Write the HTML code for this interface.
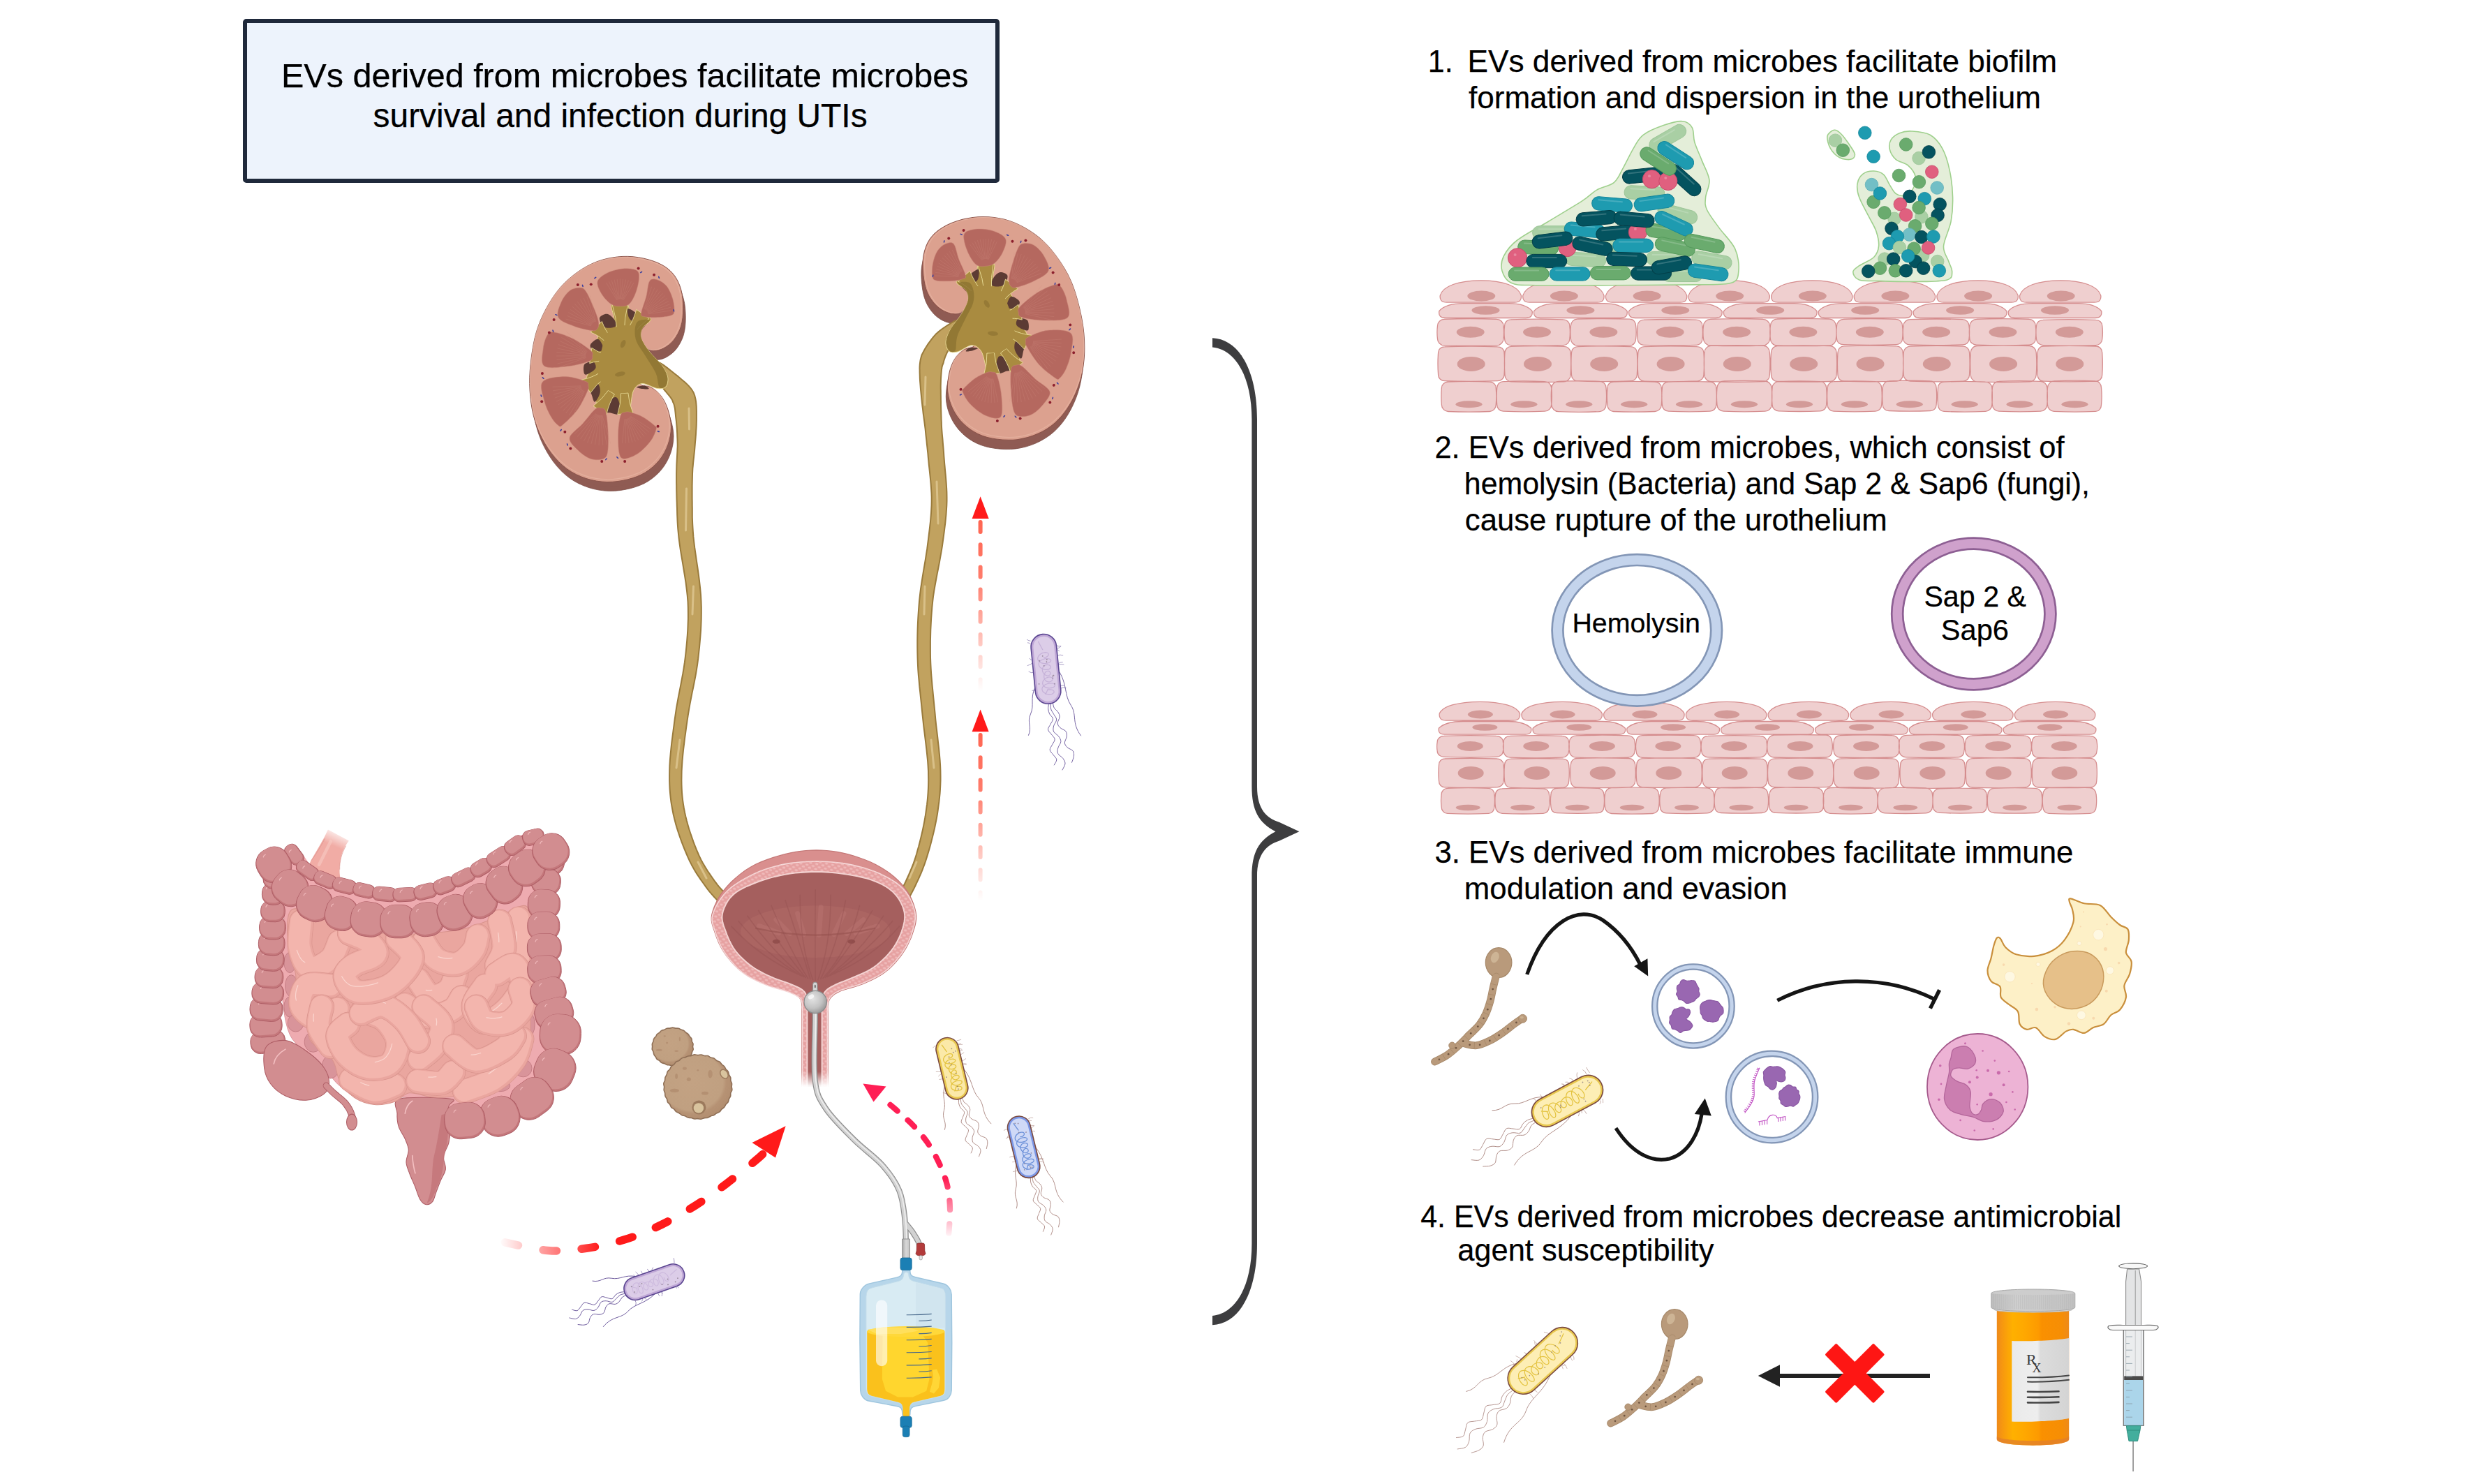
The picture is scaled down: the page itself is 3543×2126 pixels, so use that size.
<!DOCTYPE html>
<html lang="en"><head><meta charset="utf-8"><title>EVs derived from microbes in UTIs</title>
<style>html,body{margin:0;padding:0;background:#fff}body{width:3543px;height:2126px;overflow:hidden}svg{display:block}</style></head>
<body><svg width="3543" height="2126" viewBox="0 0 3543 2126">
<rect width="3543" height="2126" fill="#fff"/>
<rect x="351" y="30" width="1078" height="229" rx="2" fill="#edf3fc" stroke="#1f293b" stroke-width="6"/>
<defs><linearGradient id="gef" gradientUnits="userSpaceOnUse" x1="690" y1="80" x2="640" y2="190"><stop offset="0" stop-color="#f1aca5" stop-opacity="0"/><stop offset="1" stop-color="#f1aca5" stop-opacity="1"/></linearGradient></defs><g transform="translate(340,1170) scale(0.20894)"><path d="M622,88 C590,160 545,230 505,300 C490,330 480,380 490,420 L720,470 C690,400 700,300 722,240 C735,210 750,185 765,165 Z" fill="url(#gef)" stroke="none"/><path d="M600,150 C575,200 545,250 508,300 M745,200 C715,250 700,310 702,362" fill="none" stroke="#d9918b" stroke-width="4" opacity=".8"/><path d="M640,170 C610,230 585,280 560,330" fill="none" stroke="#f8cdc7" stroke-width="22" stroke-linecap="round" opacity=".55"/><path d="M300,420C330,403.3 383.3,543.3 500,600C616.7,656.7 833.3,743.3 1000,760C1166.7,776.7 1333.3,756.7 1500,700C1666.7,643.3 1896.7,420 2000,420C2103.3,420 2101.7,586.7 2120,700C2138.3,813.3 2103.3,975.9 2110,1100C2116.7,1224.1 2161.7,1327 2160,1444.4C2158.3,1561.8 2160,1714.4 2100,1804.4C2040,1894.4 1908.3,1951.1 1800,1984.4C1691.7,2017.7 1558.3,2014.4 1450,2004.4C1341.7,1994.4 1241.7,1931.1 1150,1924.4C1058.3,1917.7 975,1977.7 900,1964.4C825,1951.1 756.7,1892.7 700,1844.4C643.3,1796.1 616.7,1732.7 560,1674.4C503.3,1616.1 403.3,1590.1 360,1494.4C316.7,1398.7 306.7,1232.4 300,1100C293.3,967.6 320,813.3 320,700C320,586.7 270,436.7 300,420Z" fill="#eeabb0" stroke="#d58e95" stroke-width="4"/><ellipse cx="360" cy="1000" rx="40" ry="70" fill="#d9949a" stroke="#c07880" stroke-width="4"/><ellipse cx="370" cy="1160" rx="42" ry="75" fill="#d9949a" stroke="#c07880" stroke-width="4"/><ellipse cx="360" cy="1304.4" rx="40" ry="70" fill="#d9949a" stroke="#c07880" stroke-width="4"/><ellipse cx="400" cy="1414.4" rx="55" ry="60" fill="#d9949a" stroke="#c07880" stroke-width="4"/><ellipse cx="520" cy="1544.4" rx="60" ry="70" fill="#d9949a" stroke="#c07880" stroke-width="4"/><ellipse cx="640" cy="1714.4" rx="60" ry="80" fill="#d9949a" stroke="#c07880" stroke-width="4"/><ellipse cx="1990" cy="1424.4" rx="50" ry="90" fill="#d9949a" stroke="#c07880" stroke-width="4"/><ellipse cx="1960" cy="1724.4" rx="60" ry="60" fill="#d9949a" stroke="#c07880" stroke-width="4"/><ellipse cx="1800" cy="1844.4" rx="70" ry="40" fill="#d9949a" stroke="#c07880" stroke-width="4"/><ellipse cx="2040" cy="700" rx="40" ry="80" fill="#d9949a" stroke="#c07880" stroke-width="4"/><ellipse cx="2030" cy="900" rx="40" ry="90" fill="#d9949a" stroke="#c07880" stroke-width="4"/><path d="M1115,1934.4C1054,1951.1 1097.5,2002.7 1096,2034.4C1094.5,2066.1 1097,2095.2 1106,2124.4C1115,2153.6 1138.7,2182.7 1150,2209.4C1161.3,2236.1 1172.7,2257.7 1174,2284.4C1175.3,2311.1 1156.7,2341.9 1158,2369.4C1159.3,2396.9 1172,2421.9 1182,2449.4C1192,2476.9 1206.3,2505.6 1218,2534.4C1229.7,2563.2 1239.7,2601.7 1252,2622.4C1264.3,2643.1 1277.7,2655.4 1292,2658.4C1306.3,2661.4 1326,2654.7 1338,2640.4C1350,2626.1 1354.7,2596.7 1364,2572.4C1373.3,2548.1 1383.3,2520.4 1394,2494.4C1404.7,2468.4 1424.7,2443.9 1428,2416.4C1431.3,2388.9 1410.3,2359.7 1414,2329.4C1417.7,2299.1 1442.7,2265.2 1450,2234.4C1457.3,2203.6 1460.3,2176.1 1458,2144.4C1455.7,2112.7 1437,2071.9 1436,2044.4C1435,2016.9 1447.7,1997.7 1452,1979.4C1456.3,1961.1 1518.2,1941.9 1462,1934.4C1405.8,1926.9 1176,1917.7 1115,1934.4Z" fill="#d28d90" stroke="#ad5c64" stroke-width="5"/><path d="M1440,2034.4 C1452,2124.4 1445,2234.4 1420,2324.4 C1410,2424.4 1400,2484.4 1365,2544.4 C1350,2594.4 1330,2639.4 1300,2649.4 C1345,2544.4 1330,2444.4 1345,2344.4 C1370,2244.4 1385,2144.4 1400,2044.4 Z" fill="#c4777b" opacity=".9"/><path d="M1150,2034.4 Q1160,1974.4 1200,1949.4 M1200,2324.4 Q1205,2394.4 1220,2444.4" fill="none" stroke="#f3bec0" stroke-width="8" stroke-linecap="round"/><path d="M370,640C411.7,606.7 495,673.3 600,700C705,726.7 850,786.7 1000,800C1150,813.3 1366.7,800 1500,780C1633.3,760 1718.3,706.7 1800,680C1881.7,653.3 1955,583.3 1990,620C2025,656.7 2010,811.7 2010,900C2010,988.3 1990,1072.6 1990,1150C1990,1227.4 2008.3,1295.3 2010,1364.4C2011.7,1433.5 2011.7,1506.1 2000,1564.4C1988.3,1622.7 1976.7,1671.1 1940,1714.4C1903.3,1757.7 1843.3,1792.7 1780,1824.4C1716.7,1856.1 1631.7,1887.7 1560,1904.4C1488.3,1921.1 1413.3,1926.1 1350,1924.4C1286.7,1922.7 1225,1889.4 1180,1894.4C1135,1899.4 1120,1941.1 1080,1954.4C1040,1967.7 986.7,1979.4 940,1974.4C893.3,1969.4 840,1952.7 800,1924.4C760,1896.1 725,1847.7 700,1804.4C675,1761.1 683.3,1709.4 650,1664.4C616.7,1619.4 528.3,1581.1 500,1534.4C471.7,1487.7 496.7,1436.8 480,1384.4C463.3,1332 413.3,1270.7 400,1220C386.7,1169.3 408.3,1133.3 400,1080C391.7,1026.7 355,973.3 350,900C345,826.7 328.3,673.3 370,640Z" fill="#eaa69f" stroke="#d9948d" stroke-width="5"/><path d="M1240,1120C1255,1138.3 1295,1218.3 1330,1230C1365,1241.7 1421.7,1215 1450,1190C1478.3,1165 1491.7,1098.3 1500,1080" fill="none" stroke="#d9948d" stroke-width="172" stroke-linecap="round" stroke-linejoin="round"/><path d="M1240,1120C1255,1138.3 1295,1218.3 1330,1230C1365,1241.7 1421.7,1215 1450,1190C1478.3,1165 1491.7,1098.3 1500,1080" fill="none" stroke="#eaa69f" stroke-width="165" stroke-linecap="round" stroke-linejoin="round"/><path d="M1240,1120C1255,1138.3 1295,1218.3 1330,1230C1365,1241.7 1421.7,1215 1450,1190C1478.3,1165 1491.7,1098.3 1500,1080" fill="none" stroke="#f3b5ad" stroke-width="143" stroke-linecap="round" stroke-linejoin="round" transform="translate(-4,-5)"/><path d="M1330,1230C1333.2,1230.5 1342.3,1232.8 1349.1,1232.8C1355.8,1232.9 1366.8,1230.8 1370.4,1230.4" fill="none" stroke="#fcdad5" stroke-width="6" stroke-linecap="round" opacity=".85" transform="translate(-36.3,-41.2)"/><path d="M1150,1290C1175,1303.3 1246.7,1363.3 1300,1370C1353.3,1376.7 1430,1351.7 1470,1330C1510,1308.3 1528.3,1255 1540,1240" fill="none" stroke="#d9948d" stroke-width="172" stroke-linecap="round" stroke-linejoin="round"/><path d="M1150,1290C1175,1303.3 1246.7,1363.3 1300,1370C1353.3,1376.7 1430,1351.7 1470,1330C1510,1308.3 1528.3,1255 1540,1240" fill="none" stroke="#eaa69f" stroke-width="165" stroke-linecap="round" stroke-linejoin="round"/><path d="M1150,1290C1175,1303.3 1246.7,1363.3 1300,1370C1353.3,1376.7 1430,1351.7 1470,1330C1510,1308.3 1528.3,1255 1540,1240" fill="none" stroke="#f3b5ad" stroke-width="143" stroke-linecap="round" stroke-linejoin="round" transform="translate(-4,-5)"/><path d="M1300,1370C1304.7,1370.1 1318.5,1371.3 1328.3,1370.9C1338.1,1370.4 1353.8,1368 1358.9,1367.4" fill="none" stroke="#fcdad5" stroke-width="6" stroke-linecap="round" opacity=".85" transform="translate(-36.3,-41.2)"/><path d="M1930,700C1933.3,733.3 1955,840 1950,900C1945,960 1908.3,1033.3 1900,1060" fill="none" stroke="#d9948d" stroke-width="172" stroke-linecap="round" stroke-linejoin="round"/><path d="M1930,700C1933.3,733.3 1955,840 1950,900C1945,960 1908.3,1033.3 1900,1060" fill="none" stroke="#eaa69f" stroke-width="165" stroke-linecap="round" stroke-linejoin="round"/><path d="M1930,700C1933.3,733.3 1955,840 1950,900C1945,960 1908.3,1033.3 1900,1060" fill="none" stroke="#f3b5ad" stroke-width="143" stroke-linecap="round" stroke-linejoin="round" transform="translate(-4,-5)"/><path d="M1947.8,828.9C1948.2,835.2 1950.1,854.8 1950.5,866.7C1950.9,878.5 1950.1,894.4 1950,900" fill="none" stroke="#fcdad5" stroke-width="6" stroke-linecap="round" opacity=".85" transform="translate(-36.3,-41.2)"/><path d="M1800,720C1805,750 1833.3,850 1830,900C1826.7,950 1788.3,1000 1780,1020" fill="none" stroke="#d9948d" stroke-width="172" stroke-linecap="round" stroke-linejoin="round"/><path d="M1800,720C1805,750 1833.3,850 1830,900C1826.7,950 1788.3,1000 1780,1020" fill="none" stroke="#eaa69f" stroke-width="165" stroke-linecap="round" stroke-linejoin="round"/><path d="M1800,720C1805,750 1833.3,850 1830,900C1826.7,950 1788.3,1000 1780,1020" fill="none" stroke="#f3b5ad" stroke-width="143" stroke-linecap="round" stroke-linejoin="round" transform="translate(-4,-5)"/><path d="M1824.8,837.8C1825.6,843.4 1828.4,861 1829.3,871.4C1830.1,881.8 1829.9,895.2 1830,900" fill="none" stroke="#fcdad5" stroke-width="6" stroke-linecap="round" opacity=".85" transform="translate(-36.3,-41.2)"/><path d="M440,720C438.3,750 420,846.7 430,900C440,953.3 465,1026.7 500,1040C535,1053.3 606.7,1010 640,980C673.3,950 690,880 700,860" fill="none" stroke="#d9948d" stroke-width="172" stroke-linecap="round" stroke-linejoin="round"/><path d="M440,720C438.3,750 420,846.7 430,900C440,953.3 465,1026.7 500,1040C535,1053.3 606.7,1010 640,980C673.3,950 690,880 700,860" fill="none" stroke="#eaa69f" stroke-width="165" stroke-linecap="round" stroke-linejoin="round"/><path d="M440,720C438.3,750 420,846.7 430,900C440,953.3 465,1026.7 500,1040C535,1053.3 606.7,1010 640,980C673.3,950 690,880 700,860" fill="none" stroke="#f3b5ad" stroke-width="143" stroke-linecap="round" stroke-linejoin="round" transform="translate(-4,-5)"/><path d="M444.8,957C446.6,961.7 451.7,976.2 455.6,985C459.6,993.8 463.9,1002.3 468.5,1009.6C473.1,1016.9 478.1,1023.6 483.4,1028.7C488.6,1033.8 497.2,1038.1 500,1040" fill="none" stroke="#fcdad5" stroke-width="6" stroke-linecap="round" opacity=".85" transform="translate(-36.3,-41.2)"/><path d="M1280,860C1295,880 1331.7,955 1370,980C1408.3,1005 1468.3,1020 1510,1010C1551.7,1000 1596.7,951.7 1620,920C1643.3,888.3 1645,836.7 1650,820" fill="none" stroke="#d9948d" stroke-width="172" stroke-linecap="round" stroke-linejoin="round"/><path d="M1280,860C1295,880 1331.7,955 1370,980C1408.3,1005 1468.3,1020 1510,1010C1551.7,1000 1596.7,951.7 1620,920C1643.3,888.3 1645,836.7 1650,820" fill="none" stroke="#eaa69f" stroke-width="165" stroke-linecap="round" stroke-linejoin="round"/><path d="M1280,860C1295,880 1331.7,955 1370,980C1408.3,1005 1468.3,1020 1510,1010C1551.7,1000 1596.7,951.7 1620,920C1643.3,888.3 1645,836.7 1650,820" fill="none" stroke="#f3b5ad" stroke-width="143" stroke-linecap="round" stroke-linejoin="round" transform="translate(-4,-5)"/><path d="M1414.1,1001.1C1418.2,1002.3 1430.5,1006.3 1438.8,1008.1C1447,1010 1455.5,1011.4 1463.7,1012.2C1471.9,1013 1480.1,1013.4 1487.8,1013C1495.5,1012.6 1506.3,1010.5 1510,1010" fill="none" stroke="#fcdad5" stroke-width="6" stroke-linecap="round" opacity=".85" transform="translate(-36.3,-41.2)"/><path d="M640,1160C613.3,1160 513.3,1136.7 480,1160C446.7,1183.3 426.7,1261.7 440,1300C453.3,1338.3 518.3,1386.7 560,1390C601.7,1393.3 668.3,1331.7 690,1320" fill="none" stroke="#d9948d" stroke-width="172" stroke-linecap="round" stroke-linejoin="round"/><path d="M640,1160C613.3,1160 513.3,1136.7 480,1160C446.7,1183.3 426.7,1261.7 440,1300C453.3,1338.3 518.3,1386.7 560,1390C601.7,1393.3 668.3,1331.7 690,1320" fill="none" stroke="#eaa69f" stroke-width="165" stroke-linecap="round" stroke-linejoin="round"/><path d="M640,1160C613.3,1160 513.3,1136.7 480,1160C446.7,1183.3 426.7,1261.7 440,1300C453.3,1338.3 518.3,1386.7 560,1390C601.7,1393.3 668.3,1331.7 690,1320" fill="none" stroke="#f3b5ad" stroke-width="143" stroke-linecap="round" stroke-linejoin="round" transform="translate(-4,-5)"/><path d="M451.9,1198.1C450.3,1202.5 445,1215.4 442.5,1224.4C440,1233.3 438.1,1242.9 437,1251.9C436,1260.8 435.5,1269.9 436,1277.9C436.5,1286 439.3,1296.3 440,1300" fill="none" stroke="#fcdad5" stroke-width="6" stroke-linecap="round" opacity=".85" transform="translate(-36.3,-41.2)"/><path d="M580,1304.4C576.7,1327.7 550,1399.4 560,1444.4C570,1489.4 626.7,1552.7 640,1574.4" fill="none" stroke="#d9948d" stroke-width="172" stroke-linecap="round" stroke-linejoin="round"/><path d="M580,1304.4C576.7,1327.7 550,1399.4 560,1444.4C570,1489.4 626.7,1552.7 640,1574.4" fill="none" stroke="#eaa69f" stroke-width="165" stroke-linecap="round" stroke-linejoin="round"/><path d="M580,1304.4C576.7,1327.7 550,1399.4 560,1444.4C570,1489.4 626.7,1552.7 640,1574.4" fill="none" stroke="#f3b5ad" stroke-width="143" stroke-linecap="round" stroke-linejoin="round" transform="translate(-4,-5)"/><path d="M560,1393.3C559.6,1397.7 557.8,1411.5 557.8,1420C557.8,1428.5 559.6,1440.3 560,1444.4" fill="none" stroke="#fcdad5" stroke-width="6" stroke-linecap="round" opacity=".85" transform="translate(-36.3,-41.2)"/><path d="M1280,1304.4C1300,1324.4 1386.7,1381.1 1400,1424.4C1413.3,1467.7 1385,1524.4 1360,1564.4C1335,1604.4 1268.3,1647.7 1250,1664.4" fill="none" stroke="#d9948d" stroke-width="172" stroke-linecap="round" stroke-linejoin="round"/><path d="M1280,1304.4C1300,1324.4 1386.7,1381.1 1400,1424.4C1413.3,1467.7 1385,1524.4 1360,1564.4C1335,1604.4 1268.3,1647.7 1250,1664.4" fill="none" stroke="#eaa69f" stroke-width="165" stroke-linecap="round" stroke-linejoin="round"/><path d="M1280,1304.4C1300,1324.4 1386.7,1381.1 1400,1424.4C1413.3,1467.7 1385,1524.4 1360,1564.4C1335,1604.4 1268.3,1647.7 1250,1664.4" fill="none" stroke="#f3b5ad" stroke-width="143" stroke-linecap="round" stroke-linejoin="round" transform="translate(-4,-5)"/><path d="M1400,1424.4C1400.6,1428.2 1403.2,1439.3 1403.4,1447C1403.6,1454.8 1401.5,1467.1 1401.1,1471.1" fill="none" stroke="#fcdad5" stroke-width="6" stroke-linecap="round" opacity=".85" transform="translate(-36.3,-41.2)"/><path d="M1560,1884.4C1593.3,1871.1 1703.3,1841.1 1760,1804.4C1816.7,1767.7 1868.3,1711.1 1900,1664.4C1931.7,1617.7 1941.7,1547.7 1950,1524.4" fill="none" stroke="#d9948d" stroke-width="172" stroke-linecap="round" stroke-linejoin="round"/><path d="M1560,1884.4C1593.3,1871.1 1703.3,1841.1 1760,1804.4C1816.7,1767.7 1868.3,1711.1 1900,1664.4C1931.7,1617.7 1941.7,1547.7 1950,1524.4" fill="none" stroke="#eaa69f" stroke-width="165" stroke-linecap="round" stroke-linejoin="round"/><path d="M1560,1884.4C1593.3,1871.1 1703.3,1841.1 1760,1804.4C1816.7,1767.7 1868.3,1711.1 1900,1664.4C1931.7,1617.7 1941.7,1547.7 1950,1524.4" fill="none" stroke="#f3b5ad" stroke-width="143" stroke-linecap="round" stroke-linejoin="round" transform="translate(-4,-5)"/><path d="M1760,1804.4C1764.6,1801.1 1778.8,1791.6 1787.8,1784.5C1796.9,1777.5 1810,1765.9 1814.4,1762.2" fill="none" stroke="#fcdad5" stroke-width="6" stroke-linecap="round" opacity=".85" transform="translate(-36.3,-41.2)"/><path d="M780,1804.4C806.7,1817.7 890,1877.7 940,1884.4C990,1891.1 1056.7,1851.1 1080,1844.4" fill="none" stroke="#d9948d" stroke-width="172" stroke-linecap="round" stroke-linejoin="round"/><path d="M780,1804.4C806.7,1817.7 890,1877.7 940,1884.4C990,1891.1 1056.7,1851.1 1080,1844.4" fill="none" stroke="#eaa69f" stroke-width="165" stroke-linecap="round" stroke-linejoin="round"/><path d="M780,1804.4C806.7,1817.7 890,1877.7 940,1884.4C990,1891.1 1056.7,1851.1 1080,1844.4" fill="none" stroke="#f3b5ad" stroke-width="143" stroke-linecap="round" stroke-linejoin="round" transform="translate(-4,-5)"/><path d="M882.2,1863.7C887.3,1865.9 903,1873.6 912.6,1877.1C922.3,1880.5 935.4,1883.2 940,1884.4" fill="none" stroke="#fcdad5" stroke-width="6" stroke-linecap="round" opacity=".85" transform="translate(-36.3,-41.2)"/><path d="M1240,1814.4C1266.7,1816.1 1360,1834.4 1400,1824.4C1440,1814.4 1466.7,1766.1 1480,1754.4" fill="none" stroke="#d9948d" stroke-width="172" stroke-linecap="round" stroke-linejoin="round"/><path d="M1240,1814.4C1266.7,1816.1 1360,1834.4 1400,1824.4C1440,1814.4 1466.7,1766.1 1480,1754.4" fill="none" stroke="#eaa69f" stroke-width="165" stroke-linecap="round" stroke-linejoin="round"/><path d="M1240,1814.4C1266.7,1816.1 1360,1834.4 1400,1824.4C1440,1814.4 1466.7,1766.1 1480,1754.4" fill="none" stroke="#f3b5ad" stroke-width="143" stroke-linecap="round" stroke-linejoin="round" transform="translate(-4,-5)"/><path d="M1346.7,1826.6C1351.6,1826.7 1367.2,1827.6 1376.1,1827.2C1385,1826.9 1396,1824.9 1400,1824.4" fill="none" stroke="#fcdad5" stroke-width="6" stroke-linecap="round" opacity=".85" transform="translate(-36.3,-41.2)"/><path d="M1490,1574.4C1515,1591.1 1583.3,1671.1 1640,1674.4C1696.7,1677.7 1786.7,1622.7 1830,1594.4C1873.3,1566.1 1888.3,1519.4 1900,1504.4" fill="none" stroke="#d9948d" stroke-width="172" stroke-linecap="round" stroke-linejoin="round"/><path d="M1490,1574.4C1515,1591.1 1583.3,1671.1 1640,1674.4C1696.7,1677.7 1786.7,1622.7 1830,1594.4C1873.3,1566.1 1888.3,1519.4 1900,1504.4" fill="none" stroke="#eaa69f" stroke-width="165" stroke-linecap="round" stroke-linejoin="round"/><path d="M1490,1574.4C1515,1591.1 1583.3,1671.1 1640,1674.4C1696.7,1677.7 1786.7,1622.7 1830,1594.4C1873.3,1566.1 1888.3,1519.4 1900,1504.4" fill="none" stroke="#f3b5ad" stroke-width="143" stroke-linecap="round" stroke-linejoin="round" transform="translate(-4,-5)"/><path d="M1640,1674.4C1645.1,1673.9 1659.9,1673.8 1670.7,1671.6C1681.5,1669.4 1699.1,1663.1 1704.8,1661.4" fill="none" stroke="#fcdad5" stroke-width="6" stroke-linecap="round" opacity=".85" transform="translate(-36.3,-41.2)"/><path d="M1700,1160C1686.7,1183.3 1620,1258.3 1620,1300C1620,1341.7 1661.7,1406.7 1700,1410C1738.3,1413.3 1808.3,1361.7 1850,1320C1891.7,1278.3 1941.7,1210 1950,1160C1958.3,1110 1928.3,1033.3 1900,1020C1871.7,1006.7 1800,1070 1780,1080" fill="none" stroke="#d9948d" stroke-width="172" stroke-linecap="round" stroke-linejoin="round"/><path d="M1700,1160C1686.7,1183.3 1620,1258.3 1620,1300C1620,1341.7 1661.7,1406.7 1700,1410C1738.3,1413.3 1808.3,1361.7 1850,1320C1891.7,1278.3 1941.7,1210 1950,1160C1958.3,1110 1928.3,1033.3 1900,1020C1871.7,1006.7 1800,1070 1780,1080" fill="none" stroke="#eaa69f" stroke-width="165" stroke-linecap="round" stroke-linejoin="round"/><path d="M1700,1160C1686.7,1183.3 1620,1258.3 1620,1300C1620,1341.7 1661.7,1406.7 1700,1410C1738.3,1413.3 1808.3,1361.7 1850,1320C1891.7,1278.3 1941.7,1210 1950,1160C1958.3,1110 1928.3,1033.3 1900,1020C1871.7,1006.7 1800,1070 1780,1080" fill="none" stroke="#f3b5ad" stroke-width="143" stroke-linecap="round" stroke-linejoin="round" transform="translate(-4,-5)"/><path d="M1700,1410C1703.6,1409.6 1713.8,1409.5 1721.5,1407.4C1729.3,1405.3 1738,1401.7 1746.7,1397.4C1755.4,1393.2 1764.7,1387.7 1773.8,1381.9C1782.8,1376.1 1792.2,1369.3 1801.1,1362.6C1810,1355.8 1818.9,1348.5 1827.1,1341.4C1835.2,1334.3 1846.2,1323.6 1850,1320" fill="none" stroke="#fcdad5" stroke-width="6" stroke-linecap="round" opacity=".85" transform="translate(-36.3,-41.2)"/><path d="M1640,1304.4C1650,1321.1 1665,1386.1 1700,1404.4C1735,1422.7 1806.7,1431.1 1850,1414.4C1893.3,1397.7 1945,1342.7 1960,1304.4C1975,1266.1 1943.3,1204.4 1940,1184.4" fill="none" stroke="#d9948d" stroke-width="172" stroke-linecap="round" stroke-linejoin="round"/><path d="M1640,1304.4C1650,1321.1 1665,1386.1 1700,1404.4C1735,1422.7 1806.7,1431.1 1850,1414.4C1893.3,1397.7 1945,1342.7 1960,1304.4C1975,1266.1 1943.3,1204.4 1940,1184.4" fill="none" stroke="#eaa69f" stroke-width="165" stroke-linecap="round" stroke-linejoin="round"/><path d="M1640,1304.4C1650,1321.1 1665,1386.1 1700,1404.4C1735,1422.7 1806.7,1431.1 1850,1414.4C1893.3,1397.7 1945,1342.7 1960,1304.4C1975,1266.1 1943.3,1204.4 1940,1184.4" fill="none" stroke="#f3b5ad" stroke-width="143" stroke-linecap="round" stroke-linejoin="round" transform="translate(-4,-5)"/><path d="M1744.8,1418.8C1749.3,1419.5 1762.7,1421.8 1771.9,1422.5C1781,1423.3 1790.6,1423.6 1799.6,1423.3C1808.7,1423 1817.9,1422.2 1826.3,1420.7C1834.7,1419.2 1846,1415.5 1850,1414.4" fill="none" stroke="#fcdad5" stroke-width="6" stroke-linecap="round" opacity=".85" transform="translate(-36.3,-41.2)"/><path d="M860,1334.4C885,1344.4 970,1359.4 1010,1394.4C1050,1429.4 1093.3,1494.4 1100,1544.4C1106.7,1594.4 1083.3,1664.4 1050,1694.4C1016.7,1724.4 948.3,1732.7 900,1724.4C851.7,1716.1 795,1681.1 760,1644.4C725,1607.7 690,1541.1 690,1504.4C690,1467.7 748.3,1437.7 760,1424.4" fill="none" stroke="#d9948d" stroke-width="172" stroke-linecap="round" stroke-linejoin="round"/><path d="M860,1334.4C885,1344.4 970,1359.4 1010,1394.4C1050,1429.4 1093.3,1494.4 1100,1544.4C1106.7,1594.4 1083.3,1664.4 1050,1694.4C1016.7,1724.4 948.3,1732.7 900,1724.4C851.7,1716.1 795,1681.1 760,1644.4C725,1607.7 690,1541.1 690,1504.4C690,1467.7 748.3,1437.7 760,1424.4" fill="none" stroke="#eaa69f" stroke-width="165" stroke-linecap="round" stroke-linejoin="round"/><path d="M860,1334.4C885,1344.4 970,1359.4 1010,1394.4C1050,1429.4 1093.3,1494.4 1100,1544.4C1106.7,1594.4 1083.3,1664.4 1050,1694.4C1016.7,1724.4 948.3,1732.7 900,1724.4C851.7,1716.1 795,1681.1 760,1644.4C725,1607.7 690,1541.1 690,1504.4C690,1467.7 748.3,1437.7 760,1424.4" fill="none" stroke="#f3b5ad" stroke-width="143" stroke-linecap="round" stroke-linejoin="round" transform="translate(-4,-5)"/><path d="M1097.4,1598.8C1096.2,1603.5 1093,1617.8 1090,1626.9C1087,1636 1083.3,1645 1079.3,1653.3C1075.2,1661.5 1070.6,1669.5 1065.7,1676.3C1060.9,1683.2 1055.8,1689.2 1050,1694.4C1044.2,1699.6 1037.8,1703.8 1030.7,1707.6C1023.5,1711.4 1015.4,1714.7 1007,1717.4C998.7,1720.1 985,1722.7 980.6,1723.8" fill="none" stroke="#fcdad5" stroke-width="6" stroke-linecap="round" opacity=".85" transform="translate(-36.3,-41.2)"/><path d="M850,1350C875,1341.7 950,1291.7 1000,1300C1050,1308.3 1110,1360 1150,1400C1190,1440 1225,1516.7 1240,1540" fill="none" stroke="#d9948d" stroke-width="172" stroke-linecap="round" stroke-linejoin="round"/><path d="M850,1350C875,1341.7 950,1291.7 1000,1300C1050,1308.3 1110,1360 1150,1400C1190,1440 1225,1516.7 1240,1540" fill="none" stroke="#eaa69f" stroke-width="165" stroke-linecap="round" stroke-linejoin="round"/><path d="M850,1350C875,1341.7 950,1291.7 1000,1300C1050,1308.3 1110,1360 1150,1400C1190,1440 1225,1516.7 1240,1540" fill="none" stroke="#f3b5ad" stroke-width="143" stroke-linecap="round" stroke-linejoin="round" transform="translate(-4,-5)"/><path d="M1000,1300C1004.3,1301.3 1017,1304.1 1025.7,1307.5C1034.4,1311 1047.8,1318.5 1052.2,1320.7" fill="none" stroke="#fcdad5" stroke-width="6" stroke-linecap="round" opacity=".85" transform="translate(-36.3,-41.2)"/><path d="M1100,840C1116.7,860 1195,918.3 1200,960C1205,1001.7 1163.3,1053.3 1130,1090C1096.7,1126.7 1051.7,1161.7 1000,1180C948.3,1198.3 863.3,1213.3 820,1200C776.7,1186.7 743.3,1130 740,1100C736.7,1070 765,1045 800,1020C835,995 933.3,976.7 950,950C966.7,923.3 930,885 900,860C870,835 791.7,810 770,800" fill="none" stroke="#d9948d" stroke-width="172" stroke-linecap="round" stroke-linejoin="round"/><path d="M1100,840C1116.7,860 1195,918.3 1200,960C1205,1001.7 1163.3,1053.3 1130,1090C1096.7,1126.7 1051.7,1161.7 1000,1180C948.3,1198.3 863.3,1213.3 820,1200C776.7,1186.7 743.3,1130 740,1100C736.7,1070 765,1045 800,1020C835,995 933.3,976.7 950,950C966.7,923.3 930,885 900,860C870,835 791.7,810 770,800" fill="none" stroke="#eaa69f" stroke-width="165" stroke-linecap="round" stroke-linejoin="round"/><path d="M1100,840C1116.7,860 1195,918.3 1200,960C1205,1001.7 1163.3,1053.3 1130,1090C1096.7,1126.7 1051.7,1161.7 1000,1180C948.3,1198.3 863.3,1213.3 820,1200C776.7,1186.7 743.3,1130 740,1100C736.7,1070 765,1045 800,1020C835,995 933.3,976.7 950,950C966.7,923.3 930,885 900,860C870,835 791.7,810 770,800" fill="none" stroke="#f3b5ad" stroke-width="143" stroke-linecap="round" stroke-linejoin="round" transform="translate(-4,-5)"/><path d="M1000,1180C995.3,1181.5 981.7,1186.1 971.7,1188.8C961.7,1191.5 950.8,1194.1 940,1196.3C929.2,1198.5 917.8,1200.5 906.9,1201.9C895.9,1203.3 884.8,1204.4 874.4,1204.8C864.1,1205.2 853.9,1205.2 844.8,1204.4C835.7,1203.6 827.6,1202.4 820,1200C812.4,1197.6 805.8,1194.2 799.3,1190C792.7,1185.8 786.5,1180.4 780.7,1174.8C775,1169.2 769.7,1162.7 765,1156.2C760.3,1149.8 754.7,1139.6 752.6,1136.3" fill="none" stroke="#fcdad5" stroke-width="6" stroke-linecap="round" opacity=".85" transform="translate(-36.3,-41.2)"/><path d="M390,260C403.3,276.7 431.7,330 470,360C508.3,390 565,418.3 620,440C675,461.7 736.7,475 800,490C863.3,505 933.3,523.3 1000,530C1066.7,536.7 1133.3,538.3 1200,530C1266.7,521.7 1333.3,503.3 1400,480C1466.7,456.7 1533.3,425 1600,390C1666.7,355 1740,308.3 1800,270C1860,231.7 1921.7,181.7 1960,160C1998.3,138.3 2018.3,143.3 2030,140" fill="none" stroke="#eeabb0" stroke-width="150" stroke-linecap="round" transform="translate(0,45)"/><g transform="translate(390,260) rotate(52.7)"><rect x="-76" y="-47.7" width="151.9" height="95.3" rx="41.9" fill="#c4777b" stroke="#ad5c64" stroke-width="4.5"/><rect x="-76.3" y="-42.5" width="137.9" height="81.3" rx="34.9" fill="#d28d90"/><path d="M-44.7,14.9 q2,-12 14,-16" fill="none" stroke="#f3bec0" stroke-width="6" stroke-linecap="round" opacity=".9" transform="rotate(-52.7 -36.7 4.9)"/></g><g transform="translate(482,368.9) rotate(35.3)"><rect x="-83.4" y="-45.7" width="166.7" height="91.4" rx="40.2" fill="#c4777b" stroke="#ad5c64" stroke-width="4.5"/><rect x="-82.9" y="-42.7" width="152.7" height="77.4" rx="33.2" fill="#d28d90"/><path d="M-43,4 q2,-12 14,-16" fill="none" stroke="#f3bec0" stroke-width="6" stroke-linecap="round" opacity=".9" transform="rotate(-35.3 -35 -6)"/></g><g transform="translate(603.5,433.3) rotate(22.6)"><rect x="-80.2" y="-47" width="160.4" height="94" rx="41.4" fill="#c4777b" stroke="#ad5c64" stroke-width="4.5"/><rect x="-78.7" y="-45.3" width="146.4" height="80" rx="34.4" fill="#d28d90"/><path d="M-41.8,-3.9 q2,-12 14,-16" fill="none" stroke="#f3bec0" stroke-width="6" stroke-linecap="round" opacity=".9" transform="rotate(-22.6 -33.8 -13.9)"/></g><g transform="translate(734.3,474.4) rotate(13.8)"><rect x="-82" y="-49" width="164.1" height="97.9" rx="43.1" fill="#c4777b" stroke="#ad5c64" stroke-width="4.5"/><rect x="-79.6" y="-48.1" width="150.1" height="83.9" rx="36.1" fill="#d28d90"/><path d="M-40.6,-9.8 q2,-12 14,-16" fill="none" stroke="#f3bec0" stroke-width="6" stroke-linecap="round" opacity=".9" transform="rotate(-13.8 -32.6 -19.8)"/></g><g transform="translate(868.5,506.3) rotate(13.1)"><rect x="-75.5" y="-46.2" width="151" height="92.4" rx="40.7" fill="#c4777b" stroke="#ad5c64" stroke-width="4.5"/><rect x="-73" y="-45.3" width="137" height="78.4" rx="33.7" fill="#d28d90"/><path d="M-38.5,-9 q2,-12 14,-16" fill="none" stroke="#f3bec0" stroke-width="6" stroke-linecap="round" opacity=".9" transform="rotate(-13.1 -30.5 -19)"/></g><g transform="translate(1010,531) rotate(5.3)"><rect x="-84.2" y="-48.4" width="168.4" height="96.9" rx="42.6" fill="#c4777b" stroke="#ad5c64" stroke-width="4.5"/><rect x="-80.8" y="-48.1" width="154.4" height="82.9" rx="35.6" fill="#d28d90"/><path d="M-37,-14.1 q2,-12 14,-16" fill="none" stroke="#f3bec0" stroke-width="6" stroke-linecap="round" opacity=".9" transform="rotate(-5.3 -29 -24.1)"/></g><g transform="translate(1150,534.5) rotate(-3.1)"><rect x="-83.3" y="-47" width="166.7" height="94.1" rx="41.4" fill="#c4777b" stroke="#ad5c64" stroke-width="4.5"/><rect x="-79" y="-47.2" width="152.7" height="80.1" rx="34.4" fill="#d28d90"/><path d="M-32.4,-17.3 q2,-12 14,-16" fill="none" stroke="#f3bec0" stroke-width="6" stroke-linecap="round" opacity=".9" transform="rotate(3.1 -24.4 -27.3)"/></g><g transform="translate(1290,513.1) rotate(-13.8)"><rect x="-79.6" y="-50.7" width="159.2" height="101.5" rx="44.6" fill="#c4777b" stroke="#ad5c64" stroke-width="4.5"/><rect x="-73.9" y="-51.2" width="145.2" height="87.5" rx="37.6" fill="#d28d90"/><path d="M-28.5,-23.7 q2,-12 14,-16" fill="none" stroke="#f3bec0" stroke-width="6" stroke-linecap="round" opacity=".9" transform="rotate(13.8 -20.5 -33.7)"/></g><g transform="translate(1420,472.8) rotate(-20.5)"><rect x="-77.1" y="-52.3" width="154.1" height="104.5" rx="46" fill="#c4777b" stroke="#ad5c64" stroke-width="4.5"/><rect x="-70.4" y="-52.9" width="140.1" height="90.5" rx="39" fill="#d28d90"/><path d="M-24.8,-27 q2,-12 14,-16" fill="none" stroke="#f3bec0" stroke-width="6" stroke-linecap="round" opacity=".9" transform="rotate(20.5 -16.8 -37)"/></g><g transform="translate(1550,415.5) rotate(-26.3)"><rect x="-85" y="-48.6" width="169.9" height="97.2" rx="42.8" fill="#c4777b" stroke="#ad5c64" stroke-width="4.5"/><rect x="-77.6" y="-49.2" width="155.9" height="83.2" rx="35.8" fill="#d28d90"/><path d="M-20.1,-25.8 q2,-12 14,-16" fill="none" stroke="#f3bec0" stroke-width="6" stroke-linecap="round" opacity=".9" transform="rotate(26.3 -12.1 -35.8)"/></g><g transform="translate(1671.6,349.8) rotate(-30.6)"><rect x="-74.7" y="-51.4" width="149.4" height="102.9" rx="45.3" fill="#c4777b" stroke="#ad5c64" stroke-width="4.5"/><rect x="-66.7" y="-52" width="135.4" height="88.9" rx="38.3" fill="#d28d90"/><path d="M-18,-28.8 q2,-12 14,-16" fill="none" stroke="#f3bec0" stroke-width="6" stroke-linecap="round" opacity=".9" transform="rotate(30.6 -10 -38.8)"/></g><g transform="translate(1790.9,275.8) rotate(-32.5)"><rect x="-85.4" y="-51.2" width="170.8" height="102.4" rx="45.1" fill="#c4777b" stroke="#ad5c64" stroke-width="4.5"/><rect x="-77.2" y="-51.7" width="156.8" height="88.4" rx="38.1" fill="#d28d90"/><path d="M-16.6,-28.9 q2,-12 14,-16" fill="none" stroke="#f3bec0" stroke-width="6" stroke-linecap="round" opacity=".9" transform="rotate(32.5 -8.6 -38.9)"/></g><g transform="translate(1904.4,197) rotate(-35.6)"><rect x="-76.9" y="-51.9" width="153.9" height="103.8" rx="45.7" fill="#c4777b" stroke="#ad5c64" stroke-width="4.5"/><rect x="-68.3" y="-52.3" width="139.9" height="89.8" rx="38.7" fill="#d28d90"/><path d="M-14.6,-29.8 q2,-12 14,-16" fill="none" stroke="#f3bec0" stroke-width="6" stroke-linecap="round" opacity=".9" transform="rotate(35.6 -6.6 -39.8)"/></g><g transform="translate(2030,140) rotate(-13.7)"><rect x="-74.7" y="-51.4" width="149.5" height="102.9" rx="45.3" fill="#c4777b" stroke="#ad5c64" stroke-width="4.5"/><rect x="-69" y="-52" width="135.5" height="88.9" rx="38.3" fill="#d28d90"/><path d="M-28.8,-24.2 q2,-12 14,-16" fill="none" stroke="#f3bec0" stroke-width="6" stroke-linecap="round" opacity=".9" transform="rotate(13.7 -20.8 -34.2)"/></g><g transform="translate(2140,300) rotate(98.8)"><rect x="-101.7" y="-104.5" width="203.4" height="209.1" rx="89.5" fill="#c4777b" stroke="#ad5c64" stroke-width="4.5"/><rect x="-101.1" y="-93.5" width="189.4" height="195.1" rx="82.5" fill="#d28d90"/><path d="M-54.7,73.8 q2,-12 14,-16" fill="none" stroke="#f3bec0" stroke-width="6" stroke-linecap="round" opacity=".9" transform="rotate(-98.8 -46.7 63.8)"/></g><g transform="translate(2116.8,445.3) rotate(98.1)"><rect x="-89.1" y="-100.4" width="178.3" height="200.8" rx="78.4" fill="#c4777b" stroke="#ad5c64" stroke-width="4.5"/><rect x="-88.6" y="-89.4" width="164.3" height="186.8" rx="71.4" fill="#d28d90"/><path d="M-49.7,65.4 q2,-12 14,-16" fill="none" stroke="#f3bec0" stroke-width="6" stroke-linecap="round" opacity=".9" transform="rotate(-98.1 -41.7 55.4)"/></g><g transform="translate(2102.8,600) rotate(92.7)"><rect x="-100" y="-110.3" width="200" height="220.6" rx="88" fill="#c4777b" stroke="#ad5c64" stroke-width="4.5"/><rect x="-99.9" y="-100" width="186" height="206.6" rx="81" fill="#d28d90"/><path d="M-60.4,67.5 q2,-12 14,-16" fill="none" stroke="#f3bec0" stroke-width="6" stroke-linecap="round" opacity=".9" transform="rotate(-92.7 -52.4 57.5)"/></g><g transform="translate(2100.2,750) rotate(89)"><rect x="-97.7" y="-109.9" width="195.4" height="219.8" rx="86" fill="#c4777b" stroke="#ad5c64" stroke-width="4.5"/><rect x="-97.7" y="-100" width="181.4" height="205.8" rx="79" fill="#d28d90"/><path d="M-62.7,62.8 q2,-12 14,-16" fill="none" stroke="#f3bec0" stroke-width="6" stroke-linecap="round" opacity=".9" transform="rotate(-89 -54.7 52.8)"/></g><g transform="translate(2105,900) rotate(88.7)"><rect x="-96.8" y="-116.7" width="193.6" height="233.4" rx="85.2" fill="#c4777b" stroke="#ad5c64" stroke-width="4.5"/><rect x="-96.9" y="-106.8" width="179.6" height="219.4" rx="78.2" fill="#d28d90"/><path d="M-62.5,62 q2,-12 14,-16" fill="none" stroke="#f3bec0" stroke-width="6" stroke-linecap="round" opacity=".9" transform="rotate(-88.7 -54.5 52)"/></g><g transform="translate(2105.6,1049.7) rotate(87.4)"><rect x="-96.5" y="-115.7" width="192.9" height="231.4" rx="84.9" fill="#c4777b" stroke="#ad5c64" stroke-width="4.5"/><rect x="-96.6" y="-106" width="178.9" height="217.4" rx="77.9" fill="#d28d90"/><path d="M-63.4,60.5 q2,-12 14,-16" fill="none" stroke="#f3bec0" stroke-width="6" stroke-linecap="round" opacity=".9" transform="rotate(-87.4 -55.4 50.5)"/></g><g transform="translate(2131.9,1202.8) rotate(75.1)"><rect x="-94.4" y="-121.9" width="188.7" height="243.9" rx="83" fill="#c4777b" stroke="#ad5c64" stroke-width="4.5"/><rect x="-94.9" y="-113.8" width="174.7" height="229.9" rx="76" fill="#d28d90"/><path d="M-71.5,46.8 q2,-12 14,-16" fill="none" stroke="#f3bec0" stroke-width="6" stroke-linecap="round" opacity=".9" transform="rotate(-75.1 -63.5 36.8)"/></g><g transform="translate(2171.6,1346.4) rotate(74.2)"><rect x="-98.4" y="-132.5" width="196.9" height="265" rx="86.6" fill="#c4777b" stroke="#ad5c64" stroke-width="4.5"/><rect x="-99" y="-124.5" width="182.9" height="251" rx="79.6" fill="#d28d90"/><path d="M-74.8,47.4 q2,-12 14,-16" fill="none" stroke="#f3bec0" stroke-width="6" stroke-linecap="round" opacity=".9" transform="rotate(-74.2 -66.8 37.4)"/></g><g transform="translate(2215,1494.4) rotate(73.7)"><rect x="-101.6" y="-131.2" width="203.2" height="262.3" rx="89.4" fill="#c4777b" stroke="#ad5c64" stroke-width="4.5"/><rect x="-102.2" y="-123.2" width="189.2" height="248.3" rx="82.4" fill="#d28d90"/><path d="M-77.3,48 q2,-12 14,-16" fill="none" stroke="#f3bec0" stroke-width="6" stroke-linecap="round" opacity=".9" transform="rotate(-73.7 -69.3 38)"/></g><g transform="translate(2215,1494.4) rotate(93.3)"><rect x="-139" y="-141.3" width="278" height="282.5" rx="122.3" fill="#c4777b" stroke="#ad5c64" stroke-width="4.5"/><rect x="-138.8" y="-130.9" width="264" height="268.5" rx="115.3" fill="#d28d90"/><path d="M-79.8,90.8 q2,-12 14,-16" fill="none" stroke="#f3bec0" stroke-width="6" stroke-linecap="round" opacity=".9" transform="rotate(-93.3 -71.8 80.8)"/></g><g transform="translate(2176.8,1736.5) rotate(112.7)"><rect x="-141.8" y="-138.2" width="283.5" height="276.4" rx="121.6" fill="#c4777b" stroke="#ad5c64" stroke-width="4.5"/><rect x="-140.1" y="-125.7" width="269.5" height="262.4" rx="114.6" fill="#d28d90"/><path d="M-48.8,109.4 q2,-12 14,-16" fill="none" stroke="#f3bec0" stroke-width="6" stroke-linecap="round" opacity=".9" transform="rotate(-112.7 -40.8 99.4)"/></g><g transform="translate(2020.3,1933) rotate(144.2)"><rect x="-147.2" y="-128" width="294.4" height="256" rx="112.6" fill="#c4777b" stroke="#ad5c64" stroke-width="4.5"/><rect x="-141.8" y="-113.5" width="280.4" height="242" rx="105.6" fill="#d28d90"/><path d="M7.9,108.3 q2,-12 14,-16" fill="none" stroke="#f3bec0" stroke-width="6" stroke-linecap="round" opacity=".9" transform="rotate(-144.2 15.9 98.3)"/></g><g transform="translate(1800,2054.4) rotate(159.3)"><rect x="-134.2" y="-133.3" width="268.5" height="266.6" rx="117.3" fill="#c4777b" stroke="#ad5c64" stroke-width="4.5"/><rect x="-126.9" y="-118.7" width="254.5" height="252.6" rx="110.3" fill="#d28d90"/><path d="M34.7,104.5 q2,-12 14,-16" fill="none" stroke="#f3bec0" stroke-width="6" stroke-linecap="round" opacity=".9" transform="rotate(-159.3 42.7 94.5)"/></g><g transform="translate(1560,2084.4) rotate(174.3)"><rect x="-139.4" y="-122.6" width="278.9" height="245.3" rx="107.9" fill="#c4777b" stroke="#ad5c64" stroke-width="4.5"/><rect x="-130.2" y="-108.4" width="264.9" height="231.3" rx="100.9" fill="#d28d90"/><path d="M52.4,83.9 q2,-12 14,-16" fill="none" stroke="#f3bec0" stroke-width="6" stroke-linecap="round" opacity=".9" transform="rotate(-174.3 60.4 73.9)"/></g><g transform="translate(210,1544.4) rotate(83.7)"><rect x="-75.3" y="-119.4" width="150.5" height="238.9" rx="66.2" fill="#c4777b" stroke="#ad5c64" stroke-width="4.5"/><rect x="-75.5" y="-110.2" width="136.5" height="224.9" rx="59.2" fill="#d28d90"/><path d="M-53.7,46.6 q2,-12 14,-16" fill="none" stroke="#f3bec0" stroke-width="6" stroke-linecap="round" opacity=".9" transform="rotate(-83.7 -45.7 36.6)"/></g><g transform="translate(196.3,1429.6) rotate(86.1)"><rect x="-80.8" y="-110.7" width="161.6" height="221.4" rx="71.1" fill="#c4777b" stroke="#ad5c64" stroke-width="4.5"/><rect x="-81" y="-101.2" width="147.6" height="207.4" rx="64.1" fill="#d28d90"/><path d="M-55.4,51.3 q2,-12 14,-16" fill="none" stroke="#f3bec0" stroke-width="6" stroke-linecap="round" opacity=".9" transform="rotate(-86.1 -47.4 41.3)"/></g><g transform="translate(198.8,1320.1) rotate(94.9)"><rect x="-81.1" y="-112.6" width="162.3" height="225.1" rx="71.4" fill="#c4777b" stroke="#ad5c64" stroke-width="4.5"/><rect x="-80.9" y="-102" width="148.3" height="211.1" rx="64.4" fill="#d28d90"/><path d="M-48.7,58.3 q2,-12 14,-16" fill="none" stroke="#f3bec0" stroke-width="6" stroke-linecap="round" opacity=".9" transform="rotate(-94.9 -40.7 48.3)"/></g><g transform="translate(209.2,1209.9) rotate(94.7)"><rect x="-74.2" y="-109.3" width="148.3" height="218.6" rx="65.3" fill="#c4777b" stroke="#ad5c64" stroke-width="4.5"/><rect x="-73.9" y="-98.7" width="134.3" height="204.6" rx="58.3" fill="#d28d90"/><path d="M-45.3,54 q2,-12 14,-16" fill="none" stroke="#f3bec0" stroke-width="6" stroke-linecap="round" opacity=".9" transform="rotate(-94.7 -37.3 44)"/></g><g transform="translate(217.5,1100.3) rotate(94.3)"><rect x="-73.7" y="-97.4" width="147.4" height="194.9" rx="64.9" fill="#c4777b" stroke="#ad5c64" stroke-width="4.5"/><rect x="-73.5" y="-86.9" width="133.4" height="180.9" rx="57.9" fill="#d28d90"/><path d="M-45.4,53.4 q2,-12 14,-16" fill="none" stroke="#f3bec0" stroke-width="6" stroke-linecap="round" opacity=".9" transform="rotate(-94.3 -37.4 43.4)"/></g><g transform="translate(226.5,980) rotate(94.5)"><rect x="-77.8" y="-94.8" width="155.6" height="189.6" rx="68.5" fill="#c4777b" stroke="#ad5c64" stroke-width="4.5"/><rect x="-77.6" y="-84.3" width="141.6" height="175.6" rx="61.5" fill="#d28d90"/><path d="M-47.3,56 q2,-12 14,-16" fill="none" stroke="#f3bec0" stroke-width="6" stroke-linecap="round" opacity=".9" transform="rotate(-94.5 -39.3 46)"/></g><g transform="translate(235.5,870) rotate(94.3)"><rect x="-80.4" y="-90.2" width="160.8" height="180.3" rx="70.8" fill="#c4777b" stroke="#ad5c64" stroke-width="4.5"/><rect x="-80.2" y="-79.6" width="146.8" height="166.3" rx="63.8" fill="#d28d90"/><path d="M-48.8,57.4 q2,-12 14,-16" fill="none" stroke="#f3bec0" stroke-width="6" stroke-linecap="round" opacity=".9" transform="rotate(-94.3 -40.8 47.4)"/></g><g transform="translate(241.6,759.7) rotate(91.9)"><rect x="-82.1" y="-90.6" width="164.3" height="181.1" rx="72.3" fill="#c4777b" stroke="#ad5c64" stroke-width="4.5"/><rect x="-82" y="-80.3" width="150.3" height="167.1" rx="65.3" fill="#d28d90"/><path d="M-51.7,56.6 q2,-12 14,-16" fill="none" stroke="#f3bec0" stroke-width="6" stroke-linecap="round" opacity=".9" transform="rotate(-91.9 -43.7 46.6)"/></g><g transform="translate(244,648.6) rotate(91)"><rect x="-72.5" y="-83.2" width="145" height="166.4" rx="63.8" fill="#c4777b" stroke="#ad5c64" stroke-width="4.5"/><rect x="-72.4" y="-73.1" width="131" height="152.4" rx="56.8" fill="#d28d90"/><path d="M-47.2,50.6 q2,-12 14,-16" fill="none" stroke="#f3bec0" stroke-width="6" stroke-linecap="round" opacity=".9" transform="rotate(-91 -39.2 40.6)"/></g><g transform="translate(246.9,528.4) rotate(91.6)"><rect x="-76.2" y="-77.2" width="152.5" height="154.4" rx="67.1" fill="#c4777b" stroke="#ad5c64" stroke-width="4.5"/><rect x="-76.1" y="-67" width="138.5" height="140.4" rx="60.1" fill="#d28d90"/><path d="M-48.7,53.1 q2,-12 14,-16" fill="none" stroke="#f3bec0" stroke-width="6" stroke-linecap="round" opacity=".9" transform="rotate(-91.6 -40.7 43.1)"/></g><g transform="translate(250,420) rotate(91.6)"><rect x="-74.4" y="-72.7" width="148.8" height="145.4" rx="64" fill="#c4777b" stroke="#ad5c64" stroke-width="4.5"/><rect x="-74.3" y="-62.5" width="134.8" height="131.4" rx="57" fill="#d28d90"/><path d="M-46.9,51.1 q2,-12 14,-16" fill="none" stroke="#f3bec0" stroke-width="6" stroke-linecap="round" opacity=".9" transform="rotate(-91.6 -38.9 41.1)"/></g><path d="M200,1574.4C224.2,1542.7 285,1529.4 330,1534.4C375,1539.4 426.7,1574.4 470,1604.4C513.3,1634.4 563.3,1677.7 590,1714.4C616.7,1751.1 630,1792.7 630,1824.4C630,1856.1 616.7,1884.4 590,1904.4C563.3,1924.4 513.3,1942.7 470,1944.4C426.7,1946.1 370,1932.7 330,1914.4C290,1896.1 254.2,1866.1 230,1834.4C205.8,1802.7 190,1767.7 185,1724.4C180,1681.1 175.8,1606.1 200,1574.4Z" fill="#d28d90" stroke="#ad5c64" stroke-width="5"/><path d="M250,1694.4 Q260,1634.4 330,1594.4" fill="none" stroke="#f3bec0" stroke-width="8" stroke-linecap="round"/><path d="M610,1844.4C618.3,1852.7 638.3,1874.4 660,1894.4C681.7,1914.4 719.2,1939.4 740,1964.4C760.8,1989.4 776.7,2019.4 785,2044.4C793.3,2069.4 789.2,2102.7 790,2114.4" fill="none" stroke="#ad5c64" stroke-width="46" stroke-linecap="round"/><path d="M610,1844.4C618.3,1852.7 638.3,1874.4 660,1894.4C681.7,1914.4 719.2,1939.4 740,1964.4C760.8,1989.4 776.7,2019.4 785,2044.4C793.3,2069.4 789.2,2102.7 790,2114.4" fill="none" stroke="#d28d90" stroke-width="37" stroke-linecap="round"/><ellipse cx="785" cy="2094.4" rx="36" ry="55" fill="#d28d90" stroke="#ad5c64" stroke-width="5"/><g transform="translate(250,330) rotate(59.5)"><rect x="-119" y="-115.5" width="237.9" height="231" rx="101.6" fill="#c4777b" stroke="#ad5c64" stroke-width="4.5"/><rect x="-119.5" y="-109.5" width="223.9" height="217" rx="94.6" fill="#d28d90"/><path d="M-95,32.6 q2,-12 14,-16" fill="none" stroke="#f3bec0" stroke-width="6" stroke-linecap="round" opacity=".9" transform="rotate(-59.5 -87 22.6)"/></g><g transform="translate(362.1,489.7) rotate(39.9)"><rect x="-121.9" y="-118.5" width="243.8" height="237" rx="104.3" fill="#c4777b" stroke="#ad5c64" stroke-width="4.5"/><rect x="-121.7" y="-114.9" width="229.8" height="223" rx="97.3" fill="#d28d90"/><path d="M-99.8,1.8 q2,-12 14,-16" fill="none" stroke="#f3bec0" stroke-width="6" stroke-linecap="round" opacity=".9" transform="rotate(-39.9 -91.8 -8.2)"/></g><g transform="translate(529.2,596) rotate(25.7)"><rect x="-121" y="-119.2" width="241.9" height="238.5" rx="104.9" fill="#c4777b" stroke="#ad5c64" stroke-width="4.5"/><rect x="-119.7" y="-117.2" width="227.9" height="224.5" rx="97.9" fill="#d28d90"/><path d="M-95.6,-20.6 q2,-12 14,-16" fill="none" stroke="#f3bec0" stroke-width="6" stroke-linecap="round" opacity=".9" transform="rotate(-25.7 -87.6 -30.6)"/></g><g transform="translate(712.3,664.5) rotate(15.7)"><rect x="-108.8" y="-115.4" width="217.6" height="230.9" rx="95.7" fill="#c4777b" stroke="#ad5c64" stroke-width="4.5"/><rect x="-106.6" y="-114.4" width="203.6" height="216.9" rx="88.7" fill="#d28d90"/><path d="M-81.8,-31.5 q2,-12 14,-16" fill="none" stroke="#f3bec0" stroke-width="6" stroke-linecap="round" opacity=".9" transform="rotate(-15.7 -73.8 -41.5)"/></g><g transform="translate(901.5,704) rotate(8.1)"><rect x="-124.4" y="-118.3" width="248.9" height="236.5" rx="104.1" fill="#c4777b" stroke="#ad5c64" stroke-width="4.5"/><rect x="-121.4" y="-117.8" width="234.9" height="222.5" rx="97.1" fill="#d28d90"/><path d="M-81.5,-45.3 q2,-12 14,-16" fill="none" stroke="#f3bec0" stroke-width="6" stroke-linecap="round" opacity=".9" transform="rotate(-8.1 -73.5 -55.3)"/></g><g transform="translate(1103.8,718.3) rotate(0.3)"><rect x="-123.7" y="-113.6" width="247.4" height="227.1" rx="99.9" fill="#c4777b" stroke="#ad5c64" stroke-width="4.5"/><rect x="-119.7" y="-113.5" width="233.4" height="213.1" rx="92.9" fill="#d28d90"/><path d="M-70.7,-52.2 q2,-12 14,-16" fill="none" stroke="#f3bec0" stroke-width="6" stroke-linecap="round" opacity=".9" transform="rotate(-0.3 -62.7 -62.2)"/></g><g transform="translate(1299.4,704.6) rotate(-8)"><rect x="-116.3" y="-115.9" width="232.6" height="231.7" rx="102" fill="#c4777b" stroke="#ad5c64" stroke-width="4.5"/><rect x="-111.3" y="-116.2" width="218.6" height="217.7" rx="95" fill="#d28d90"/><path d="M-62.2,-62 q2,-12 14,-16" fill="none" stroke="#f3bec0" stroke-width="6" stroke-linecap="round" opacity=".9" transform="rotate(8 -54.2 -72)"/></g><g transform="translate(1491.1,657) rotate(-19.6)"><rect x="-117.6" y="-120.2" width="235.2" height="240.5" rx="103.5" fill="#c4777b" stroke="#ad5c64" stroke-width="4.5"/><rect x="-111.1" y="-120.8" width="221.2" height="226.5" rx="96.5" fill="#d28d90"/><path d="M-47.3,-72.6 q2,-12 14,-16" fill="none" stroke="#f3bec0" stroke-width="6" stroke-linecap="round" opacity=".9" transform="rotate(19.6 -39.3 -82.6)"/></g><g transform="translate(1665.3,577.6) rotate(-29.9)"><rect x="-108.5" y="-117.3" width="217" height="234.6" rx="95.5" fill="#c4777b" stroke="#ad5c64" stroke-width="4.5"/><rect x="-100.6" y="-117.9" width="203" height="220.6" rx="88.5" fill="#d28d90"/><path d="M-29.9,-71.5 q2,-12 14,-16" fill="none" stroke="#f3bec0" stroke-width="6" stroke-linecap="round" opacity=".9" transform="rotate(29.9 -21.9 -81.5)"/></g><g transform="translate(1830.1,469.3) rotate(-36.8)"><rect x="-113.1" y="-125.8" width="226.2" height="251.6" rx="99.5" fill="#c4777b" stroke="#ad5c64" stroke-width="4.5"/><rect x="-104.3" y="-126.2" width="212.2" height="237.6" rx="92.5" fill="#d28d90"/><path d="M-20.5,-77.1 q2,-12 14,-16" fill="none" stroke="#f3bec0" stroke-width="6" stroke-linecap="round" opacity=".9" transform="rotate(36.8 -12.5 -87.1)"/></g><g transform="translate(1985.7,351.8) rotate(-35.8)"><rect x="-121.4" y="-118.5" width="242.8" height="236.9" rx="104.3" fill="#c4777b" stroke="#ad5c64" stroke-width="4.5"/><rect x="-112.7" y="-118.9" width="228.8" height="222.9" rx="97.3" fill="#d28d90"/><path d="M-22.7,-81 q2,-12 14,-16" fill="none" stroke="#f3bec0" stroke-width="6" stroke-linecap="round" opacity=".9" transform="rotate(35.8 -14.7 -91)"/></g><g transform="translate(2150,240) rotate(-32.5)"><rect x="-121.9" y="-119.1" width="243.9" height="238.3" rx="104.8" fill="#c4777b" stroke="#ad5c64" stroke-width="4.5"/><rect x="-113.7" y="-119.6" width="229.9" height="224.3" rx="97.8" fill="#d28d90"/><path d="M-28.1,-80.5 q2,-12 14,-16" fill="none" stroke="#f3bec0" stroke-width="6" stroke-linecap="round" opacity=".9" transform="rotate(32.5 -20.1 -90.5)"/></g></g>
<g transform="translate(740,350) scale(0.24944)"><path d="M594,124C634,119.8 674,120.7 714,127C754,133.3 800.7,146.2 834,162C867.3,177.8 893.2,197 914,222C934.8,247 949.5,278.7 959,312C968.5,345.3 971,387 971,422C971,457 968,492 959,522C950,552 933.7,580.8 917,602C900.3,623.2 878.2,638.8 859,649C839.8,659.2 819.2,663.8 802,663C784.8,662.2 768.2,655 756,644C743.8,633 734.2,612.3 729,597C723.8,581.7 722,567 725,552C728,537 737.2,518.7 747,507C756.8,495.3 789.5,471.2 784,482C778.5,492.8 729,537 714,572C699,607 695.7,652 694,692C692.3,732 698.2,784 704,812C709.8,840 715.7,850 729,860C742.3,870 764.8,861.7 784,872C803.2,882.3 827.3,900.3 844,922C860.7,943.7 874.3,972 884,1002C893.7,1032 902,1068.7 902,1102C902,1135.3 895.3,1170.3 884,1202C872.7,1233.7 855.7,1265.3 834,1292C812.3,1318.7 784,1343.7 754,1362C724,1380.3 690.7,1392.8 654,1402C617.3,1411.2 574,1417.8 534,1417C494,1416.2 452.3,1409.5 414,1397C375.7,1384.5 337.3,1366.2 304,1342C270.7,1317.8 240.7,1287 214,1252C187.3,1217 162.3,1173.7 144,1132C125.7,1090.3 113.2,1048.7 104,1002C94.8,955.3 89.8,902 89,852C88.2,802 92.3,752 99,702C105.7,652 114.8,598.7 129,552C143.2,505.3 161.5,463.7 184,422C206.5,380.3 234,337 264,302C294,267 329,237 364,212C399,187 435.7,166.7 474,152C512.3,137.3 554,128.2 594,124Z" fill="#8f5b53" stroke="#7a4a43" stroke-width="3"/><path d="M587,98C627,93.8 667,94.7 707,101C747,107.3 793.7,120.2 827,136C860.3,151.8 886.2,171 907,196C927.8,221 942.5,252.7 952,286C961.5,319.3 964,361 964,396C964,431 961,466 952,496C943,526 926.7,554.8 910,576C893.3,597.2 871.2,612.8 852,623C832.8,633.2 812.2,637.8 795,637C777.8,636.2 761.2,629 749,618C736.8,607 727.2,586.3 722,571C716.8,555.7 715,541 718,526C721,511 730.2,492.7 740,481C749.8,469.3 782.5,445.2 777,456C771.5,466.8 722,511 707,546C692,581 688.7,626 687,666C685.3,706 691.2,758 697,786C702.8,814 708.7,824 722,834C735.3,844 757.8,835.7 777,846C796.2,856.3 820.3,874.3 837,896C853.7,917.7 867.3,946 877,976C886.7,1006 895,1042.7 895,1076C895,1109.3 888.3,1144.3 877,1176C865.7,1207.7 848.7,1239.3 827,1266C805.3,1292.7 777,1317.7 747,1336C717,1354.3 683.7,1366.8 647,1376C610.3,1385.2 567,1391.8 527,1391C487,1390.2 445.3,1383.5 407,1371C368.7,1358.5 330.3,1340.2 297,1316C263.7,1291.8 233.7,1261 207,1226C180.3,1191 155.3,1147.7 137,1106C118.7,1064.3 106.2,1022.7 97,976C87.8,929.3 82.8,876 82,826C81.2,776 85.3,726 92,676C98.7,626 107.8,572.7 122,526C136.2,479.3 154.5,437.7 177,396C199.5,354.3 227,311 257,276C287,241 322,211 357,186C392,161 428.7,140.7 467,126C505.3,111.3 547,102.2 587,98Z" fill="#8f5b53"/><path d="M580,72C620,67.8 660,68.7 700,75C740,81.3 786.7,94.2 820,110C853.3,125.8 879.2,145 900,170C920.8,195 935.5,226.7 945,260C954.5,293.3 957,335 957,370C957,405 954,440 945,470C936,500 919.7,528.8 903,550C886.3,571.2 864.2,586.8 845,597C825.8,607.2 805.2,611.8 788,611C770.8,610.2 754.2,603 742,592C729.8,581 720.2,560.3 715,545C709.8,529.7 708,515 711,500C714,485 723.2,466.7 733,455C742.8,443.3 775.5,419.2 770,430C764.5,440.8 715,485 700,520C685,555 681.7,600 680,640C678.3,680 684.2,732 690,760C695.8,788 701.7,798 715,808C728.3,818 750.8,809.7 770,820C789.2,830.3 813.3,848.3 830,870C846.7,891.7 860.3,920 870,950C879.7,980 888,1016.7 888,1050C888,1083.3 881.3,1118.3 870,1150C858.7,1181.7 841.7,1213.3 820,1240C798.3,1266.7 770,1291.7 740,1310C710,1328.3 676.7,1340.8 640,1350C603.3,1359.2 560,1365.8 520,1365C480,1364.2 438.3,1357.5 400,1345C361.7,1332.5 323.3,1314.2 290,1290C256.7,1265.8 226.7,1235 200,1200C173.3,1165 148.3,1121.7 130,1080C111.7,1038.3 99.2,996.7 90,950C80.8,903.3 75.8,850 75,800C74.2,750 78.3,700 85,650C91.7,600 100.8,546.7 115,500C129.2,453.3 147.5,411.7 170,370C192.5,328.3 220,285 250,250C280,215 315,185 350,160C385,135 421.7,114.7 460,100C498.3,85.3 540,76.2 580,72Z" fill="#dca18f" stroke="#8a5249" stroke-width="4" stroke-linejoin="round"/><path d="M580,72C620,67.8 660,68.7 700,75C740,81.3 786.7,94.2 820,110C853.3,125.8 879.2,145 900,170C920.8,195 935.5,226.7 945,260C954.5,293.3 957,335 957,370C957,405 954,440 945,470C936,500 919.7,528.8 903,550C886.3,571.2 864.2,586.8 845,597C825.8,607.2 805.2,611.8 788,611C770.8,610.2 754.2,603 742,592C729.8,581 720.2,560.3 715,545C709.8,529.7 708,515 711,500C714,485 723.2,466.7 733,455C742.8,443.3 775.5,419.2 770,430C764.5,440.8 715,485 700,520C685,555 681.7,600 680,640C678.3,680 684.2,732 690,760C695.8,788 701.7,798 715,808C728.3,818 750.8,809.7 770,820C789.2,830.3 813.3,848.3 830,870C846.7,891.7 860.3,920 870,950C879.7,980 888,1016.7 888,1050C888,1083.3 881.3,1118.3 870,1150C858.7,1181.7 841.7,1213.3 820,1240C798.3,1266.7 770,1291.7 740,1310C710,1328.3 676.7,1340.8 640,1350C603.3,1359.2 560,1365.8 520,1365C480,1364.2 438.3,1357.5 400,1345C361.7,1332.5 323.3,1314.2 290,1290C256.7,1265.8 226.7,1235 200,1200C173.3,1165 148.3,1121.7 130,1080C111.7,1038.3 99.2,996.7 90,950C80.8,903.3 75.8,850 75,800C74.2,750 78.3,700 85,650C91.7,600 100.8,546.7 115,500C129.2,453.3 147.5,411.7 170,370C192.5,328.3 220,285 250,250C280,215 315,185 350,160C385,135 421.7,114.7 460,100C498.3,85.3 540,76.2 580,72Z" fill="none" stroke="#e9b9a6" stroke-width="5" opacity=".6" transform="translate(290,360) scale(.985) translate(-290,-360)"/></g><g transform="translate(1300,290) scale(0.24944) translate(1085,0) scale(-1,1) rotate(6 520 740)"><path d="M594,124C634,119.8 674,120.7 714,127C754,133.3 800.7,146.2 834,162C867.3,177.8 893.2,197 914,222C934.8,247 949.5,278.7 959,312C968.5,345.3 971,387 971,422C971,457 968,492 959,522C950,552 933.7,580.8 917,602C900.3,623.2 878.2,638.8 859,649C839.8,659.2 819.2,663.8 802,663C784.8,662.2 768.2,655 756,644C743.8,633 734.2,612.3 729,597C723.8,581.7 722,567 725,552C728,537 737.2,518.7 747,507C756.8,495.3 789.5,471.2 784,482C778.5,492.8 729,537 714,572C699,607 695.7,652 694,692C692.3,732 698.2,784 704,812C709.8,840 715.7,850 729,860C742.3,870 764.8,861.7 784,872C803.2,882.3 827.3,900.3 844,922C860.7,943.7 874.3,972 884,1002C893.7,1032 902,1068.7 902,1102C902,1135.3 895.3,1170.3 884,1202C872.7,1233.7 855.7,1265.3 834,1292C812.3,1318.7 784,1343.7 754,1362C724,1380.3 690.7,1392.8 654,1402C617.3,1411.2 574,1417.8 534,1417C494,1416.2 452.3,1409.5 414,1397C375.7,1384.5 337.3,1366.2 304,1342C270.7,1317.8 240.7,1287 214,1252C187.3,1217 162.3,1173.7 144,1132C125.7,1090.3 113.2,1048.7 104,1002C94.8,955.3 89.8,902 89,852C88.2,802 92.3,752 99,702C105.7,652 114.8,598.7 129,552C143.2,505.3 161.5,463.7 184,422C206.5,380.3 234,337 264,302C294,267 329,237 364,212C399,187 435.7,166.7 474,152C512.3,137.3 554,128.2 594,124Z" fill="#8f5b53" stroke="#7a4a43" stroke-width="3"/><path d="M587,98C627,93.8 667,94.7 707,101C747,107.3 793.7,120.2 827,136C860.3,151.8 886.2,171 907,196C927.8,221 942.5,252.7 952,286C961.5,319.3 964,361 964,396C964,431 961,466 952,496C943,526 926.7,554.8 910,576C893.3,597.2 871.2,612.8 852,623C832.8,633.2 812.2,637.8 795,637C777.8,636.2 761.2,629 749,618C736.8,607 727.2,586.3 722,571C716.8,555.7 715,541 718,526C721,511 730.2,492.7 740,481C749.8,469.3 782.5,445.2 777,456C771.5,466.8 722,511 707,546C692,581 688.7,626 687,666C685.3,706 691.2,758 697,786C702.8,814 708.7,824 722,834C735.3,844 757.8,835.7 777,846C796.2,856.3 820.3,874.3 837,896C853.7,917.7 867.3,946 877,976C886.7,1006 895,1042.7 895,1076C895,1109.3 888.3,1144.3 877,1176C865.7,1207.7 848.7,1239.3 827,1266C805.3,1292.7 777,1317.7 747,1336C717,1354.3 683.7,1366.8 647,1376C610.3,1385.2 567,1391.8 527,1391C487,1390.2 445.3,1383.5 407,1371C368.7,1358.5 330.3,1340.2 297,1316C263.7,1291.8 233.7,1261 207,1226C180.3,1191 155.3,1147.7 137,1106C118.7,1064.3 106.2,1022.7 97,976C87.8,929.3 82.8,876 82,826C81.2,776 85.3,726 92,676C98.7,626 107.8,572.7 122,526C136.2,479.3 154.5,437.7 177,396C199.5,354.3 227,311 257,276C287,241 322,211 357,186C392,161 428.7,140.7 467,126C505.3,111.3 547,102.2 587,98Z" fill="#8f5b53"/><path d="M580,72C620,67.8 660,68.7 700,75C740,81.3 786.7,94.2 820,110C853.3,125.8 879.2,145 900,170C920.8,195 935.5,226.7 945,260C954.5,293.3 957,335 957,370C957,405 954,440 945,470C936,500 919.7,528.8 903,550C886.3,571.2 864.2,586.8 845,597C825.8,607.2 805.2,611.8 788,611C770.8,610.2 754.2,603 742,592C729.8,581 720.2,560.3 715,545C709.8,529.7 708,515 711,500C714,485 723.2,466.7 733,455C742.8,443.3 775.5,419.2 770,430C764.5,440.8 715,485 700,520C685,555 681.7,600 680,640C678.3,680 684.2,732 690,760C695.8,788 701.7,798 715,808C728.3,818 750.8,809.7 770,820C789.2,830.3 813.3,848.3 830,870C846.7,891.7 860.3,920 870,950C879.7,980 888,1016.7 888,1050C888,1083.3 881.3,1118.3 870,1150C858.7,1181.7 841.7,1213.3 820,1240C798.3,1266.7 770,1291.7 740,1310C710,1328.3 676.7,1340.8 640,1350C603.3,1359.2 560,1365.8 520,1365C480,1364.2 438.3,1357.5 400,1345C361.7,1332.5 323.3,1314.2 290,1290C256.7,1265.8 226.7,1235 200,1200C173.3,1165 148.3,1121.7 130,1080C111.7,1038.3 99.2,996.7 90,950C80.8,903.3 75.8,850 75,800C74.2,750 78.3,700 85,650C91.7,600 100.8,546.7 115,500C129.2,453.3 147.5,411.7 170,370C192.5,328.3 220,285 250,250C280,215 315,185 350,160C385,135 421.7,114.7 460,100C498.3,85.3 540,76.2 580,72Z" fill="#dca18f" stroke="#8a5249" stroke-width="4" stroke-linejoin="round"/><path d="M580,72C620,67.8 660,68.7 700,75C740,81.3 786.7,94.2 820,110C853.3,125.8 879.2,145 900,170C920.8,195 935.5,226.7 945,260C954.5,293.3 957,335 957,370C957,405 954,440 945,470C936,500 919.7,528.8 903,550C886.3,571.2 864.2,586.8 845,597C825.8,607.2 805.2,611.8 788,611C770.8,610.2 754.2,603 742,592C729.8,581 720.2,560.3 715,545C709.8,529.7 708,515 711,500C714,485 723.2,466.7 733,455C742.8,443.3 775.5,419.2 770,430C764.5,440.8 715,485 700,520C685,555 681.7,600 680,640C678.3,680 684.2,732 690,760C695.8,788 701.7,798 715,808C728.3,818 750.8,809.7 770,820C789.2,830.3 813.3,848.3 830,870C846.7,891.7 860.3,920 870,950C879.7,980 888,1016.7 888,1050C888,1083.3 881.3,1118.3 870,1150C858.7,1181.7 841.7,1213.3 820,1240C798.3,1266.7 770,1291.7 740,1310C710,1328.3 676.7,1340.8 640,1350C603.3,1359.2 560,1365.8 520,1365C480,1364.2 438.3,1357.5 400,1345C361.7,1332.5 323.3,1314.2 290,1290C256.7,1265.8 226.7,1235 200,1200C173.3,1165 148.3,1121.7 130,1080C111.7,1038.3 99.2,996.7 90,950C80.8,903.3 75.8,850 75,800C74.2,750 78.3,700 85,650C91.7,600 100.8,546.7 115,500C129.2,453.3 147.5,411.7 170,370C192.5,328.3 220,285 250,250C280,215 315,185 350,160C385,135 421.7,114.7 460,100C498.3,85.3 540,76.2 580,72Z" fill="none" stroke="#e9b9a6" stroke-width="5" opacity=".6" transform="translate(290,360) scale(.985) translate(-290,-360)"/></g><path d="M934.1,529.7L934.8,531.4L936,533.5L937.4,536L939.1,538.7L940.9,541.5L942.7,544.5L944.7,547.5L946.5,550.5L948.3,553.3L950,556.1L952,558.8L954.2,561.4L956.2,563.8L958.1,566L959.8,568.1L961.2,570.1L962.4,571.9L963.3,573.5L963.8,574.9L964.2,576.2L964.8,577.4L965.4,578.9L966,580.7L966.4,582.7L966.9,585L967.2,587.6L967.5,590.4L967.8,593.5L968.1,596.8L968.5,600.2L968.9,603.5L969.2,606.8L969.5,610.3L969.8,613.9L970,617.6L970.2,621.3L970.3,625.1L970.5,628.9L970.6,632.6L970.7,636.3L970.7,639.9L970.5,643.4L970.4,646.9L970.2,650.4L970,654.1L969.8,657.8L969.6,661.6L969.4,665.6L969.3,669.7L969.2,673.9L969.1,678.2L969.1,682.5L969.1,686.9L969.1,691.4L969.2,695.9L969.2,700.5L969.3,705.2L969.4,709.9L969.5,714.7L969.7,719.4L969.8,724L970,728.5L970.1,732.9L970.2,737.4L970.4,742L970.6,746.9L970.9,752.2L971.3,757.9L971.9,764.1L972.6,771.1L973.6,778.9L974.8,787.4L976.3,796.4L977.9,805.8L979.5,815.5L981.1,825.3L982.6,835L983.8,844.5L984.8,853.6L985.5,862.2L985.8,870.4L985.9,878.6L985.9,886.6L985.6,894.5L985.3,902.3L984.8,910.1L984.2,917.9L983.5,925.7L982.7,933.6L981.8,941.5L980.8,949.4L979.6,957.3L978.3,965.2L976.8,973.2L975.3,981.3L973.7,989.4L972.1,997.5L970.6,1005.7L969.1,1013.9L967.9,1022.2L966.7,1030.4L965.6,1038.8L964.5,1047.2L963.4,1055.7L962.3,1064.2L961.4,1072.6L960.6,1080.8L959.9,1088.9L959.4,1096.7L959.2,1104.1L959.1,1111.2L959.1,1117.9L959.3,1124.3L959.6,1130.6L960.1,1136.7L960.7,1142.6L961.4,1148.6L962.4,1154.5L963.5,1160.5L964.7,1166.7L966.2,1173.1L967.9,1179.6L969.8,1186.1L971.9,1192.7L974.1,1199.2L976.4,1205.6L978.8,1211.8L981.2,1217.8L983.6,1223.5L985.9,1228.9L988.3,1234L990.8,1238.9L993.3,1243.5L995.9,1247.9L998.5,1252.1L1001.2,1256.1L1003.7,1259.9L1006.3,1263.5L1008.8,1267L1011.2,1270.4L1013.8,1273.9L1016.5,1277.3L1019.3,1280.6L1022,1283.7L1024.7,1286.6L1027.2,1289.3L1029.5,1291.7L1031.5,1293.9L1033.2,1295.6L1034.4,1297L1045.6,1287L1044.2,1285.4L1042.4,1283.5L1040.3,1281.4L1038.1,1279L1035.7,1276.4L1033.2,1273.7L1030.6,1270.8L1028.1,1267.8L1025.7,1264.7L1023.4,1261.6L1021.1,1258.3L1018.7,1254.9L1016.3,1251.3L1013.8,1247.7L1011.4,1243.9L1009.1,1240L1006.7,1236L1004.4,1231.7L1002.2,1227.3L1000.1,1222.5L997.9,1217.4L995.7,1211.9L993.5,1206.2L991.4,1200.2L989.3,1194L987.2,1187.8L985.4,1181.5L983.7,1175.3L982.2,1169.2L980.9,1163.3L979.8,1157.5L978.9,1151.9L978.1,1146.3L977.5,1140.8L977,1135.3L976.7,1129.6L976.5,1123.8L976.4,1117.7L976.5,1111.4L976.6,1104.7L977,1097.6L977.5,1090.2L978.2,1082.4L979,1074.4L980,1066.3L981,1058L982.2,1049.6L983.3,1041.2L984.5,1032.9L985.7,1024.8L987,1016.9L988.4,1008.9L989.9,1001L991.5,992.9L993.2,984.8L994.8,976.7L996.4,968.5L997.8,960.3L999.1,952L1000.2,943.7L1001.1,935.5L1002,927.5L1002.7,919.5L1003.4,911.5L1004,903.4L1004.4,895.2L1004.7,887L1004.8,878.6L1004.8,870L1004.5,861.2L1004,852L1003.1,842.3L1002,832.4L1000.7,822.4L999.3,812.4L997.8,802.7L996.5,793.3L995.2,784.4L994.2,776.2L993.4,768.9L992.9,762.3L992.5,756.4L992.2,751L992,746L991.8,741.3L991.8,736.9L991.8,732.6L991.8,728.2L991.7,723.7L991.7,719L991.6,714.2L991.6,709.6L991.6,704.9L991.6,700.4L991.6,695.9L991.7,691.5L991.8,687.2L991.9,682.9L992,678.7L992.2,674.7L992.4,670.8L992.8,667.1L993.1,663.4L993.5,659.7L993.9,656.1L994.3,652.4L994.7,648.7L995.1,645L995.4,641.2L995.7,637.3L996,633.4L996.4,629.5L996.7,625.6L997,621.7L997.2,617.7L997.5,613.8L997.7,609.9L997.8,606L997.9,602.2L997.9,598.6L997.9,595.3L997.9,592.1L997.9,588.8L997.8,585.5L997.7,582L997.4,578.4L997,574.7L996.3,570.9L995.3,566.9L993.8,562.8L991.6,559L989.1,555.6L986.5,552.6L983.8,549.9L981.2,547.5L978.7,545.4L976.3,543.4L974.1,541.6L972,539.8L970,538.1L967.6,536.2L964.8,534L962,531.8L959.2,529.6L956.4,527.4L953.7,525.3L951.1,523.4L948.8,521.8L946.8,520.5L945.1,519.5Z" fill="#c1a25f" stroke="#9a7b3c" stroke-width="2" stroke-linejoin="round"/><path d="M1369.7,459L1367.9,459.8L1365.7,461L1363.1,462.5L1360.2,464.3L1357,466.3L1353.8,468.5L1350.4,470.8L1347.1,473.3L1343.9,475.9L1340.9,478.6L1338.4,481.4L1336.1,484.2L1333.8,487.1L1331.6,490.1L1329.4,493.1L1327.4,496.2L1325.5,499.3L1323.7,502.5L1322,505.7L1320.4,508.9L1319.5,512.3L1318.7,515.5L1318.2,518.7L1317.8,521.8L1317.6,524.8L1317.5,527.7L1317.6,530.5L1317.6,533.2L1317.7,536L1317.8,539.1L1317.9,542.5L1318.1,546.2L1318.4,550L1318.7,553.9L1319,557.9L1319.4,561.9L1319.8,565.9L1320.2,569.8L1320.6,573.7L1321,577.5L1321.4,581.3L1321.9,585L1322.3,588.6L1322.7,592.3L1323.2,595.9L1323.7,599.6L1324.2,603.4L1324.7,607.2L1325.2,611.1L1325.7,615.1L1326.1,619.3L1326.5,623.5L1327,627.7L1327.5,632L1327.9,636.3L1328.4,640.7L1328.9,645.3L1329.4,650L1329.8,654.8L1330.3,659.9L1330.8,665.3L1331.4,670.9L1332,676.6L1332.6,682.5L1333.2,688.4L1333.7,694.3L1334.1,700.2L1334.5,706.2L1334.7,712L1334.7,717.8L1334.6,723.6L1334.3,729.4L1334,735.2L1333.5,741L1333,747L1332.3,753L1331.6,759.3L1330.8,765.8L1330,772.5L1329.1,779.5L1328.2,786.7L1327,794.2L1325.8,802L1324.4,810.1L1323,818.4L1321.6,826.8L1320.3,835.3L1319,843.8L1318,852.4L1317.1,860.7L1316.4,869L1315.8,877.2L1315.3,885.4L1314.9,893.6L1314.6,901.8L1314.4,910L1314.3,918.2L1314.3,926.4L1314.4,934.6L1314.6,942.9L1314.9,951.1L1315.3,959.4L1315.9,967.6L1316.7,975.8L1317.4,983.9L1318.3,992.1L1319.1,1000.2L1320,1008.2L1320.8,1016.3L1321.6,1024.4L1322.5,1032.6L1323.4,1041L1324.5,1049.5L1325.5,1057.9L1326.5,1066.2L1327.5,1074.5L1328.3,1082.5L1329.1,1090.2L1329.6,1097.6L1330,1104.7L1330.1,1111.4L1330.2,1117.7L1330.1,1123.8L1329.9,1129.7L1329.6,1135.3L1329.2,1140.9L1328.7,1146.5L1328.1,1152.2L1327.3,1157.9L1326.5,1163.7L1325.6,1169.8L1324.5,1175.9L1323.3,1182.2L1322,1188.5L1320.6,1194.7L1319.1,1200.9L1317.6,1207L1316.1,1212.8L1314.5,1218.3L1313.1,1223.5L1311.6,1228.2L1310.1,1232.7L1308.6,1237L1307,1241.1L1305.4,1245.1L1303.8,1248.9L1302.3,1252.5L1300.7,1256L1299.1,1259.5L1297.6,1262.8L1296.1,1266L1294.5,1269.1L1292.9,1272.1L1291.3,1275L1289.7,1277.8L1288.2,1280.3L1286.8,1282.7L1285.5,1284.9L1284.4,1286.7L1283.5,1288.3L1296.5,1295.7L1297.3,1294.3L1298.4,1292.5L1299.6,1290.4L1301.1,1288L1302.7,1285.3L1304.4,1282.4L1306.1,1279.3L1307.8,1276L1309.6,1272.6L1311.2,1269.2L1312.8,1265.8L1314.4,1262.3L1316.1,1258.7L1317.8,1254.9L1319.5,1251L1321.2,1246.8L1322.9,1242.4L1324.6,1237.8L1326.3,1233L1327.9,1227.9L1329.5,1222.6L1331.2,1217L1332.9,1211L1334.5,1204.8L1336.1,1198.5L1337.7,1192L1339.2,1185.5L1340.5,1179L1341.8,1172.6L1342.9,1166.3L1343.8,1160.2L1344.6,1154.2L1345.4,1148.4L1346,1142.5L1346.6,1136.6L1347,1130.5L1347.3,1124.3L1347.5,1117.9L1347.5,1111.2L1347.4,1104.1L1347.1,1096.6L1346.6,1088.8L1345.9,1080.8L1345.1,1072.5L1344.1,1064.2L1343.2,1055.8L1342.2,1047.4L1341.2,1039L1340.3,1030.7L1339.6,1022.6L1338.8,1014.5L1338,1006.4L1337.2,998.3L1336.4,990.2L1335.6,982.2L1334.9,974.2L1334.2,966.2L1333.7,958.2L1333.3,950.3L1333,942.3L1332.9,934.4L1332.9,926.4L1332.9,918.4L1333.1,910.4L1333.3,902.5L1333.7,894.5L1334.1,886.5L1334.7,878.5L1335.3,870.6L1336.1,862.7L1337,854.7L1338.2,846.6L1339.6,838.5L1341.1,830.2L1342.7,821.9L1344.3,813.7L1345.9,805.6L1347.3,797.6L1348.7,789.8L1349.9,782.3L1350.9,775.2L1351.8,768.5L1352.7,761.9L1353.5,755.5L1354.3,749.2L1354.9,743L1355.5,736.8L1355.9,730.7L1356.3,724.5L1356.5,718.2L1356.5,711.7L1356.4,705.3L1356.1,698.9L1355.7,692.6L1355.2,686.4L1354.7,680.3L1354.1,674.4L1353.6,668.7L1353.1,663.3L1352.7,658.1L1352.3,653L1352,648L1351.6,643.2L1351.2,638.6L1350.8,634.1L1350.5,629.7L1350.1,625.5L1349.7,621.3L1349.4,617.2L1349.1,613.1L1348.9,609L1348.8,605.1L1348.6,601.3L1348.5,597.6L1348.4,593.9L1348.3,590.3L1348.2,586.7L1348.1,583.2L1348,579.6L1348,575.9L1347.9,572.1L1347.9,568.2L1347.8,564.3L1347.8,560.4L1347.7,556.5L1347.7,552.8L1347.8,549.2L1347.9,545.7L1348,542.6L1348.2,539.5L1348.4,536.6L1348.6,533.9L1348.8,531.5L1349,529.4L1349.3,527.6L1349.5,526L1349.9,524.6L1350.3,523.1L1350.9,521.6L1351.6,519.9L1352,517.8L1352.7,515.5L1353.5,513.1L1354.4,510.5L1355.5,508L1356.7,505.3L1358,502.7L1359.3,500.2L1360.7,497.7L1362.1,495.4L1363.3,493L1364.9,490.3L1366.9,487.5L1369,484.7L1371.2,481.8L1373.4,479L1375.4,476.4L1377.3,474L1378.8,471.8L1379.9,470Z" fill="#c1a25f" stroke="#9a7b3c" stroke-width="2" stroke-linejoin="round"/><path d="M987,585 L987.5,615" stroke="#dcc48d" stroke-width="3" stroke-linecap="round" opacity=".9"/><path d="M983.5,700 L982.5,760" stroke="#dcc48d" stroke-width="3" stroke-linecap="round" opacity=".9"/><path d="M993.5,840 L992,880" stroke="#dcc48d" stroke-width="3" stroke-linecap="round" opacity=".9"/><path d="M974,1060 L969,1100" stroke="#dcc48d" stroke-width="3" stroke-linecap="round" opacity=".9"/><path d="M1326,540 L1325,580" stroke="#dcc48d" stroke-width="3" stroke-linecap="round" opacity=".9"/><path d="M1342,690 L1344,750" stroke="#dcc48d" stroke-width="3" stroke-linecap="round" opacity=".9"/><path d="M1325,840 L1324,880" stroke="#dcc48d" stroke-width="3" stroke-linecap="round" opacity=".9"/><path d="M1334,1060 L1338,1100" stroke="#dcc48d" stroke-width="3" stroke-linecap="round" opacity=".9"/><path d="M1000,1235 L1012,1258" stroke="#dcc48d" stroke-width="3" stroke-linecap="round" opacity=".9"/><path d="M1313,1235 L1303,1258" stroke="#dcc48d" stroke-width="3" stroke-linecap="round" opacity=".9"/><g transform="translate(740,350) scale(0.24944)"><path d="M545,350C550.8,337 579.2,362 595,362C610.8,362 630,340.3 640,350C650,359.7 641.7,411.7 655,420C668.3,428.3 700.5,398 720,400C739.5,402 771.7,418.3 772,432C772.3,445.7 731.3,464 722,482C712.7,500 709.7,518.3 716,540C722.3,561.7 741,587 760,612C779,637 812,665.3 830,690C848,714.7 863.3,738.7 868,760C872.7,781.3 868,806.7 858,818C848,829.3 830.7,831 808,828C785.3,825 744.7,798 722,800C699.3,802 683.7,816.7 672,840C660.3,863.3 659.8,918 652,940C644.2,962 637.8,973.7 625,972C612.2,970.3 592.5,942 575,930C557.5,918 535.5,896.7 520,900C504.5,903.3 492.8,950 482,950C471.2,950 460.7,915 455,900C449.3,885 456.3,874.7 448,860C439.7,845.3 413,827 405,812C397,797 395.5,788.7 400,770C404.5,751.3 426.7,721.7 432,700C437.3,678.3 430.7,658.3 432,640C433.3,621.7 433.3,610 440,590C446.7,570 468.3,538.7 472,520C475.7,501.3 456.5,485 462,478C467.5,471 488.7,484.3 505,478C521.3,471.7 553.3,461.3 560,440C566.7,418.7 539.2,363 545,350Z" fill="#a98b40" stroke="#eadf9a" stroke-width="3.5" stroke-linejoin="round"/><path d="M478,420C483,410 506.3,398.3 520,400C533.7,401.7 551.7,418.3 560,430C568.3,441.7 576.7,461.7 570,470C563.3,478.3 533.3,481.7 520,480C506.7,478.3 497,470 490,460C483,450 473,430 478,420Z" fill="#5c3b34"/><path d="M640,370C647.5,365.8 679,388 690,395C701,402 709.3,404.5 706,412C702.7,419.5 680.2,438.7 670,440C659.8,441.3 650,431.7 645,420C640,408.3 632.5,374.2 640,370Z" fill="#5c3b34"/><path d="M425,575C430.8,565 457.5,540.8 470,545C482.5,549.2 500,588.3 500,600C500,611.7 480.8,614.2 470,615C459.2,615.8 442.5,611.7 435,605C427.5,598.3 419.2,585 425,575Z" fill="#5c3b34"/><path d="M390,690C398.3,678.3 429.2,671.7 440,675C450.8,678.3 458.3,699.2 455,710C451.7,720.8 430.8,734.2 420,740C409.2,745.8 395,753.3 390,745C385,736.7 381.7,701.7 390,690Z" fill="#5c3b34"/><path d="M410,810C415.8,800 453.3,793.3 465,800C476.7,806.7 482.5,832.5 480,850C477.5,867.5 458.3,903.3 450,905C441.7,906.7 436.7,875.8 430,860C423.3,844.2 404.2,820 410,810Z" fill="#5c3b34"/><path d="M520,960C520,947.8 530.8,908.3 540,895C549.2,881.7 565.8,874.2 575,880C584.2,885.8 592.5,914.2 595,930C597.5,945.8 599.2,968.7 590,975C580.8,981.3 551.7,970.5 540,968C528.3,965.5 520,972.2 520,960Z" fill="#5c3b34"/><path d="M690,820C692.5,817 723.3,810.3 735,812C746.7,813.7 762.5,827 760,830C757.5,833 731.7,831.7 720,830C708.3,828.3 687.5,823 690,820Z" fill="#5c3b34"/><path d="M619,499.6 Q618.5,424.6 639.9,343.1 L549.9,344.9 Q574.5,425.4 577,500.4 Z M672.2,512.1 Q706.5,465.2 762.2,426 L688.7,374.2 Q670.5,439.8 637.8,487.9 Z M540.3,530.6 Q509.6,496.4 490.7,442.8 L425.1,504.5 Q477.4,526.6 509.7,559.4 Z M507.9,629.2 Q471.5,623.2 432.2,594.6 L419.9,683.8 Q465.5,666.8 502.1,670.8 Z M478.3,737.6 Q435.2,765.2 375,778 L425.1,852.7 Q459.8,801.8 501.7,772.4 Z M527.3,838.6 Q495,887.1 440.9,928.7 L516.6,977.4 Q532,910.9 562.7,861.4 Z M599,855.9 Q600.5,912.5 580.3,976 L670.2,972 Q644.5,910.5 641,854.1 Z " fill="#a98b40" stroke="#eadf9a" stroke-width="3.5" stroke-linejoin="round"/><path d="M540,490C570,468.3 639.2,458.3 670,470C700.8,481.7 703.3,521.7 725,560C746.7,598.3 782.5,661.7 800,700C817.5,738.3 846.7,775 830,790C813.3,805 731.7,780 700,790C668.3,800 668.3,841.7 640,850C611.7,858.3 558.3,856.7 530,840C501.7,823.3 476.7,790 470,750C463.3,710 478.3,643.3 490,600C501.7,556.7 510,511.7 540,490Z" fill="#a98b40"/><path d="M700,440C713.7,431 758.3,428.3 762,436C765.7,443.7 729.3,468.3 722,486C714.7,503.7 711.3,520.7 718,542C724.7,563.3 743,589 762,614C781,639 814.7,667.7 832,692C849.3,716.3 862,739.7 866,760C870,780.3 863.7,804 856,814C848.3,824 829.3,832.3 820,820C810.7,807.7 813.3,770 800,740C786.7,710 758.3,670 740,640C721.7,610 700,585 690,560C680,535 678.3,510 680,490C681.7,470 686.3,449 700,440Z" fill="#8e7432" opacity=".85"/><ellipse cx="612" cy="572" rx="13" ry="24" fill="#8e7432" opacity=".7" transform="rotate(25 612 572)"/><ellipse cx="595" cy="745" rx="30" ry="13" fill="#8e7432" opacity=".7" transform="rotate(-12 595 745)"/><path d="M465,215C469.7,194.2 495.8,177.5 520,165C544.2,152.5 581.7,142.5 610,140C638.3,137.5 674.5,140 690,150C705.5,160 704.3,177.5 703,200C701.7,222.5 691.7,260.8 682,285C672.3,309.2 659.5,333.2 645,345C630.5,356.8 611.7,356 595,356C578.3,356 562.2,356 545,345C527.8,334 505.3,311.7 492,290C478.7,268.3 460.3,235.8 465,215Z" fill="#b5685f" stroke="#c98577" stroke-width="2"/><path d="M765,210C776.2,194.2 795.8,200 812,205C828.2,210 848,222.5 862,240C876,257.5 888.7,285.8 896,310C903.3,334.2 908.3,368.3 906,385C903.7,401.7 899.7,404.2 882,410C864.3,415.8 824,419 800,420C776,421 752,419.7 738,416C724,412.3 714.8,417.3 716,398C717.2,378.7 736.8,331.3 745,300C753.2,268.7 753.8,225.8 765,210Z" fill="#b5685f" stroke="#c98577" stroke-width="2"/><path d="M240,420C228,396.7 246.7,355.8 258,330C269.3,304.2 289.7,278.3 308,265C326.3,251.7 352.3,248.2 368,250C383.7,251.8 388.3,254.3 402,276C415.7,297.7 438.3,350.7 450,380C461.7,409.3 470,434 472,452C474,470 469,480.8 462,488C455,495.2 452,498 430,495C408,492 361.7,482.5 330,470C298.3,457.5 252,443.3 240,420Z" fill="#b5685f" stroke="#c98577" stroke-width="2"/><path d="M160,700C135.5,683.3 150,630 153,600C156,570 167.5,535.8 178,520C188.5,504.2 192.3,501.7 216,505C239.7,508.3 285.3,522.8 320,540C354.7,557.2 404.7,591.3 424,608C443.3,624.7 436.7,629.7 436,640C435.3,650.3 442.7,660 420,670C397.3,680 343.3,695 300,700C256.7,705 184.5,716.7 160,700Z" fill="#b5685f" stroke="#c98577" stroke-width="2"/><path d="M150,790C170,766.7 238.7,760.3 280,760C321.3,759.7 376,779.3 398,788C420,796.7 410.3,803 412,812C413.7,821 418.3,819 408,842C397.7,865 373.7,917.7 350,950C326.3,982.3 284.3,1021 266,1036C247.7,1051 251.3,1047.7 240,1040C228.7,1032.3 211.3,1013.3 198,990C184.7,966.7 168,933.3 160,900C152,866.7 130,813.3 150,790Z" fill="#b5685f" stroke="#c98577" stroke-width="2"/><path d="M305,1110C310,1085 356.2,1056.7 380,1030C403.8,1003.3 431,965 448,950C465,935 471.3,938.3 482,940C492.7,941.7 504.7,936.7 512,960C519.3,983.3 524.3,1040 526,1080C527.7,1120 528,1174.2 522,1200C516,1225.8 507,1230 490,1235C473,1240 443.3,1239.2 420,1230C396.7,1220.8 369.2,1200 350,1180C330.8,1160 300,1135 305,1110Z" fill="#b5685f" stroke="#c98577" stroke-width="2"/><path d="M590,1200C584,1174.7 582.7,1116.3 584,1080C585.3,1043.7 591.7,1001.2 598,982C604.3,962.8 613,968 622,965C631,962 635.3,959.8 652,964C668.7,968.2 698.7,977.3 722,990C745.3,1002.7 778.7,1028 792,1040C805.3,1052 805.7,1047 802,1062C798.3,1077 787,1107 770,1130C753,1153 725,1183 700,1200C675,1217 638.3,1232 620,1232C601.7,1232 596,1225.3 590,1200Z" fill="#b5685f" stroke="#c98577" stroke-width="2"/><path d="M576.6,320.2 l-60.9,-98.7 M580,318.4 l-49.7,-104.8 M583.6,316.9 l-37.9,-109.7 M587.3,315.9 l-25.7,-113.2 M591.1,315.2 l-13.1,-115.3 M594.9,315 l-0.3,-116 M598.7,315.2 l12.4,-115.4 M602.5,315.8 l25,-113.3 M606.2,316.9 l37.3,-109.9 M609.8,318.3 l49.1,-105.1 M613.2,320.1 l60.4,-99.1 M733.1,371.8 l43,-128.3 M736.7,373.2 l56.8,-122.8 M740.1,375 l70,-115.9 M743.3,377.2 l82.3,-107.5 M746.2,379.7 l93.6,-97.8 M748.8,382.5 l103.7,-86.9 M751.1,385.6 l112.6,-75 M753.1,388.9 l120.2,-62.2 M754.7,392.4 l126.3,-48.6 M755.8,396.1 l130.9,-34.5 M756.6,399.9 l133.9,-19.9 M428.2,468.8 l-145.6,-39.4 M429.4,465.2 l-140.4,-55.2 M431,461.7 l-133.5,-70.3 M433,458.4 l-124.9,-84.5 M435.3,455.3 l-114.9,-97.7 M438,452.5 l-103.5,-109.7 M440.9,450.1 l-90.8,-120.4 M444.1,447.9 l-77.1,-129.7 M447.5,446.1 l-62.4,-137.3 M451.1,444.7 l-46.9,-143.3 M454.8,443.7 l-30.9,-147.6 M399,651.6 l-158,55.4 M397.9,647.9 l-163.2,37.7 M397.2,644.1 l-166.3,19.6 M397,640.2 l-167.5,1.2 M397.2,636.4 l-166.6,-17.2 M397.8,632.6 l-163.7,-35.4 M398.8,628.9 l-158.8,-53.1 M400.2,625.3 l-152,-70.3 M402,621.9 l-143.4,-86.5 M404.2,618.7 l-133,-101.7 M406.7,615.8 l-121,-115.7 M390.2,843.7 l-69.1,148.7 M386.9,841.9 l-85,140.2 M383.7,839.8 l-99.9,130 M380.8,837.2 l-113.6,118.3 M378.1,834.4 l-125.8,105.1 M375.8,831.3 l-136.6,90.6 M373.9,828 l-145.7,75.1 M372.3,824.5 l-153.1,58.6 M371.1,820.9 l-158.6,41.5 M370.4,817.1 l-162.2,23.8 M370,813.2 l-163.8,5.8 M491.9,981.6 l48.5,163.8 M488.2,982.4 l30.2,168.2 M484.4,982.9 l11.6,170.5 M480.5,983 l-7.2,170.7 M476.7,982.6 l-25.9,168.9 M472.9,981.8 l-44.3,165 M469.3,980.6 l-62.1,159.2 M465.8,979 l-79.2,151.4 M462.5,977 l-95.4,141.8 M459.4,974.7 l-110.3,130.4 M456.6,972.1 l-124,117.5 M654.4,986.9 l116.8,75.2 M652.2,990.1 l107.9,87.5 M649.6,992.9 l97.6,98.8 M646.7,995.5 l86.2,109 M643.6,997.7 l73.7,117.8 M640.2,999.5 l60.3,125.1 M636.6,1001 l46.2,131 M633,1002.1 l31.6,135.3 M629.2,1002.8 l16.5,137.9 M625.3,1003 l1.3,138.9 M621.5,1002.8 l-14,138.2 " stroke="#cf8f80" stroke-width="1.8" opacity=".55" fill="none"/><circle cx="700" cy="138" r="8" fill="#8c1f2d"/><circle cx="790" cy="175" r="8" fill="#8c1f2d"/><circle cx="352" cy="233" r="8" fill="#8c1f2d"/><circle cx="428" cy="230" r="8" fill="#8c1f2d"/><circle cx="215" cy="433" r="8" fill="#8c1f2d"/><circle cx="188" cy="507" r="8" fill="#8c1f2d"/><circle cx="148" cy="742" r="8" fill="#8c1f2d"/><circle cx="145" cy="903" r="8" fill="#8c1f2d"/><circle cx="278" cy="1077" r="8" fill="#8c1f2d"/><circle cx="310" cy="1173" r="8" fill="#8c1f2d"/><circle cx="490" cy="1247" r="8" fill="#8c1f2d"/><circle cx="622" cy="1247" r="8" fill="#8c1f2d"/><circle cx="812" cy="1045" r="8" fill="#8c1f2d"/><ellipse cx="716" cy="160" rx="8" ry="3.5" fill="#3a3f9e" transform="rotate(-30 716 160)"/><ellipse cx="818" cy="190" rx="8" ry="3.5" fill="#3a3f9e" transform="rotate(70 818 190)"/><ellipse cx="380" cy="238" rx="8" ry="3.5" fill="#3a3f9e" transform="rotate(70 380 238)"/><ellipse cx="452" cy="192" rx="8" ry="3.5" fill="#3a3f9e" transform="rotate(-30 452 192)"/><ellipse cx="228" cy="405" rx="8" ry="3.5" fill="#3a3f9e" transform="rotate(20 228 405)"/><ellipse cx="210" cy="498" rx="8" ry="3.5" fill="#3a3f9e" transform="rotate(70 210 498)"/><ellipse cx="153" cy="768" rx="8" ry="3.5" fill="#3a3f9e" transform="rotate(40 153 768)"/><ellipse cx="142" cy="870" rx="8" ry="3.5" fill="#3a3f9e" transform="rotate(70 142 870)"/><ellipse cx="255" cy="1068" rx="8" ry="3.5" fill="#3a3f9e" transform="rotate(-50 255 1068)"/><ellipse cx="292" cy="1150" rx="8" ry="3.5" fill="#3a3f9e" transform="rotate(70 292 1150)"/><ellipse cx="515" cy="1234" rx="8" ry="3.5" fill="#3a3f9e" transform="rotate(-50 515 1234)"/><ellipse cx="580" cy="1225" rx="8" ry="3.5" fill="#3a3f9e" transform="rotate(40 580 1225)"/><ellipse cx="815" cy="1075" rx="8" ry="3.5" fill="#3a3f9e" transform="rotate(20 815 1075)"/><ellipse cx="903" cy="380" rx="8" ry="3.5" fill="#3a3f9e" transform="rotate(70 903 380)"/></g><g transform="translate(1300,290) scale(0.24944) translate(1085,0) scale(-1,1) rotate(6 520 740)"><path d="M545,350C550.8,337 579.2,362 595,362C610.8,362 630,340.3 640,350C650,359.7 641.7,411.7 655,420C668.3,428.3 700.5,398 720,400C739.5,402 771.7,418.3 772,432C772.3,445.7 731.3,464 722,482C712.7,500 709.7,518.3 716,540C722.3,561.7 741,587 760,612C779,637 812,665.3 830,690C848,714.7 863.3,738.7 868,760C872.7,781.3 868,806.7 858,818C848,829.3 830.7,831 808,828C785.3,825 744.7,798 722,800C699.3,802 683.7,816.7 672,840C660.3,863.3 659.8,918 652,940C644.2,962 637.8,973.7 625,972C612.2,970.3 592.5,942 575,930C557.5,918 535.5,896.7 520,900C504.5,903.3 492.8,950 482,950C471.2,950 460.7,915 455,900C449.3,885 456.3,874.7 448,860C439.7,845.3 413,827 405,812C397,797 395.5,788.7 400,770C404.5,751.3 426.7,721.7 432,700C437.3,678.3 430.7,658.3 432,640C433.3,621.7 433.3,610 440,590C446.7,570 468.3,538.7 472,520C475.7,501.3 456.5,485 462,478C467.5,471 488.7,484.3 505,478C521.3,471.7 553.3,461.3 560,440C566.7,418.7 539.2,363 545,350Z" fill="#a98b40" stroke="#eadf9a" stroke-width="3.5" stroke-linejoin="round"/><path d="M478,420C483,410 506.3,398.3 520,400C533.7,401.7 551.7,418.3 560,430C568.3,441.7 576.7,461.7 570,470C563.3,478.3 533.3,481.7 520,480C506.7,478.3 497,470 490,460C483,450 473,430 478,420Z" fill="#5c3b34"/><path d="M640,370C647.5,365.8 679,388 690,395C701,402 709.3,404.5 706,412C702.7,419.5 680.2,438.7 670,440C659.8,441.3 650,431.7 645,420C640,408.3 632.5,374.2 640,370Z" fill="#5c3b34"/><path d="M425,575C430.8,565 457.5,540.8 470,545C482.5,549.2 500,588.3 500,600C500,611.7 480.8,614.2 470,615C459.2,615.8 442.5,611.7 435,605C427.5,598.3 419.2,585 425,575Z" fill="#5c3b34"/><path d="M390,690C398.3,678.3 429.2,671.7 440,675C450.8,678.3 458.3,699.2 455,710C451.7,720.8 430.8,734.2 420,740C409.2,745.8 395,753.3 390,745C385,736.7 381.7,701.7 390,690Z" fill="#5c3b34"/><path d="M410,810C415.8,800 453.3,793.3 465,800C476.7,806.7 482.5,832.5 480,850C477.5,867.5 458.3,903.3 450,905C441.7,906.7 436.7,875.8 430,860C423.3,844.2 404.2,820 410,810Z" fill="#5c3b34"/><path d="M520,960C520,947.8 530.8,908.3 540,895C549.2,881.7 565.8,874.2 575,880C584.2,885.8 592.5,914.2 595,930C597.5,945.8 599.2,968.7 590,975C580.8,981.3 551.7,970.5 540,968C528.3,965.5 520,972.2 520,960Z" fill="#5c3b34"/><path d="M690,820C692.5,817 723.3,810.3 735,812C746.7,813.7 762.5,827 760,830C757.5,833 731.7,831.7 720,830C708.3,828.3 687.5,823 690,820Z" fill="#5c3b34"/><path d="M619,499.6 Q618.5,424.6 639.9,343.1 L549.9,344.9 Q574.5,425.4 577,500.4 Z M672.2,512.1 Q706.5,465.2 762.2,426 L688.7,374.2 Q670.5,439.8 637.8,487.9 Z M540.3,530.6 Q509.6,496.4 490.7,442.8 L425.1,504.5 Q477.4,526.6 509.7,559.4 Z M507.9,629.2 Q471.5,623.2 432.2,594.6 L419.9,683.8 Q465.5,666.8 502.1,670.8 Z M478.3,737.6 Q435.2,765.2 375,778 L425.1,852.7 Q459.8,801.8 501.7,772.4 Z M527.3,838.6 Q495,887.1 440.9,928.7 L516.6,977.4 Q532,910.9 562.7,861.4 Z M599,855.9 Q600.5,912.5 580.3,976 L670.2,972 Q644.5,910.5 641,854.1 Z " fill="#a98b40" stroke="#eadf9a" stroke-width="3.5" stroke-linejoin="round"/><path d="M540,490C570,468.3 639.2,458.3 670,470C700.8,481.7 703.3,521.7 725,560C746.7,598.3 782.5,661.7 800,700C817.5,738.3 846.7,775 830,790C813.3,805 731.7,780 700,790C668.3,800 668.3,841.7 640,850C611.7,858.3 558.3,856.7 530,840C501.7,823.3 476.7,790 470,750C463.3,710 478.3,643.3 490,600C501.7,556.7 510,511.7 540,490Z" fill="#a98b40"/><path d="M700,440C713.7,431 758.3,428.3 762,436C765.7,443.7 729.3,468.3 722,486C714.7,503.7 711.3,520.7 718,542C724.7,563.3 743,589 762,614C781,639 814.7,667.7 832,692C849.3,716.3 862,739.7 866,760C870,780.3 863.7,804 856,814C848.3,824 829.3,832.3 820,820C810.7,807.7 813.3,770 800,740C786.7,710 758.3,670 740,640C721.7,610 700,585 690,560C680,535 678.3,510 680,490C681.7,470 686.3,449 700,440Z" fill="#8e7432" opacity=".85"/><ellipse cx="612" cy="572" rx="13" ry="24" fill="#8e7432" opacity=".7" transform="rotate(25 612 572)"/><ellipse cx="595" cy="745" rx="30" ry="13" fill="#8e7432" opacity=".7" transform="rotate(-12 595 745)"/><path d="M465,215C469.7,194.2 495.8,177.5 520,165C544.2,152.5 581.7,142.5 610,140C638.3,137.5 674.5,140 690,150C705.5,160 704.3,177.5 703,200C701.7,222.5 691.7,260.8 682,285C672.3,309.2 659.5,333.2 645,345C630.5,356.8 611.7,356 595,356C578.3,356 562.2,356 545,345C527.8,334 505.3,311.7 492,290C478.7,268.3 460.3,235.8 465,215Z" fill="#b5685f" stroke="#c98577" stroke-width="2"/><path d="M765,210C776.2,194.2 795.8,200 812,205C828.2,210 848,222.5 862,240C876,257.5 888.7,285.8 896,310C903.3,334.2 908.3,368.3 906,385C903.7,401.7 899.7,404.2 882,410C864.3,415.8 824,419 800,420C776,421 752,419.7 738,416C724,412.3 714.8,417.3 716,398C717.2,378.7 736.8,331.3 745,300C753.2,268.7 753.8,225.8 765,210Z" fill="#b5685f" stroke="#c98577" stroke-width="2"/><path d="M240,420C228,396.7 246.7,355.8 258,330C269.3,304.2 289.7,278.3 308,265C326.3,251.7 352.3,248.2 368,250C383.7,251.8 388.3,254.3 402,276C415.7,297.7 438.3,350.7 450,380C461.7,409.3 470,434 472,452C474,470 469,480.8 462,488C455,495.2 452,498 430,495C408,492 361.7,482.5 330,470C298.3,457.5 252,443.3 240,420Z" fill="#b5685f" stroke="#c98577" stroke-width="2"/><path d="M160,700C135.5,683.3 150,630 153,600C156,570 167.5,535.8 178,520C188.5,504.2 192.3,501.7 216,505C239.7,508.3 285.3,522.8 320,540C354.7,557.2 404.7,591.3 424,608C443.3,624.7 436.7,629.7 436,640C435.3,650.3 442.7,660 420,670C397.3,680 343.3,695 300,700C256.7,705 184.5,716.7 160,700Z" fill="#b5685f" stroke="#c98577" stroke-width="2"/><path d="M150,790C170,766.7 238.7,760.3 280,760C321.3,759.7 376,779.3 398,788C420,796.7 410.3,803 412,812C413.7,821 418.3,819 408,842C397.7,865 373.7,917.7 350,950C326.3,982.3 284.3,1021 266,1036C247.7,1051 251.3,1047.7 240,1040C228.7,1032.3 211.3,1013.3 198,990C184.7,966.7 168,933.3 160,900C152,866.7 130,813.3 150,790Z" fill="#b5685f" stroke="#c98577" stroke-width="2"/><path d="M305,1110C310,1085 356.2,1056.7 380,1030C403.8,1003.3 431,965 448,950C465,935 471.3,938.3 482,940C492.7,941.7 504.7,936.7 512,960C519.3,983.3 524.3,1040 526,1080C527.7,1120 528,1174.2 522,1200C516,1225.8 507,1230 490,1235C473,1240 443.3,1239.2 420,1230C396.7,1220.8 369.2,1200 350,1180C330.8,1160 300,1135 305,1110Z" fill="#b5685f" stroke="#c98577" stroke-width="2"/><path d="M590,1200C584,1174.7 582.7,1116.3 584,1080C585.3,1043.7 591.7,1001.2 598,982C604.3,962.8 613,968 622,965C631,962 635.3,959.8 652,964C668.7,968.2 698.7,977.3 722,990C745.3,1002.7 778.7,1028 792,1040C805.3,1052 805.7,1047 802,1062C798.3,1077 787,1107 770,1130C753,1153 725,1183 700,1200C675,1217 638.3,1232 620,1232C601.7,1232 596,1225.3 590,1200Z" fill="#b5685f" stroke="#c98577" stroke-width="2"/><path d="M576.6,320.2 l-60.9,-98.7 M580,318.4 l-49.7,-104.8 M583.6,316.9 l-37.9,-109.7 M587.3,315.9 l-25.7,-113.2 M591.1,315.2 l-13.1,-115.3 M594.9,315 l-0.3,-116 M598.7,315.2 l12.4,-115.4 M602.5,315.8 l25,-113.3 M606.2,316.9 l37.3,-109.9 M609.8,318.3 l49.1,-105.1 M613.2,320.1 l60.4,-99.1 M733.1,371.8 l43,-128.3 M736.7,373.2 l56.8,-122.8 M740.1,375 l70,-115.9 M743.3,377.2 l82.3,-107.5 M746.2,379.7 l93.6,-97.8 M748.8,382.5 l103.7,-86.9 M751.1,385.6 l112.6,-75 M753.1,388.9 l120.2,-62.2 M754.7,392.4 l126.3,-48.6 M755.8,396.1 l130.9,-34.5 M756.6,399.9 l133.9,-19.9 M428.2,468.8 l-145.6,-39.4 M429.4,465.2 l-140.4,-55.2 M431,461.7 l-133.5,-70.3 M433,458.4 l-124.9,-84.5 M435.3,455.3 l-114.9,-97.7 M438,452.5 l-103.5,-109.7 M440.9,450.1 l-90.8,-120.4 M444.1,447.9 l-77.1,-129.7 M447.5,446.1 l-62.4,-137.3 M451.1,444.7 l-46.9,-143.3 M454.8,443.7 l-30.9,-147.6 M399,651.6 l-158,55.4 M397.9,647.9 l-163.2,37.7 M397.2,644.1 l-166.3,19.6 M397,640.2 l-167.5,1.2 M397.2,636.4 l-166.6,-17.2 M397.8,632.6 l-163.7,-35.4 M398.8,628.9 l-158.8,-53.1 M400.2,625.3 l-152,-70.3 M402,621.9 l-143.4,-86.5 M404.2,618.7 l-133,-101.7 M406.7,615.8 l-121,-115.7 M390.2,843.7 l-69.1,148.7 M386.9,841.9 l-85,140.2 M383.7,839.8 l-99.9,130 M380.8,837.2 l-113.6,118.3 M378.1,834.4 l-125.8,105.1 M375.8,831.3 l-136.6,90.6 M373.9,828 l-145.7,75.1 M372.3,824.5 l-153.1,58.6 M371.1,820.9 l-158.6,41.5 M370.4,817.1 l-162.2,23.8 M370,813.2 l-163.8,5.8 M491.9,981.6 l48.5,163.8 M488.2,982.4 l30.2,168.2 M484.4,982.9 l11.6,170.5 M480.5,983 l-7.2,170.7 M476.7,982.6 l-25.9,168.9 M472.9,981.8 l-44.3,165 M469.3,980.6 l-62.1,159.2 M465.8,979 l-79.2,151.4 M462.5,977 l-95.4,141.8 M459.4,974.7 l-110.3,130.4 M456.6,972.1 l-124,117.5 M654.4,986.9 l116.8,75.2 M652.2,990.1 l107.9,87.5 M649.6,992.9 l97.6,98.8 M646.7,995.5 l86.2,109 M643.6,997.7 l73.7,117.8 M640.2,999.5 l60.3,125.1 M636.6,1001 l46.2,131 M633,1002.1 l31.6,135.3 M629.2,1002.8 l16.5,137.9 M625.3,1003 l1.3,138.9 M621.5,1002.8 l-14,138.2 " stroke="#cf8f80" stroke-width="1.8" opacity=".55" fill="none"/><circle cx="700" cy="138" r="8" fill="#8c1f2d"/><circle cx="790" cy="175" r="8" fill="#8c1f2d"/><circle cx="352" cy="233" r="8" fill="#8c1f2d"/><circle cx="428" cy="230" r="8" fill="#8c1f2d"/><circle cx="215" cy="433" r="8" fill="#8c1f2d"/><circle cx="188" cy="507" r="8" fill="#8c1f2d"/><circle cx="148" cy="742" r="8" fill="#8c1f2d"/><circle cx="145" cy="903" r="8" fill="#8c1f2d"/><circle cx="278" cy="1077" r="8" fill="#8c1f2d"/><circle cx="310" cy="1173" r="8" fill="#8c1f2d"/><circle cx="490" cy="1247" r="8" fill="#8c1f2d"/><circle cx="622" cy="1247" r="8" fill="#8c1f2d"/><circle cx="812" cy="1045" r="8" fill="#8c1f2d"/><ellipse cx="716" cy="160" rx="8" ry="3.5" fill="#3a3f9e" transform="rotate(-30 716 160)"/><ellipse cx="818" cy="190" rx="8" ry="3.5" fill="#3a3f9e" transform="rotate(70 818 190)"/><ellipse cx="380" cy="238" rx="8" ry="3.5" fill="#3a3f9e" transform="rotate(70 380 238)"/><ellipse cx="452" cy="192" rx="8" ry="3.5" fill="#3a3f9e" transform="rotate(-30 452 192)"/><ellipse cx="228" cy="405" rx="8" ry="3.5" fill="#3a3f9e" transform="rotate(20 228 405)"/><ellipse cx="210" cy="498" rx="8" ry="3.5" fill="#3a3f9e" transform="rotate(70 210 498)"/><ellipse cx="153" cy="768" rx="8" ry="3.5" fill="#3a3f9e" transform="rotate(40 153 768)"/><ellipse cx="142" cy="870" rx="8" ry="3.5" fill="#3a3f9e" transform="rotate(70 142 870)"/><ellipse cx="255" cy="1068" rx="8" ry="3.5" fill="#3a3f9e" transform="rotate(-50 255 1068)"/><ellipse cx="292" cy="1150" rx="8" ry="3.5" fill="#3a3f9e" transform="rotate(70 292 1150)"/><ellipse cx="515" cy="1234" rx="8" ry="3.5" fill="#3a3f9e" transform="rotate(-50 515 1234)"/><ellipse cx="580" cy="1225" rx="8" ry="3.5" fill="#3a3f9e" transform="rotate(40 580 1225)"/><ellipse cx="815" cy="1075" rx="8" ry="3.5" fill="#3a3f9e" transform="rotate(20 815 1075)"/><ellipse cx="903" cy="380" rx="8" ry="3.5" fill="#3a3f9e" transform="rotate(70 903 380)"/></g>
<defs><pattern id="pw" width="9" height="7.4" patternUnits="userSpaceOnUse" patternTransform="rotate(12)"><ellipse cx="2.4" cy="1.9" rx="2.3" ry="1.5" fill="#f1bebe"/><ellipse cx="6.9" cy="5.5" rx="2.4" ry="1.5" fill="#f1bebe"/></pattern><linearGradient id="gfade" x1="0" x2="0" y1="0" y2="1"><stop offset="0" stop-color="#fff" stop-opacity="0"/><stop offset="1" stop-color="#fff" stop-opacity="1"/></linearGradient></defs><path d="M1019.9,1309.7 1021.4,1304.4 1023.4,1298.7 1026.1,1292.7 1029.3,1286.6 1033.1,1280.6 1037.4,1274.8 1042.3,1269.1 1047.9,1263.3 1054.1,1257.6 1060.7,1252.1 1067.6,1247 1074.8,1242.4 1082.4,1238.3 1090.7,1234.6 1099.2,1231.4 1107.9,1228.4 1116.5,1225.9 1124.6,1223.7 1132.4,1221.8 1140,1220.4 1147.4,1219.3 1154.7,1218.5 1162.1,1218.1 1169.5,1217.9 1176.9,1218.1 1184.4,1218.5 1191.8,1219.3 1199.2,1220.4 1206.7,1221.8 1214.4,1223.7 1222.2,1225.9 1230.4,1228.5 1238.7,1231.5 1246.8,1234.8 1254.5,1238.5 1261.7,1242.4 1268.5,1246.7 1275,1251.3 1281.2,1256.3 1286.9,1261.5 1292.1,1266.9 1296.6,1272.3 1300.5,1277.9 1303.9,1283.8 1306.8,1289.9 1309.1,1295.9 1310.8,1301.7 1312.1,1307.2 1312.7,1312.2 1312.6,1316.8 1312,1321.2 1311.1,1325.5 1309.8,1330 1308.3,1334.6 1306.7,1339.5 1304.8,1344.5 1302.5,1349.6 1300,1354.6 1297.2,1359.6 1294.1,1364.5 1290.7,1369.3 1286.9,1374.2 1282.8,1379 1278.5,1383.6 1273.9,1388 1269.2,1391.9 1264.2,1395.5 1258.9,1398.7 1253.5,1401.7 1247.9,1404.4 1242.3,1407 1236.8,1409.4 1231.2,1411.5 1225.3,1413.4 1219.4,1415.1 1213.8,1416.7 1208.7,1418.3 1204.4,1419.8 1200.9,1421.4 1198.1,1422.9 1195.8,1424.3 1193.9,1425.8 1192.2,1427.2 1190.7,1428.8 1189.3,1430.4 1188.3,1432.1 1187.6,1433.8 1187,1435.6 1186.6,1437.4 1186.2,1439.3 1185.9,1441.1 1185.9,1442.9 1185.9,1444.8 1186,1446.8 1186.1,1449.1 1186.2,1451.7 1186.2,1454.7 1186.2,1457.9 1186.2,1461.4 1186.2,1465.2 1186.2,1469.5 1186.2,1474.2 1186.2,1479.5 1186.2,1485.5 1186.2,1491.9 1186.2,1498.5 1186.2,1505.2 1186.2,1511.6 1186.2,1518 1186.2,1524.8 1186.2,1531.5 1186.2,1538 1186.2,1543.9 1186.2,1549 1186.2,1553.1 1186.2,1556.6 1186.2,1559.5 1186.2,1562.1 1186.2,1564.3 1186.2,1566.4 1186.6,1568.3 1187.6,1569.9 1188.5,1571.2 1189,1572.3 1188.4,1573.2 1186.2,1573.9 1181.7,1574.4 1175.1,1574.7 1167.5,1574.8 1159.9,1574.7 1153.3,1574.4 1148.8,1573.9 1146.6,1573.2 1146,1572.3 1146.5,1571.2 1147.4,1569.9 1148.4,1568.3 1148.8,1566.4 1148.8,1564.3 1148.8,1562.1 1148.8,1559.5 1148.8,1556.6 1148.8,1553.1 1148.8,1549 1148.8,1543.9 1148.8,1538 1148.8,1531.5 1148.8,1524.8 1148.8,1518 1148.8,1511.6 1148.8,1505.2 1148.8,1498.5 1148.8,1491.9 1148.8,1485.5 1148.8,1479.5 1148.8,1474.2 1148.8,1469.5 1148.8,1465.2 1148.8,1461.4 1148.8,1457.9 1148.8,1454.7 1148.8,1451.7 1148.8,1449.1 1148.9,1446.8 1149,1444.7 1149.1,1442.9 1149,1441.1 1148.8,1439.3 1148.5,1437.5 1148.3,1435.7 1147.9,1434.1 1147.3,1432.5 1146.4,1430.9 1145.1,1429.3 1143.4,1427.8 1141.5,1426.4 1139.3,1425 1136.6,1423.6 1133.4,1422.2 1129.6,1420.6 1124.9,1418.9 1119.3,1417.3 1113.2,1415.5 1106.9,1413.7 1100.6,1411.6 1094.7,1409.4 1089.1,1406.9 1083.5,1404.4 1077.9,1401.7 1072.5,1398.7 1067.3,1395.5 1062.3,1391.9 1057.6,1388 1053,1383.6 1048.7,1379 1044.6,1374.2 1040.8,1369.3 1037.4,1364.5 1034.3,1359.6 1031.6,1354.5 1029.2,1349.4 1027.1,1344.3 1025.3,1339.3 1023.7,1334.6 1022.2,1330.3 1020.9,1326.3 1019.9,1322.4 1019.2,1318.5 1019.2,1314.3Z" fill="#d98f8e" stroke="#c47776" stroke-width="1.2"/><path d="M1021.2,1309.7 1023.1,1304.5 1025.7,1298.8 1029.1,1292.8 1033,1286.9 1037.5,1281.2 1042.4,1276 1047.9,1271.2 1054.2,1266.6 1061,1262.3 1068.1,1258.2 1075.2,1254.5 1082.3,1251.1 1089.1,1248.1 1096.1,1245.5 1103.1,1243.2 1110.2,1241.2 1117.4,1239.4 1124.6,1237.9 1132,1236.6 1139.4,1235.7 1146.9,1235 1154.4,1234.5 1162,1234.2 1169.5,1234.1 1177,1234.2 1184.4,1234.5 1191.9,1235 1199.4,1235.7 1206.9,1236.6 1214.4,1237.9 1221.9,1239.4 1229.7,1241.2 1237.4,1243.3 1245,1245.7 1252.3,1248.3 1259.2,1251.1 1265.8,1254.2 1272.3,1257.5 1278.4,1261.1 1284.2,1265 1289.5,1269.1 1294.1,1273.5 1298.2,1278.4 1301.7,1283.7 1304.7,1289.3 1307.2,1295 1309.2,1300.6 1310.6,1305.9 1311.3,1310.9 1311.3,1315.7 1310.7,1320.5 1309.8,1325.1 1308.5,1329.8 1307.1,1334.6 1305.5,1339.5 1303.6,1344.4 1301.4,1349.4 1299,1354.3 1296.2,1359.2 1293.1,1364 1289.7,1368.8 1286,1373.6 1281.9,1378.4 1277.6,1382.9 1273.1,1387.3 1268.4,1391.2 1263.5,1394.7 1258.3,1397.9 1252.9,1400.8 1247.3,1403.5 1241.8,1406 1236.3,1408.4 1230.7,1410.5 1224.8,1412.4 1219,1414.1 1213.3,1415.7 1208.2,1417.2 1203.9,1418.8 1200.4,1420.4 1197.5,1421.9 1195.2,1423.4 1193.2,1424.9 1191.5,1426.4 1189.9,1428.1 1188.6,1429.8 1187.6,1431.6 1186.8,1433.5 1186.3,1435.4 1185.8,1437.3 1185.4,1439.3 1185.2,1441.2 1185.1,1443 1185.2,1444.8 1185.3,1446.8 1185.4,1449.1 1185.4,1451.7 1185.4,1454.7 1185.4,1457.9 1185.4,1461.4 1185.4,1465.2 1185.4,1469.5 1185.4,1474.2 1185.4,1479.5 1185.4,1485.5 1185.4,1491.9 1185.4,1498.5 1185.4,1505.2 1185.4,1511.6 1185.4,1518 1185.4,1524.8 1185.4,1531.5 1185.4,1538 1185.4,1543.9 1185.4,1549 1185.4,1553.1 1185.4,1556.6 1185.4,1559.5 1185.4,1562.1 1185.4,1564.3 1185.4,1566.4 1185.9,1568.3 1186.8,1569.9 1187.7,1571.2 1188.1,1572.3 1187.5,1573.2 1185.4,1573.9 1181.1,1574.4 1174.8,1574.7 1167.5,1574.8 1160.2,1574.7 1153.9,1574.4 1149.6,1573.9 1147.5,1573.2 1146.9,1572.3 1147.3,1571.2 1148.2,1569.9 1149.1,1568.3 1149.6,1566.4 1149.6,1564.3 1149.6,1562.1 1149.6,1559.5 1149.6,1556.6 1149.6,1553.1 1149.6,1549 1149.6,1543.9 1149.6,1538 1149.6,1531.5 1149.6,1524.8 1149.6,1518 1149.6,1511.6 1149.6,1505.2 1149.6,1498.5 1149.6,1491.9 1149.6,1485.5 1149.6,1479.5 1149.6,1474.2 1149.6,1469.5 1149.6,1465.2 1149.6,1461.4 1149.6,1457.9 1149.6,1454.7 1149.6,1451.7 1149.6,1449.1 1149.7,1446.7 1149.8,1444.7 1149.8,1442.8 1149.8,1441.1 1149.6,1439.3 1149.3,1437.5 1149,1435.9 1148.7,1434.3 1148.1,1432.8 1147.2,1431.3 1145.8,1429.8 1144.1,1428.4 1142.2,1427 1139.9,1425.7 1137.2,1424.3 1134,1422.9 1130.1,1421.3 1125.4,1419.7 1119.8,1418 1113.7,1416.3 1107.4,1414.4 1101.1,1412.4 1095.2,1410.1 1089.6,1407.7 1084,1405.1 1078.5,1402.4 1073.1,1399.5 1068,1396.2 1063.1,1392.7 1058.4,1388.7 1053.9,1384.3 1049.6,1379.6 1045.5,1374.8 1041.8,1369.9 1038.4,1365 1035.3,1360.1 1032.6,1355 1030.2,1349.8 1028.1,1344.6 1026.2,1339.6 1024.7,1334.8 1023.2,1330.5 1021.8,1326.4 1020.8,1322.5 1020.1,1318.5 1020.2,1314.3Z" fill="#e6a1a1" stroke="#f6dada" stroke-width="1.6"/><path d="M1021.2,1309.7 1023.1,1304.5 1025.7,1298.8 1029.1,1292.8 1033,1286.9 1037.5,1281.2 1042.4,1276 1047.9,1271.2 1054.2,1266.6 1061,1262.3 1068.1,1258.2 1075.2,1254.5 1082.3,1251.1 1089.1,1248.1 1096.1,1245.5 1103.1,1243.2 1110.2,1241.2 1117.4,1239.4 1124.6,1237.9 1132,1236.6 1139.4,1235.7 1146.9,1235 1154.4,1234.5 1162,1234.2 1169.5,1234.1 1177,1234.2 1184.4,1234.5 1191.9,1235 1199.4,1235.7 1206.9,1236.6 1214.4,1237.9 1221.9,1239.4 1229.7,1241.2 1237.4,1243.3 1245,1245.7 1252.3,1248.3 1259.2,1251.1 1265.8,1254.2 1272.3,1257.5 1278.4,1261.1 1284.2,1265 1289.5,1269.1 1294.1,1273.5 1298.2,1278.4 1301.7,1283.7 1304.7,1289.3 1307.2,1295 1309.2,1300.6 1310.6,1305.9 1311.3,1310.9 1311.3,1315.7 1310.7,1320.5 1309.8,1325.1 1308.5,1329.8 1307.1,1334.6 1305.5,1339.5 1303.6,1344.4 1301.4,1349.4 1299,1354.3 1296.2,1359.2 1293.1,1364 1289.7,1368.8 1286,1373.6 1281.9,1378.4 1277.6,1382.9 1273.1,1387.3 1268.4,1391.2 1263.5,1394.7 1258.3,1397.9 1252.9,1400.8 1247.3,1403.5 1241.8,1406 1236.3,1408.4 1230.7,1410.5 1224.8,1412.4 1219,1414.1 1213.3,1415.7 1208.2,1417.2 1203.9,1418.8 1200.4,1420.4 1197.5,1421.9 1195.2,1423.4 1193.2,1424.9 1191.5,1426.4 1189.9,1428.1 1188.6,1429.8 1187.6,1431.6 1186.8,1433.5 1186.3,1435.4 1185.8,1437.3 1185.4,1439.3 1185.2,1441.2 1185.1,1443 1185.2,1444.8 1185.3,1446.8 1185.4,1449.1 1185.4,1451.7 1185.4,1454.7 1185.4,1457.9 1185.4,1461.4 1185.4,1465.2 1185.4,1469.5 1185.4,1474.2 1185.4,1479.5 1185.4,1485.5 1185.4,1491.9 1185.4,1498.5 1185.4,1505.2 1185.4,1511.6 1185.4,1518 1185.4,1524.8 1185.4,1531.5 1185.4,1538 1185.4,1543.9 1185.4,1549 1185.4,1553.1 1185.4,1556.6 1185.4,1559.5 1185.4,1562.1 1185.4,1564.3 1185.4,1566.4 1185.9,1568.3 1186.8,1569.9 1187.7,1571.2 1188.1,1572.3 1187.5,1573.2 1185.4,1573.9 1181.1,1574.4 1174.8,1574.7 1167.5,1574.8 1160.2,1574.7 1153.9,1574.4 1149.6,1573.9 1147.5,1573.2 1146.9,1572.3 1147.3,1571.2 1148.2,1569.9 1149.1,1568.3 1149.6,1566.4 1149.6,1564.3 1149.6,1562.1 1149.6,1559.5 1149.6,1556.6 1149.6,1553.1 1149.6,1549 1149.6,1543.9 1149.6,1538 1149.6,1531.5 1149.6,1524.8 1149.6,1518 1149.6,1511.6 1149.6,1505.2 1149.6,1498.5 1149.6,1491.9 1149.6,1485.5 1149.6,1479.5 1149.6,1474.2 1149.6,1469.5 1149.6,1465.2 1149.6,1461.4 1149.6,1457.9 1149.6,1454.7 1149.6,1451.7 1149.6,1449.1 1149.7,1446.7 1149.8,1444.7 1149.8,1442.8 1149.8,1441.1 1149.6,1439.3 1149.3,1437.5 1149,1435.9 1148.7,1434.3 1148.1,1432.8 1147.2,1431.3 1145.8,1429.8 1144.1,1428.4 1142.2,1427 1139.9,1425.7 1137.2,1424.3 1134,1422.9 1130.1,1421.3 1125.4,1419.7 1119.8,1418 1113.7,1416.3 1107.4,1414.4 1101.1,1412.4 1095.2,1410.1 1089.6,1407.7 1084,1405.1 1078.5,1402.4 1073.1,1399.5 1068,1396.2 1063.1,1392.7 1058.4,1388.7 1053.9,1384.3 1049.6,1379.6 1045.5,1374.8 1041.8,1369.9 1038.4,1365 1035.3,1360.1 1032.6,1355 1030.2,1349.8 1028.1,1344.6 1026.2,1339.6 1024.7,1334.8 1023.2,1330.5 1021.8,1326.4 1020.8,1322.5 1020.1,1318.5 1020.2,1314.3Z" fill="url(#pw)" opacity=".85"/><path d="M1034.9,1309.7 1036,1305.1 1037.8,1300.3 1040,1295.5 1042.8,1290.7 1046.1,1286.3 1049.9,1282.3 1054.1,1278.7 1059,1275.5 1064.3,1272.6 1070.1,1269.8 1076.1,1267.3 1082.3,1264.8 1088.7,1262.4 1095.5,1260.1 1102.7,1258 1109.9,1256 1117.3,1254.3 1124.6,1252.8 1132,1251.7 1139.4,1250.7 1146.9,1250 1154.4,1249.5 1162,1249.2 1169.5,1249.1 1177,1249.2 1184.6,1249.6 1192.2,1250.1 1199.8,1250.9 1207.2,1251.8 1214.4,1252.8 1221.4,1254.1 1228.5,1255.4 1235.4,1257 1242.1,1258.7 1248.4,1260.6 1254.2,1262.8 1259.7,1265.2 1264.8,1267.7 1269.6,1270.5 1274,1273.5 1278,1276.7 1281.7,1280.3 1285,1284.2 1288,1288.5 1290.6,1293.1 1292.8,1297.8 1294.5,1302.6 1295.6,1307.2 1296.1,1311.7 1296,1316.3 1295.4,1320.9 1294.4,1325.4 1293.1,1330 1291.6,1334.6 1289.9,1339.2 1287.8,1343.9 1285.5,1348.5 1282.8,1353.2 1279.9,1357.7 1276.7,1362 1273.1,1366.3 1269.2,1370.6 1265,1374.7 1260.6,1378.7 1256.2,1382.4 1251.7,1385.7 1247.3,1388.6 1242.8,1391.1 1238.2,1393.3 1233.6,1395.4 1228.9,1397.4 1224.3,1399.4 1219.6,1401.4 1214.7,1403.4 1209.8,1405.3 1205,1407.2 1200.7,1408.9 1196.9,1410.6 1193.7,1412.2 1191,1413.6 1188.7,1414.9 1186.7,1416.2 1184.9,1417.7 1183.2,1419.3 1181.7,1421.1 1180.5,1422.9 1179.5,1424.9 1178.7,1427 1178,1429.3 1177.5,1431.8 1177.1,1434.7 1177,1437.8 1177.1,1441.2 1177.3,1444.6 1177.4,1448.2 1177.5,1451.7 1177.5,1455.2 1177.5,1458.5 1177.5,1461.9 1177.5,1465.5 1177.5,1469.5 1177.5,1474.2 1177.5,1479.5 1177.5,1485.5 1177.5,1491.9 1177.5,1498.5 1177.5,1505.2 1177.5,1511.6 1177.5,1518 1177.5,1524.8 1177.5,1531.5 1177.5,1538 1177.5,1543.9 1177.5,1549 1177.5,1553.1 1177.5,1556.6 1177.5,1559.5 1177.5,1562.1 1177.5,1564.3 1177.5,1566.4 1177.7,1568.3 1178.2,1569.9 1178.8,1571.2 1179,1572.3 1178.7,1573.2 1177.5,1573.9 1174.9,1574.4 1171.3,1574.7 1167,1574.8 1162.7,1574.7 1159.1,1574.4 1156.5,1573.9 1155.3,1573.2 1155,1572.3 1155.2,1571.2 1155.8,1569.9 1156.3,1568.3 1156.5,1566.4 1156.5,1564.3 1156.5,1562.1 1156.5,1559.5 1156.5,1556.6 1156.5,1553.1 1156.5,1549 1156.5,1543.9 1156.5,1538 1156.5,1531.5 1156.5,1524.8 1156.5,1518 1156.5,1511.6 1156.5,1505.2 1156.5,1498.5 1156.5,1491.9 1156.5,1485.5 1156.5,1479.5 1156.5,1474.2 1156.5,1469.5 1156.5,1465.5 1156.5,1461.9 1156.5,1458.5 1156.5,1455.2 1156.5,1451.7 1156.6,1448.2 1156.7,1444.6 1156.9,1441.2 1156.9,1437.8 1156.8,1434.7 1156.5,1431.8 1156.1,1429.3 1155.5,1427 1154.8,1424.9 1153.9,1422.9 1152.7,1421.1 1151,1419.3 1149.1,1417.7 1146.9,1416.2 1144.3,1414.9 1141.5,1413.6 1138.2,1412.2 1134.6,1410.6 1130.4,1408.9 1125.5,1407.2 1120.3,1405.4 1115,1403.5 1109.7,1401.5 1104.7,1399.4 1099.9,1397.2 1095.2,1395 1090.6,1392.6 1086,1390.1 1081.6,1387.4 1077.3,1384.4 1073,1381.2 1068.7,1377.7 1064.6,1374 1060.6,1370.1 1056.9,1366.1 1053.6,1362 1050.6,1357.7 1048,1353.2 1045.6,1348.5 1043.4,1343.7 1041.5,1339.1 1039.9,1334.6 1038.3,1330.3 1036.8,1326.2 1035.6,1322.1 1034.8,1318.1 1034.5,1313.9Z" fill="#a55f5e" stroke="#f4d3d2" stroke-width="1.8"/><path d="M1034.9,1309.7 1036,1305.1 1037.8,1300.3 1040,1295.5 1042.8,1290.7 1046.1,1286.3 1049.9,1282.3 1054.1,1278.7 1059,1275.5 1064.3,1272.6 1070.1,1269.8 1076.1,1267.3 1082.3,1264.8 1088.7,1262.4 1095.5,1260.1 1102.7,1258 1109.9,1256 1117.3,1254.3 1124.6,1252.8 1132,1251.7 1139.4,1250.7 1146.9,1250 1154.4,1249.5 1162,1249.2 1169.5,1249.1 1177,1249.2 1184.6,1249.6 1192.2,1250.1 1199.8,1250.9 1207.2,1251.8 1214.4,1252.8 1221.4,1254.1 1228.5,1255.4 1235.4,1257 1242.1,1258.7 1248.4,1260.6 1254.2,1262.8 1259.7,1265.2 1264.8,1267.7 1269.6,1270.5 1274,1273.5 1278,1276.7 1281.7,1280.3 1285,1284.2 1288,1288.5 1290.6,1293.1 1292.8,1297.8 1294.5,1302.6 1295.6,1307.2 1296.1,1311.7 1296,1316.3 1295.4,1320.9 1294.4,1325.4 1293.1,1330 1291.6,1334.6 1289.9,1339.2 1287.8,1343.9 1285.5,1348.5 1282.8,1353.2 1279.9,1357.7 1276.7,1362 1273.1,1366.3 1269.2,1370.6 1265,1374.7 1260.6,1378.7 1256.2,1382.4 1251.7,1385.7 1247.3,1388.6 1242.8,1391.1 1238.2,1393.3 1233.6,1395.4 1228.9,1397.4 1224.3,1399.4 1219.6,1401.4 1214.7,1403.4 1209.8,1405.3 1205,1407.2 1200.7,1408.9 1196.9,1410.6 1193.7,1412.2 1191,1413.6 1188.7,1414.9 1186.7,1416.2 1184.9,1417.7 1183.2,1419.3 1181.7,1421.1 1180.5,1422.9 1179.5,1424.9 1178.7,1427 1178,1429.3 1177.5,1431.8 1177.1,1434.7 1177,1437.8 1177.1,1441.2 1177.3,1444.6 1177.4,1448.2 1177.5,1451.7 1177.5,1455.2 1177.5,1458.5 1177.5,1461.9 1177.5,1465.5 1177.5,1469.5 1177.5,1474.2 1177.5,1479.5 1177.5,1485.5 1177.5,1491.9 1177.5,1498.5 1177.5,1505.2 1177.5,1511.6 1177.5,1518 1177.5,1524.8 1177.5,1531.5 1177.5,1538 1177.5,1543.9 1177.5,1549 1177.5,1553.1 1177.5,1556.6 1177.5,1559.5 1177.5,1562.1 1177.5,1564.3 1177.5,1566.4 1177.7,1568.3 1178.2,1569.9 1178.8,1571.2 1179,1572.3 1178.7,1573.2 1177.5,1573.9 1174.9,1574.4 1171.3,1574.7 1167,1574.8 1162.7,1574.7 1159.1,1574.4 1156.5,1573.9 1155.3,1573.2 1155,1572.3 1155.2,1571.2 1155.8,1569.9 1156.3,1568.3 1156.5,1566.4 1156.5,1564.3 1156.5,1562.1 1156.5,1559.5 1156.5,1556.6 1156.5,1553.1 1156.5,1549 1156.5,1543.9 1156.5,1538 1156.5,1531.5 1156.5,1524.8 1156.5,1518 1156.5,1511.6 1156.5,1505.2 1156.5,1498.5 1156.5,1491.9 1156.5,1485.5 1156.5,1479.5 1156.5,1474.2 1156.5,1469.5 1156.5,1465.5 1156.5,1461.9 1156.5,1458.5 1156.5,1455.2 1156.5,1451.7 1156.6,1448.2 1156.7,1444.6 1156.9,1441.2 1156.9,1437.8 1156.8,1434.7 1156.5,1431.8 1156.1,1429.3 1155.5,1427 1154.8,1424.9 1153.9,1422.9 1152.7,1421.1 1151,1419.3 1149.1,1417.7 1146.9,1416.2 1144.3,1414.9 1141.5,1413.6 1138.2,1412.2 1134.6,1410.6 1130.4,1408.9 1125.5,1407.2 1120.3,1405.4 1115,1403.5 1109.7,1401.5 1104.7,1399.4 1099.9,1397.2 1095.2,1395 1090.6,1392.6 1086,1390.1 1081.6,1387.4 1077.3,1384.4 1073,1381.2 1068.7,1377.7 1064.6,1374 1060.6,1370.1 1056.9,1366.1 1053.6,1362 1050.6,1357.7 1048,1353.2 1045.6,1348.5 1043.4,1343.7 1041.5,1339.1 1039.9,1334.6 1038.3,1330.3 1036.8,1326.2 1035.6,1322.1 1034.8,1318.1 1034.5,1313.9Z" fill="#a55f5e" stroke="#f4d3d2" stroke-width="1.8"/><ellipse cx="1168.2" cy="1334.6" rx="107.2" ry="37.4" fill="#b36d6a" opacity=".4"/><path d="M1115.9,1336.6 L1087.7,1326.6 M1131.7,1337.6 L1111.9,1317.6 M1151.6,1338.6 L1142.6,1308.7 M1173.4,1339.6 L1176.2,1299.7 M1194.7,1338.6 L1208.9,1308.7 M1212.9,1337.6 L1236.9,1317.6 M1226,1336.6 L1257.1,1326.6 " fill="none" stroke="#bb7673" stroke-width="7" stroke-linecap="round" opacity=".45"/><path d="M1147.4,1397.4 Q1089.3,1372.2 1047.9,1327.1 M1149.1,1398.4 Q1098.7,1369 1057.8,1319.6 M1151.4,1399.4 Q1108.8,1365.8 1070.9,1312.2 M1154.1,1400.4 Q1122.2,1362.5 1086.7,1304.7 M1157.3,1401.4 Q1130.8,1359.3 1105,1297.2 M1160.8,1402.4 Q1147.3,1356 1125,1289.7 M1164.5,1403.4 Q1145.7,1352.8 1146.3,1282.3 M1168.2,1404.4 Q1167.6,1349.6 1168.2,1274.8 M1172,1403.4 Q1190.3,1352.8 1190.2,1282.3 M1175.7,1402.4 Q1199.2,1356 1211.5,1289.7 M1179.2,1401.4 Q1216.8,1359.3 1231.5,1297.2 M1182.4,1400.4 Q1215.3,1362.5 1249.7,1304.7 M1185.1,1399.4 Q1232.3,1365.8 1265.6,1312.2 M1187.4,1398.4 Q1237.6,1369 1278.7,1319.6 M1189.1,1397.4 Q1250.1,1372.2 1288.6,1327.1 " fill="none" stroke="#935150" stroke-width="1.6" stroke-linecap="round" opacity=".4"/><path d="M1082.3,1329.6 Q1169.5,1349.6 1254.2,1329.6" fill="none" stroke="#96514f" stroke-width="2.4" opacity=".6"/><ellipse cx="1112.2" cy="1348.8" rx="5.5" ry="3" fill="#8d4a49" opacity=".8"/><ellipse cx="1219.8" cy="1348.8" rx="5.5" ry="3" fill="#8d4a49" opacity=".8"/><rect x="1145.8" y="1535.2" width="43.6" height="21.7" fill="url(#gfade)"/><rect x="1142.8" y="1556.4" width="49.6" height="40" fill="#fff"/>
<defs><linearGradient id="gt" x1="0" x2="1"><stop offset="0" stop-color="#a9a9a9"/><stop offset=".5" stop-color="#d8d8d8"/><stop offset="1" stop-color="#c4c4c4"/></linearGradient><radialGradient id="gbl" cx=".38" cy=".35" r=".7"><stop offset="0" stop-color="#e4e4e4"/><stop offset=".6" stop-color="#c3c3c3"/><stop offset="1" stop-color="#979797"/></radialGradient></defs><path d="M1297,1752C1298.8,1754.3 1304.8,1761.2 1308,1766C1311.2,1770.8 1314.8,1776.7 1316.5,1781C1318.2,1785.3 1318.2,1790.2 1318.5,1792 M1167.7,1418C1167.7,1425 1167.7,1438.4 1167.7,1460C1167.7,1481.6 1165.2,1526.4 1167.7,1547.7C1170.2,1569 1173.7,1573.8 1183,1588C1192.3,1602.2 1210,1619.2 1223.5,1632.7C1237,1646.2 1253.1,1656.9 1263.9,1669C1274.7,1681.1 1282.8,1692.7 1288.2,1705.5C1293.6,1718.3 1294.7,1732.7 1296.3,1745.9C1297.9,1759.2 1297.7,1778.5 1298,1785" fill="none" stroke="#8e8e8e" stroke-width="8.2" stroke-linecap="round"/><path d="M1297,1752C1298.8,1754.3 1304.8,1761.2 1308,1766C1311.2,1770.8 1314.8,1776.7 1316.5,1781C1318.2,1785.3 1318.2,1790.2 1318.5,1792 M1167.7,1418C1167.7,1425 1167.7,1438.4 1167.7,1460C1167.7,1481.6 1165.2,1526.4 1167.7,1547.7C1170.2,1569 1173.7,1573.8 1183,1588C1192.3,1602.2 1210,1619.2 1223.5,1632.7C1237,1646.2 1253.1,1656.9 1263.9,1669C1274.7,1681.1 1282.8,1692.7 1288.2,1705.5C1293.6,1718.3 1294.7,1732.7 1296.3,1745.9C1297.9,1759.2 1297.7,1778.5 1298,1785" fill="none" stroke="#d2d2d2" stroke-width="5.8" stroke-linecap="round"/><path d="M1167.7,1418C1167.7,1425 1167.7,1438.4 1167.7,1460C1167.7,1481.6 1165.2,1526.4 1167.7,1547.7C1170.2,1569 1173.7,1573.8 1183,1588C1192.3,1602.2 1210,1619.2 1223.5,1632.7C1237,1646.2 1253.1,1656.9 1263.9,1669C1274.7,1681.1 1282.8,1692.7 1288.2,1705.5C1293.6,1718.3 1294.7,1732.7 1296.3,1745.9C1297.9,1759.2 1297.7,1778.5 1298,1785" fill="none" stroke="#efefef" stroke-width="1.6" transform="translate(1,0)"/><rect x="1164.6" y="1407" width="6.4" height="20" rx="3.2" fill="#d8d8d8" stroke="#8e8e8e" stroke-width="1"/><ellipse cx="1167.8" cy="1413" rx="1.2" ry="2.6" fill="#777"/><circle cx="1168.2" cy="1435.5" r="16.2" fill="url(#gbl)" stroke="#8a8a8a" stroke-width="1.2"/><ellipse cx="1162" cy="1428" rx="4.5" ry="3" fill="#fff" opacity=".7" transform="rotate(-30 1162 1428)"/><path d="M1292.7,1775 L1303.4,1775 L1303.4,1803 L1292.7,1803Z" fill="url(#gt)" stroke="#8e8e8e" stroke-width="1"/><path d="M1313.5,1783 Q1313.5,1781 1316,1781 L1322,1781 Q1324.5,1781 1324.5,1783 L1324.8,1792 L1326,1796 Q1325,1799 1319,1799 Q1313,1799 1312,1796 L1313.2,1792Z" fill="#b23b3b" stroke="#8e2c2c" stroke-width=".8"/><rect x="1317" y="1798.5" width="4.4" height="6.5" rx="2.2" fill="#e6e6e6" stroke="#999" stroke-width=".7"/><path d="M1297.7,1818.2 Q1292.7,1818.2 1292.7,1821.4 L1292.7,1821.4 Q1292.7,1824.7 1291.1,1826.8 L1291.1,1826.8 Q1289.4,1829 1284.6,1830.1 L1244.7,1839.1 Q1239.9,1840.2 1236.7,1844.1 L1235.5,1845.6 Q1232.3,1849.4 1232.3,1854.4 L1231.9,1918.8 Q1231.9,1923.8 1232,1928.8 L1232.7,1992.1 Q1232.8,1997.1 1235.8,2001 L1236.8,2002.2 Q1239.9,2006.1 1244.8,2007 L1284.5,2014.5 Q1289.4,2015.4 1291.1,2017.5 L1291.1,2017.5 Q1292.7,2019.7 1292.7,2024.7 L1292.7,2025.5 Q1292.7,2030.5 1297.7,2030.5 L1298.9,2030.5 Q1303.9,2030.5 1303.9,2025.5 L1303.9,2024.7 Q1303.9,2019.7 1305.5,2017.5 L1305.5,2017.5 Q1307.1,2015.4 1312,2014.4 L1352,2006.3 Q1356.9,2005.3 1359.9,2001.3 L1360.1,2001 Q1363.1,1997.1 1363.2,1992.1 L1363.7,1928.8 Q1363.8,1923.8 1363.7,1918.8 L1363.2,1854.4 Q1363.1,1849.4 1360.2,1845.4 L1359.2,1844.2 Q1356.2,1840.2 1351.4,1839 L1311.5,1829.7 Q1306.7,1828.5 1305.3,1826.6 L1305.3,1826.6 Q1303.9,1824.7 1303.9,1821.4 L1303.9,1821.4 Q1303.9,1818.2 1298.9,1818.2 Z" fill="#b7d6ea" stroke="#9ec5de" stroke-width="1.4" stroke-linejoin="round"/><path d="M1298.3,1822.5 Q1294.8,1822.5 1294.8,1825.5 L1294.8,1825.5 Q1294.8,1828.5 1293.2,1831.4 L1293.2,1831.4 Q1291.6,1834.4 1286.7,1835.6 L1249,1845 Q1244.2,1846.2 1242.6,1849.4 L1242.6,1849.4 Q1240.9,1852.7 1240.9,1857.7 L1240.9,1988.8 Q1240.9,1993.8 1242.6,1996.5 L1242.6,1996.5 Q1244.2,1999.2 1249.1,2000.4 L1285.6,2008.9 Q1290.5,2010 1292.5,2012.7 L1292.5,2012.7 Q1294.4,2015.4 1298.3,2015.4 L1298.3,2015.4 Q1302.2,2015.4 1304.1,2012.7 L1304.1,2012.7 Q1306,2010 1310.9,2008.9 L1347.1,2000.4 Q1351.9,1999.2 1353.1,1996.5 L1353.1,1996.5 Q1354.3,1993.8 1354.3,1988.8 L1354.3,1857.7 Q1354.3,1852.7 1352.8,1849.4 L1352.8,1849.4 Q1351.3,1846.2 1346.4,1845 L1309.4,1835.6 Q1304.5,1834.4 1303.1,1831.4 L1303.1,1831.4 Q1301.7,1828.5 1301.7,1825.5 L1301.7,1825.5 Q1301.7,1822.5 1298.3,1822.5 Z" fill="#d8ebf3" stroke="#c2dcea" stroke-width="1"/><path d="M1312.1,1837.6 1351.3,1846.6 1354.3,1852.7 1354.3,1902.2 1312.1,1902.2 Z" fill="#cfe4ee" opacity=".8"/><path d="M1242.2,1989.8 Q1242.2,1993.8 1243.5,1996.3 L1243.5,1996.3 Q1244.8,1998.8 1248.7,1999.7 L1286.6,2008.7 Q1290.5,2009.6 1292,2011.9 L1292,2011.9 Q1293.5,2014.3 1293.5,2018.3 L1293.5,2025.8 Q1293.5,2029.8 1297.5,2029.8 L1299,2029.8 Q1303,2029.8 1303,2025.8 L1303,2018.3 Q1303,2014.3 1304.5,2011.9 L1304.5,2011.9 Q1306,2009.6 1309.9,2008.6 L1347.4,1999.7 Q1351.3,1998.8 1352.4,1996.3 L1352.4,1996.3 Q1353.4,1993.8 1353.4,1989.8 L1353.4,1908.8 Q1353.4,1904.8 1349.4,1904.8 L1246.2,1904.8 Q1242.2,1904.8 1242.2,1908.8 Z" fill="#fac11c"/><path d="M1264.7,1910.9 1320.7,1910.9 1329.3,1923.8 1331.5,1975.5 1327.2,1992.8 1307.8,2001.4 1286.2,2001.4 1269,1992.8 1263.8,1975.5 Z" fill="#ffd62e"/><ellipse cx="1297.8" cy="1907.6" rx="55.6" ry="7.5" fill="#ffd83a"/><path d="M1243.1,1904.8 1269,1901.2 1303.4,1902.2 1316.4,1906.6 1290.5,1910.9 1256,1910.9 Z" fill="#ffe061" opacity=".9"/><path d="M1335.8,1962.6 1342.2,1961.5 1347,1973.4 1344.8,1988.4 1337.9,1996.6 1331.9,1993.8 1335.3,1982 1337.1,1972.3 Z" fill="#ffd83a" opacity=".9"/><path d="M1298.7,1883.7 Q1316.7,1883.9 1334.7,1882.4 M1316.4,1892.3 Q1325.5,1892.5 1334.7,1891 M1298.7,1901.4 Q1316.7,1901.6 1334.7,1900.1 M1316.4,1910.6 Q1325.5,1910.9 1334.7,1909.4 M1298.7,1919.7 Q1316.7,1919.9 1334.7,1918.4 M1316.4,1928.8 Q1325.5,1929 1334.7,1927.5 M1298.7,1937.8 Q1316.7,1938 1334.7,1936.5 M1316.4,1946.9 Q1325.5,1947.1 1334.7,1945.6 M1298.7,1955.9 Q1316.7,1956.1 1334.7,1954.6 M1316.4,1965 Q1325.5,1965.2 1334.7,1963.7 M1298.7,1974.2 Q1316.7,1974.4 1334.7,1972.9 " stroke="#46678a" stroke-width="1.1" fill="none"/><rect x="1255" y="1862.4" width="16.2" height="94.8" rx="8" fill="#fff" opacity=".62"/><rect x="1290" y="1802" width="16.2" height="17.6" rx="3" fill="#1b7fb4" stroke="#156a98" stroke-width=".8"/><rect x="1290" y="2029.2" width="16.2" height="16" rx="3" fill="#1b7fb4" stroke="#156a98" stroke-width=".8"/><rect x="1293.3" y="2043" width="9.7" height="15.6" rx="3" fill="#1b7fb4" stroke="#156a98" stroke-width=".8"/>
<defs><radialGradient id="gy" cx=".42" cy=".42" r=".62"><stop offset="0" stop-color="#c3a283"/><stop offset=".72" stop-color="#c0a081"/><stop offset=".8" stop-color="#b69274"/><stop offset="1" stop-color="#b18d6f"/></radialGradient></defs><path d="M992.5,1499.4C992.5,1500.7 993.3,1502 993.2,1503.3C993,1504.6 992,1505.7 991.6,1506.9C991.1,1508.2 991.2,1509.6 990.6,1510.7C990,1511.9 988.8,1512.7 988.1,1513.8C987.3,1514.9 987,1516.3 986.1,1517.3C985.2,1518.2 983.7,1518.7 982.7,1519.6C981.6,1520.5 981,1521.8 979.8,1522.5C978.6,1523.1 977,1523 975.7,1523.5C974.4,1524 973.3,1525.1 972,1525.5C970.7,1525.9 969.2,1525.7 967.8,1525.9C966.5,1526.1 965.1,1526.7 963.7,1526.7C962.3,1526.7 961,1526.1 959.6,1525.9C958.2,1525.7 956.7,1525.8 955.4,1525.5C954.1,1525.1 953,1524.2 951.7,1523.6C950.4,1523.1 948.8,1523.1 947.6,1522.4C946.5,1521.8 945.9,1520.3 944.8,1519.5C943.7,1518.7 942.1,1518.3 941.2,1517.4C940.2,1516.5 939.9,1515 939.2,1513.9C938.5,1512.8 937.4,1511.9 936.9,1510.7C936.4,1509.5 936.5,1508.1 936.1,1506.9C935.7,1505.6 934.6,1504.5 934.3,1503.3C934.1,1502 934.6,1500.7 934.6,1499.4C934.6,1498.1 934.2,1496.8 934.4,1495.5C934.6,1494.3 935.6,1493.2 936,1491.9C936.4,1490.7 936.2,1489.2 936.8,1488.1C937.3,1486.9 938.7,1486.1 939.5,1485.1C940.3,1484 940.5,1482.5 941.4,1481.6C942.2,1480.6 943.7,1480.1 944.8,1479.3C945.8,1478.4 946.5,1477.1 947.7,1476.4C948.8,1475.7 950.4,1475.7 951.7,1475.2C953,1474.7 954.1,1473.6 955.4,1473.3C956.7,1472.9 958.2,1473.3 959.6,1473.1C961,1472.9 962.3,1472.1 963.7,1472.1C965.1,1472.1 966.4,1472.9 967.8,1473.1C969.2,1473.3 970.7,1473 972,1473.3C973.3,1473.7 974.5,1474.5 975.8,1475C977.1,1475.5 978.6,1475.7 979.7,1476.4C980.9,1477.1 981.6,1478.3 982.7,1479.2C983.7,1480.1 985.1,1480.6 986,1481.6C986.9,1482.5 987.4,1483.8 988.2,1484.9C989,1486 990.3,1486.8 990.8,1488C991.3,1489.2 991,1490.7 991.3,1491.9C991.7,1493.2 992.8,1494.3 993,1495.5C993.2,1496.8 992.5,1498.1 992.5,1499.4Z" fill="url(#gy)" stroke="#8f6f56" stroke-width="1.6"/><path d="M1048.2,1557C1048.2,1558.5 1049,1560.1 1048.8,1561.5C1048.6,1563 1047.2,1564.3 1046.8,1565.8C1046.5,1567.3 1047,1568.9 1046.6,1570.4C1046.1,1571.8 1045,1573 1044.4,1574.4C1043.9,1575.8 1043.9,1577.5 1043.1,1578.8C1042.4,1580.1 1040.8,1581 1039.9,1582.3C1039,1583.5 1038.6,1585.1 1037.6,1586.3C1036.6,1587.4 1035,1588 1033.9,1589.1C1032.8,1590.2 1032.2,1591.8 1030.9,1592.8C1029.7,1593.7 1027.9,1594 1026.6,1594.8C1025.2,1595.6 1024.2,1596.9 1022.8,1597.6C1021.5,1598.3 1019.7,1598.3 1018.2,1598.9C1016.7,1599.5 1015.5,1600.7 1014,1601.2C1012.5,1601.6 1010.8,1601.3 1009.2,1601.6C1007.6,1601.9 1006.2,1603 1004.6,1603.2C1003.1,1603.4 1001.4,1602.6 999.8,1602.6C998.2,1602.5 996.6,1603.2 995,1603C993.4,1602.8 992,1601.8 990.4,1601.5C988.8,1601.2 987.1,1601.6 985.6,1601.1C984.1,1600.7 982.9,1599.3 981.4,1598.8C980,1598.2 978.2,1598.3 976.8,1597.6C975.4,1596.9 974.4,1595.5 973.1,1594.7C971.7,1593.9 970,1593.6 968.7,1592.7C967.5,1591.7 966.9,1590.1 965.8,1589.1C964.6,1588 962.8,1587.6 961.8,1586.4C960.8,1585.3 960.6,1583.5 959.7,1582.2C958.9,1581 957.3,1580.1 956.5,1578.8C955.8,1577.5 956,1575.7 955.4,1574.3C954.8,1572.9 953.5,1571.8 953.1,1570.4C952.6,1568.9 953,1567.3 952.6,1565.8C952.3,1564.4 951.3,1563 951.2,1561.5C951,1560 951.7,1558.5 951.6,1557C951.6,1555.5 950.6,1553.9 950.8,1552.5C950.9,1551 952.1,1549.6 952.5,1548.1C952.9,1546.7 952.6,1545.1 953,1543.6C953.5,1542.2 954.6,1541 955.1,1539.6C955.7,1538.2 955.7,1536.5 956.4,1535.2C957.2,1533.9 958.8,1533 959.7,1531.7C960.6,1530.5 960.8,1528.7 961.8,1527.6C962.8,1526.4 964.5,1525.9 965.7,1524.8C966.8,1523.8 967.4,1522.1 968.6,1521.2C969.8,1520.3 971.7,1520.2 973.1,1519.3C974.4,1518.5 975.2,1516.8 976.6,1516.1C978,1515.3 979.8,1515.4 981.3,1514.9C982.8,1514.4 984.1,1513.3 985.6,1512.9C987.1,1512.5 988.8,1512.7 990.4,1512.4C991.9,1512.1 993.4,1511 995,1510.9C996.6,1510.8 998.2,1511.6 999.8,1511.6C1001.4,1511.6 1003,1510.9 1004.6,1511C1006.2,1511.1 1007.6,1512.2 1009.2,1512.5C1010.8,1512.8 1012.6,1512.2 1014.1,1512.6C1015.6,1513 1016.7,1514.5 1018.2,1515.1C1019.7,1515.7 1021.6,1515.4 1023,1516.1C1024.4,1516.8 1025.2,1518.5 1026.5,1519.3C1027.9,1520.2 1029.8,1520.2 1031,1521.2C1032.3,1522.1 1032.9,1523.7 1034,1524.8C1035.1,1525.9 1036.7,1526.5 1037.7,1527.7C1038.7,1528.9 1039,1530.5 1039.9,1531.8C1040.8,1533 1042.5,1533.8 1043.2,1535.1C1044,1536.4 1043.8,1538.2 1044.4,1539.6C1045,1541 1046.3,1542.2 1046.7,1543.6C1047.1,1545 1046.6,1546.7 1046.9,1548.2C1047.2,1549.6 1048.3,1551 1048.5,1552.5C1048.7,1553.9 1048.1,1555.5 1048.2,1557Z" fill="url(#gy)" stroke="#8f6f56" stroke-width="1.6"/><g fill="#b18d6f" opacity=".8"><ellipse cx="980.9" cy="1530.6" rx="3" ry="2.2"/><ellipse cx="999.8" cy="1533.3" rx="1.5" ry="1.2"/><ellipse cx="1017.6" cy="1538.7" rx="3.2" ry="5.9"/><ellipse cx="986.8" cy="1546.3" rx="3" ry="2.7"/><ellipse cx="969.1" cy="1541.9" rx="1.9" ry="3.8"/><ellipse cx="966.4" cy="1562.4" rx="6.5" ry="2.7"/><ellipse cx="1010" cy="1566.2" rx="4.9" ry="2.4"/><ellipse cx="952.3" cy="1484.3" rx="1.7" ry="1.1"/><ellipse cx="955.6" cy="1494" rx="1.5" ry="1.3"/><ellipse cx="973.9" cy="1488.6" rx="1.1" ry="3"/><ellipse cx="944.3" cy="1504.2" rx="4.3" ry="1.5"/><ellipse cx="969.1" cy="1505.8" rx="2.8" ry="1.3"/></g><circle cx="1001.4" cy="1586.4" r="10" fill="#9c7a5d"/><circle cx="1000.9" cy="1587.4" r="7.2" fill="#d9c49e"/><ellipse cx="1037.5" cy="1538.7" rx="5" ry="7" fill="#d9c49e" stroke="#9c7a5d" stroke-width="1.5" transform="rotate(-35 1037.5 1538.7)"/>
<defs><linearGradient id="gr1" gradientUnits="userSpaceOnUse" x1="715" y1="0" x2="860" y2="0"><stop offset="0" stop-color="#ff1a1a" stop-opacity="0"/><stop offset="1" stop-color="#ff1a1a" stop-opacity="1"/></linearGradient><linearGradient id="gr2" gradientUnits="userSpaceOnUse" x1="0" y1="1775" x2="0" y2="1690"><stop offset="0" stop-color="#ff1f55" stop-opacity="0"/><stop offset="1" stop-color="#ff1f55" stop-opacity="1"/></linearGradient><linearGradient id="gr3" gradientUnits="userSpaceOnUse" x1="0" y1="740" x2="0" y2="990"><stop offset="0" stop-color="#ff6450" stop-opacity="1"/><stop offset=".35" stop-color="#ff6450" stop-opacity=".85"/><stop offset="1" stop-color="#ff6450" stop-opacity="0"/></linearGradient><linearGradient id="gr4" gradientUnits="userSpaceOnUse" x1="0" y1="1045" x2="0" y2="1290"><stop offset="0" stop-color="#ff6450" stop-opacity="1"/><stop offset=".35" stop-color="#ff6450" stop-opacity=".85"/><stop offset="1" stop-color="#ff6450" stop-opacity="0"/></linearGradient></defs><path d="M715,1778C726.6,1780.2 763.6,1789.7 784.5,1791.4C805.4,1793.1 821.6,1790.9 840.2,1788.3C858.8,1785.7 878,1781.2 895.9,1775.6C913.8,1770 930.7,1762.8 947.7,1754.5C964.7,1746.2 982.1,1736 997.7,1726.1C1013.3,1716.2 1026.9,1706.1 1041.3,1695.3C1055.7,1684.5 1074.2,1669.5 1084,1661.3C1093.8,1653.1 1097.3,1648.5 1100,1646" fill="none" stroke="url(#gr1)" stroke-width="11.5" stroke-linecap="round" stroke-dasharray="19.5 36" stroke-dashoffset="-8.7"/><path d="M1125.6,1613.3 L1077.5,1637 L1111,1658.5Z" fill="#ff1a1a"/><path d="M1359,1772C1359.3,1765.3 1361.3,1744.1 1361,1731.7C1360.7,1719.3 1359.6,1708.5 1356.9,1697.4C1354.2,1686.3 1349.5,1675.1 1344.8,1665C1340.1,1654.9 1334.7,1645.5 1328.6,1636.7C1322.5,1628 1315.8,1620.2 1308.4,1612.5C1301,1604.8 1291.8,1597 1284.1,1590.2C1276.4,1583.5 1265.7,1575 1262,1572" fill="none" stroke="url(#gr2)" stroke-width="8.2" stroke-linecap="round" stroke-dasharray="13.3 19.9" stroke-dashoffset="-5.5"/><path d="M1236.4,1552.6 L1251.5,1578.5 L1269.5,1556.6Z" fill="#ff1f55"/><path d="M1404.6,742 V990" stroke="url(#gr3)" stroke-width="6" stroke-linecap="round" stroke-dasharray="14 18.2" stroke-dashoffset="-6" fill="none"/><path d="M1404.6,711.3 L1392.6,743 L1416.6,743Z" fill="#ff1a1a"/><path d="M1404.6,1047 V1292" stroke="url(#gr4)" stroke-width="6" stroke-linecap="round" stroke-dasharray="14 18.2" stroke-dashoffset="-6" fill="none"/><path d="M1404.6,1016.6 L1392.6,1048.3 L1416.6,1048.3Z" fill="#ff1a1a"/>
<g transform="translate(1498.5,958.4) rotate(-95.7) scale(1)"><path d="M-50,-1C-51.2,-1.2 -54.9,-2.5 -57.3,-2.5C-59.8,-2.5 -62.2,-2.1 -64.7,-1.2C-67.1,-0.3 -69.6,3 -72,2.9C-74.5,2.9 -76.9,0.1 -79.3,-1.3C-81.8,-2.8 -84.2,-5.6 -86.6,-5.6C-89.1,-5.6 -91.5,-2.9 -94,-1.5C-96.5,-0.1 -98.9,2.6 -101.4,2.6C-103.8,2.6 -106.2,-0.2 -108.7,-1.7C-111.1,-3.1 -113.5,-5.9 -116,-5.9C-118.4,-6 -120.9,-3.2 -123.3,-1.8C-125.8,-0.5 -128.3,2.3 -130.7,2.3C-133.2,2.3 -136.8,-1.3 -138,-2 M-50,2C-51.4,1.9 -55.5,1.1 -58.1,1.5C-60.8,2 -63.3,3.8 -65.9,4.8C-68.5,5.9 -70.9,8.2 -73.7,7.9C-76.4,7.6 -79.4,4 -82.2,3C-85,2 -87.7,1.2 -90.3,2.1C-92.9,3 -95.3,7 -97.8,8.5C-100.4,10 -102.9,11.3 -105.7,10.9C-108.4,10.5 -111.4,7 -114.2,6C-117,5 -119.7,4.2 -122.3,5.1C-124.9,6 -127.3,10 -129.8,11.5C-132.4,13 -134.9,14.3 -137.7,13.9C-140.4,13.5 -144.8,9.8 -146.2,9 M-49,5C-50.2,5.2 -54.1,5.1 -56.4,6.1C-58.8,7.1 -60.6,9.9 -62.9,11C-65.2,12.1 -67.5,13 -70.2,12.7C-72.9,12.4 -76.3,9 -78.9,8.9C-81.5,8.8 -83.7,10.2 -85.8,12C-87.9,13.7 -89.4,18.1 -91.6,19.4C-93.9,20.8 -96.5,20.6 -99.2,20C-101.9,19.5 -105.3,16.4 -107.9,16.2C-110.5,16.1 -112.7,17.5 -114.8,19.3C-116.9,21.1 -118.4,25.4 -120.6,26.8C-122.9,28.1 -125.5,27.9 -128.2,27.4C-130.9,26.8 -135.4,24.2 -136.9,23.6 M-5,18.3 C-25,28.3 -40,22.3 -55,30.3 S-80,28.3 -100,40.3 M-25,-18.3 C-40,-27.3 -50,-21.3 -62,-28.3 S-80,-27.3 -92,-34.3" fill="none" stroke="#5b4691" stroke-width="0.9" stroke-linecap="round" opacity=".9"/><path d="M-28.6,-18.3 q-0,-2.1 -0.3,-4.3 M15.4,-18.3 q-1.9,-1.7 2,-3.5 M-3.2,-18.3 q-0.9,-3.2 1.8,-6.5 M10.2,-18.3 q-1.9,-3.8 -2.8,-7.5 M6,18.3 q1.9,3.2 1.4,6.4 M4.8,18.3 q0.2,3.8 -0.9,7.7 M17.5,18.3 q1.7,3.9 -0.5,7.8 M37.9,-18.3 q2,-2 2.2,-3.9 M-29.7,18.3 q1.9,3.7 0,7.5 M42.2,-18.3 q0.4,-2.3 2.3,-4.5 M31.9,18.3 q-1.9,3 -1.5,5.9 M27.8,18.3 q-0.5,3.2 2.3,6.3 M25.9,18.3 q0.7,1.7 -2.4,3.4 M-26.1,18.3 q0.9,2.4 -0.2,4.9" fill="none" stroke="#5b4691" stroke-width="0.7" stroke-linecap="round" opacity=".7"/><rect x="-50" y="-18.3" width="100" height="36.5" rx="18.3" fill="#bfa7d6" stroke="#5b4691" stroke-width="1.6"/><rect x="-46.7" y="-15" width="93.4" height="29.9" rx="15" fill="#dccde8"/><path d="M-30,0C-30,0.4 -29.8,1.7 -29.8,2.5C-29.9,3.3 -30,4.1 -30.3,4.8C-30.5,5.6 -30.8,6.2 -31.2,6.7C-31.5,7.3 -32,7.7 -32.4,8C-32.9,8.2 -33.4,8.3 -33.8,8.3C-34.2,8.3 -34.7,8.1 -35.1,7.7C-35.5,7.4 -35.8,6.8 -36.1,6.2C-36.4,5.6 -36.6,4.8 -36.7,4C-36.7,3.1 -36.7,2.2 -36.6,1.2C-36.5,0.3 -36.3,-0.7 -36,-1.7C-35.7,-2.6 -35.2,-3.6 -34.7,-4.4C-34.2,-5.2 -33.6,-6 -32.9,-6.6C-32.3,-7.2 -31.5,-7.7 -30.8,-8C-30,-8.3 -29.2,-8.5 -28.4,-8.4C-27.7,-8.4 -26.9,-8.2 -26.1,-7.8C-25.4,-7.4 -24.7,-6.8 -24.1,-6.1C-23.5,-5.4 -22.9,-4.5 -22.4,-3.5C-22,-2.6 -21.6,-1.5 -21.4,-0.5C-21.1,0.6 -21,1.7 -20.9,2.8C-20.9,3.8 -20.9,4.9 -21.1,5.9C-21.2,6.8 -21.5,7.7 -21.8,8.4C-22.1,9 -22.5,9.6 -22.9,10C-23.3,10.4 -23.8,10.6 -24.2,10.6C-24.7,10.6 -25.2,10.5 -25.6,10.1C-26,9.8 -26.4,9.3 -26.8,8.6C-27.1,8 -27.4,7.2 -27.5,6.3C-27.7,5.5 -27.8,4.4 -27.8,3.5C-27.8,2.5 -27.7,1.4 -27.4,0.4C-27.2,-0.5 -26.9,-1.5 -26.4,-2.4C-26,-3.2 -25.5,-4.1 -24.9,-4.7C-24.3,-5.3 -23.6,-5.9 -22.9,-6.2C-22.2,-6.6 -21.4,-6.8 -20.6,-6.8C-19.8,-6.9 -19,-6.8 -18.3,-6.5C-17.5,-6.2 -16.7,-5.8 -16.1,-5.2C-15.4,-4.7 -14.8,-4 -14.2,-3.3C-13.7,-2.5 -13.2,-1.7 -12.9,-0.9C-12.5,-0 -12.3,0.9 -12.1,1.7C-12,2.5 -11.9,3.4 -12,4.1C-12.1,4.8 -12.2,5.5 -12.5,6.1C-12.7,6.6 -13,7.1 -13.4,7.4C-13.8,7.8 -14.2,8 -14.7,8.1C-15.1,8.1 -15.6,8.1 -16.1,7.9C-16.5,7.7 -17,7.4 -17.3,7C-17.7,6.6 -18.1,6.1 -18.3,5.6C-18.6,5 -18.8,4.4 -18.8,3.7C-18.9,3.1 -18.9,2.4 -18.8,1.7C-18.6,1.1 -18.4,0.4 -18.1,-0.2C-17.7,-0.8 -17.3,-1.4 -16.7,-1.9C-16.2,-2.3 -15.6,-2.8 -14.9,-3.1C-14.3,-3.4 -13.5,-3.6 -12.8,-3.8C-12,-3.9 -11.2,-3.9 -10.4,-3.8C-9.6,-3.8 -8.8,-3.6 -8.1,-3.4C-7.4,-3.1 -6.7,-2.8 -6.1,-2.4C-5.5,-2 -4.9,-1.5 -4.5,-1C-4.1,-0.6 -3.7,-0 -3.5,0.5C-3.2,1 -3.1,1.6 -3.1,2.1C-3,2.6 -3.1,3.1 -3.3,3.5C-3.4,4 -3.7,4.4 -4,4.7C-4.3,5 -4.7,5.3 -5.1,5.4C-5.6,5.6 -6,5.7 -6.5,5.7C-7,5.7 -7.4,5.6 -7.9,5.4C-8.3,5.2 -8.7,4.9 -9,4.6C-9.3,4.2 -9.6,3.8 -9.7,3.3C-9.9,2.8 -10,2.3 -9.9,1.7C-9.9,1.2 -9.8,0.6 -9.5,-0C-9.3,-0.6 -8.9,-1.2 -8.5,-1.8C-8.1,-2.4 -7.5,-2.9 -6.9,-3.4C-6.3,-3.8 -5.6,-4.2 -4.9,-4.5C-4.2,-4.9 -3.4,-5.1 -2.6,-5.2C-1.8,-5.3 -1,-5.3 -0.2,-5.2C0.5,-5.1 1.3,-4.9 1.9,-4.6C2.6,-4.3 3.2,-3.9 3.7,-3.4C4.3,-2.9 4.7,-2.3 5.1,-1.6C5.4,-1 5.6,-0.3 5.8,0.4C5.9,1.1 5.9,1.9 5.8,2.6C5.8,3.3 5.6,4 5.3,4.5C5.1,5.1 4.7,5.7 4.3,6.1C4,6.5 3.5,6.8 3.1,7C2.6,7.1 2.1,7.2 1.7,7.1C1.2,7 0.8,6.7 0.4,6.3C0,5.9 -0.3,5.4 -0.5,4.7C-0.8,4.1 -0.9,3.3 -1,2.5C-1.1,1.6 -1,0.7 -0.9,-0.3C-0.7,-1.2 -0.5,-2.2 -0.1,-3.1C0.2,-4 0.7,-5 1.2,-5.8C1.8,-6.6 2.4,-7.3 3.1,-7.9C3.7,-8.5 4.5,-9 5.3,-9.2C6,-9.5 6.8,-9.7 7.6,-9.6C8.4,-9.6 9.2,-9.3 9.9,-9C10.6,-8.6 11.3,-8 11.9,-7.3C12.5,-6.6 13,-5.8 13.4,-4.9C13.9,-4 14.2,-2.9 14.4,-1.9C14.7,-0.9 14.8,0.2 14.8,1.2C14.8,2.2 14.7,3.2 14.5,4.1C14.4,5 14.1,5.8 13.8,6.4C13.4,7.1 13,7.6 12.6,7.9C12.2,8.2 11.7,8.4 11.2,8.3C10.8,8.3 10.3,8 9.9,7.6C9.5,7.2 9.1,6.6 8.8,5.9C8.5,5.2 8.2,4.3 8.1,3.4C7.9,2.5 7.9,1.4 7.9,0.4C8,-0.6 8.1,-1.8 8.4,-2.8C8.6,-3.8 9,-4.9 9.4,-5.8C9.9,-6.7 10.5,-7.5 11.1,-8.2C11.7,-8.8 12.4,-9.4 13.1,-9.7C13.9,-10.1 14.7,-10.3 15.4,-10.3C16.2,-10.3 17,-10.1 17.8,-9.8C18.5,-9.5 19.3,-9 19.9,-8.4C20.6,-7.8 21.2,-7 21.7,-6.2C22.2,-5.4 22.7,-4.5 23,-3.6C23.3,-2.7 23.5,-1.8 23.6,-0.9C23.7,0 23.7,0.9 23.7,1.7C23.6,2.5 23.4,3.2 23.1,3.8C22.8,4.4 22.5,4.9 22.1,5.2C21.7,5.5 21.2,5.7 20.8,5.8C20.4,5.8 19.9,5.7 19.4,5.5C19,5.3 18.5,4.9 18.2,4.4C17.8,4 17.5,3.4 17.3,2.8C17,2.2 16.9,1.4 16.8,0.7C16.8,0 17,-1.1 17,-1.4 M-36,-4 L-29,0 M28,-2 L40,-7" fill="none" stroke="#c5b1d8" stroke-width="1.2" stroke-linecap="round"/><g fill="#7a6a7a" opacity=".7"><circle cx="-13.9" cy="8.5" r="0.9"/><circle cx="10" cy="1.9" r="0.9"/><circle cx="12.5" cy="-8.1" r="0.9"/><circle cx="-20.3" cy="-12" r="0.9"/><circle cx="-22.4" cy="10.3" r="0.9"/><circle cx="4.8" cy="-2.3" r="0.9"/><circle cx="-11.2" cy="8.5" r="0.9"/><circle cx="-10.4" cy="10" r="0.9"/><circle cx="13.4" cy="2.7" r="0.9"/><circle cx="18.9" cy="-2.9" r="0.9"/></g></g><g transform="translate(1363.9,1530.7) rotate(-103.5) scale(0.9)"><path d="M-50,-1C-51.2,-1.2 -54.9,-2.5 -57.3,-2.5C-59.8,-2.5 -62.2,-2.1 -64.7,-1.2C-67.1,-0.3 -69.6,3 -72,2.9C-74.5,2.9 -76.9,0.1 -79.3,-1.3C-81.8,-2.8 -84.2,-5.6 -86.6,-5.6C-89.1,-5.6 -91.5,-2.9 -94,-1.5C-96.5,-0.1 -98.9,2.6 -101.4,2.6C-103.8,2.6 -106.2,-0.2 -108.7,-1.7C-111.1,-3.1 -113.5,-5.9 -116,-5.9C-118.4,-6 -120.9,-3.2 -123.3,-1.8C-125.8,-0.5 -128.3,2.3 -130.7,2.3C-133.2,2.3 -136.8,-1.3 -138,-2 M-50,2C-51.4,1.9 -55.5,1.1 -58.1,1.5C-60.8,2 -63.3,3.8 -65.9,4.8C-68.5,5.9 -70.9,8.2 -73.7,7.9C-76.4,7.6 -79.4,4 -82.2,3C-85,2 -87.7,1.2 -90.3,2.1C-92.9,3 -95.3,7 -97.8,8.5C-100.4,10 -102.9,11.3 -105.7,10.9C-108.4,10.5 -111.4,7 -114.2,6C-117,5 -119.7,4.2 -122.3,5.1C-124.9,6 -127.3,10 -129.8,11.5C-132.4,13 -134.9,14.3 -137.7,13.9C-140.4,13.5 -144.8,9.8 -146.2,9 M-49,5C-50.2,5.2 -54.1,5.1 -56.4,6.1C-58.8,7.1 -60.6,9.9 -62.9,11C-65.2,12.1 -67.5,13 -70.2,12.7C-72.9,12.4 -76.3,9 -78.9,8.9C-81.5,8.8 -83.7,10.2 -85.8,12C-87.9,13.7 -89.4,18.1 -91.6,19.4C-93.9,20.8 -96.5,20.6 -99.2,20C-101.9,19.5 -105.3,16.4 -107.9,16.2C-110.5,16.1 -112.7,17.5 -114.8,19.3C-116.9,21.1 -118.4,25.4 -120.6,26.8C-122.9,28.1 -125.5,27.9 -128.2,27.4C-130.9,26.8 -135.4,24.2 -136.9,23.6 M-5,18 C-25,28 -40,22 -55,30 S-80,28 -100,40 M-25,-18 C-40,-27 -50,-21 -62,-28 S-80,-27 -92,-34" fill="none" stroke="#a57e77" stroke-width="1" stroke-linecap="round" opacity=".9"/><path d="M41.3,-18 q-0.6,-1.7 -2,-3.5 M28.8,18 q-1.2,2.1 -2.8,4.3 M17.9,18 q1.2,3.1 2.2,6.2 M3.3,18 q-0.2,2.9 -1.4,5.7 M-36.9,-18 q1.7,-2.4 2.4,-4.8 M-4,-18 q-1.1,-2.9 -2.9,-5.8 M-12.4,-18 q-0.6,-2.8 0.1,-5.6 M7.6,18 q0.9,3.5 2.4,7 M24.8,18 q1.4,2.4 -0.3,4.8 M41.2,18 q-0.2,3.3 0.2,6.6 M1.7,18 q1.3,2.8 -0.9,5.5 M35,18 q0.9,2.4 0.3,4.8 M-1.2,-18 q1.3,-3.9 2,-7.7 M34.5,18 q-0.1,3.4 -1.2,6.9" fill="none" stroke="#a57e77" stroke-width="0.8" stroke-linecap="round" opacity=".7"/><rect x="-50" y="-18" width="100" height="36" rx="18" fill="#e8c84f" stroke="#7b4a40" stroke-width="1.8"/><rect x="-46.3" y="-14.3" width="92.7" height="28.7" rx="14.3" fill="#fbe9a8"/><path d="M-30,0C-30,0.4 -29.8,1.7 -29.8,2.5C-29.9,3.3 -30,4.1 -30.3,4.8C-30.5,5.5 -30.8,6.1 -31.2,6.7C-31.5,7.2 -32,7.6 -32.4,7.8C-32.9,8.1 -33.4,8.2 -33.8,8.2C-34.2,8.1 -34.7,7.9 -35.1,7.6C-35.5,7.3 -35.8,6.7 -36.1,6.1C-36.4,5.5 -36.6,4.7 -36.7,3.9C-36.7,3.1 -36.7,2.2 -36.6,1.2C-36.5,0.3 -36.3,-0.7 -36,-1.6C-35.7,-2.6 -35.2,-3.5 -34.7,-4.3C-34.2,-5.2 -33.6,-5.9 -32.9,-6.5C-32.3,-7.1 -31.5,-7.6 -30.8,-7.9C-30,-8.2 -29.2,-8.3 -28.4,-8.3C-27.7,-8.3 -26.9,-8 -26.1,-7.6C-25.4,-7.2 -24.7,-6.7 -24.1,-6C-23.5,-5.3 -22.9,-4.4 -22.4,-3.5C-22,-2.5 -21.6,-1.5 -21.4,-0.4C-21.1,0.6 -21,1.7 -20.9,2.8C-20.9,3.8 -20.9,4.9 -21.1,5.8C-21.2,6.7 -21.5,7.6 -21.8,8.3C-22.1,8.9 -22.5,9.5 -22.9,9.9C-23.3,10.3 -23.8,10.5 -24.2,10.5C-24.7,10.5 -25.2,10.3 -25.6,10C-26,9.7 -26.4,9.2 -26.8,8.5C-27.1,7.9 -27.4,7.1 -27.5,6.2C-27.7,5.4 -27.8,4.4 -27.8,3.4C-27.8,2.5 -27.7,1.4 -27.4,0.5C-27.2,-0.5 -26.9,-1.5 -26.4,-2.3C-26,-3.2 -25.5,-4 -24.9,-4.6C-24.3,-5.2 -23.6,-5.8 -22.9,-6.1C-22.2,-6.5 -21.4,-6.7 -20.6,-6.7C-19.8,-6.8 -19,-6.6 -18.3,-6.4C-17.5,-6.1 -16.7,-5.7 -16.1,-5.1C-15.4,-4.6 -14.8,-3.9 -14.2,-3.2C-13.7,-2.5 -13.2,-1.6 -12.9,-0.8C-12.5,-0 -12.3,0.9 -12.1,1.7C-12,2.5 -11.9,3.3 -12,4.1C-12.1,4.8 -12.2,5.5 -12.5,6C-12.7,6.6 -13,7 -13.4,7.4C-13.8,7.7 -14.2,7.9 -14.7,8C-15.1,8 -15.6,8 -16.1,7.8C-16.5,7.6 -17,7.3 -17.3,6.9C-17.7,6.5 -18.1,6 -18.3,5.5C-18.6,5 -18.8,4.3 -18.8,3.7C-18.9,3 -18.9,2.4 -18.8,1.7C-18.6,1.1 -18.4,0.4 -18.1,-0.2C-17.7,-0.8 -17.3,-1.3 -16.7,-1.8C-16.2,-2.3 -15.6,-2.7 -14.9,-3C-14.3,-3.3 -13.5,-3.6 -12.8,-3.7C-12,-3.8 -11.2,-3.8 -10.4,-3.8C-9.6,-3.7 -8.8,-3.5 -8.1,-3.3C-7.4,-3 -6.7,-2.7 -6.1,-2.3C-5.5,-2 -4.9,-1.5 -4.5,-1C-4.1,-0.5 -3.7,-0 -3.5,0.5C-3.2,1 -3.1,1.6 -3.1,2.1C-3,2.6 -3.1,3.1 -3.3,3.5C-3.4,3.9 -3.7,4.3 -4,4.6C-4.3,4.9 -4.7,5.2 -5.1,5.4C-5.6,5.5 -6,5.6 -6.5,5.6C-7,5.6 -7.4,5.5 -7.9,5.3C-8.3,5.1 -8.7,4.9 -9,4.5C-9.3,4.2 -9.6,3.8 -9.7,3.3C-9.9,2.8 -10,2.3 -9.9,1.7C-9.9,1.2 -9.8,0.6 -9.5,-0C-9.3,-0.6 -8.9,-1.2 -8.5,-1.8C-8.1,-2.3 -7.5,-2.9 -6.9,-3.3C-6.3,-3.8 -5.6,-4.2 -4.9,-4.5C-4.2,-4.8 -3.4,-5 -2.6,-5.1C-1.8,-5.2 -1,-5.3 -0.2,-5.2C0.5,-5.1 1.3,-4.9 1.9,-4.6C2.6,-4.2 3.2,-3.8 3.7,-3.3C4.3,-2.8 4.7,-2.2 5.1,-1.6C5.4,-1 5.6,-0.3 5.8,0.4C5.9,1.1 5.9,1.9 5.8,2.5C5.8,3.2 5.6,3.9 5.3,4.5C5.1,5.1 4.7,5.6 4.3,6C4,6.4 3.5,6.7 3.1,6.9C2.6,7 2.1,7.1 1.7,7C1.2,6.9 0.8,6.6 0.4,6.2C0,5.8 -0.3,5.3 -0.5,4.6C-0.8,4 -0.9,3.2 -1,2.4C-1.1,1.6 -1,0.7 -0.9,-0.3C-0.7,-1.2 -0.5,-2.2 -0.1,-3.1C0.2,-4 0.7,-4.9 1.2,-5.7C1.8,-6.5 2.4,-7.2 3.1,-7.8C3.7,-8.4 4.5,-8.8 5.3,-9.1C6,-9.4 6.8,-9.5 7.6,-9.5C8.4,-9.4 9.2,-9.2 9.9,-8.8C10.6,-8.5 11.3,-7.9 11.9,-7.2C12.5,-6.6 13,-5.7 13.4,-4.8C13.9,-3.9 14.2,-2.9 14.4,-1.9C14.7,-0.9 14.8,0.2 14.8,1.2C14.8,2.1 14.7,3.2 14.5,4C14.4,4.9 14.1,5.7 13.8,6.3C13.4,6.9 13,7.5 12.6,7.8C12.2,8.1 11.7,8.2 11.2,8.2C10.8,8.1 10.3,7.9 9.9,7.5C9.5,7.1 9.1,6.5 8.8,5.8C8.5,5.1 8.2,4.3 8.1,3.4C7.9,2.4 7.9,1.4 7.9,0.4C8,-0.7 8.1,-1.8 8.4,-2.8C8.6,-3.8 9,-4.8 9.4,-5.7C9.9,-6.6 10.5,-7.4 11.1,-8.1C11.7,-8.7 12.4,-9.2 13.1,-9.6C13.9,-9.9 14.7,-10.1 15.4,-10.2C16.2,-10.2 17,-10 17.8,-9.7C18.5,-9.4 19.3,-8.9 19.9,-8.3C20.6,-7.7 21.2,-7 21.7,-6.2C22.2,-5.4 22.7,-4.5 23,-3.6C23.3,-2.7 23.5,-1.7 23.6,-0.9C23.7,0 23.7,0.9 23.7,1.7C23.6,2.4 23.4,3.2 23.1,3.7C22.8,4.3 22.5,4.8 22.1,5.1C21.7,5.4 21.2,5.6 20.8,5.7C20.4,5.7 19.9,5.6 19.4,5.4C19,5.2 18.5,4.8 18.2,4.4C17.8,3.9 17.5,3.3 17.3,2.7C17,2.1 16.9,1.4 16.8,0.7C16.8,0 17,-1.1 17,-1.4 M-36,-4 L-29,0 M28,-2 L40,-7" fill="none" stroke="#e3c23e" stroke-width="1.4" stroke-linecap="round"/><g fill="#7a6a7a" opacity=".7"><circle cx="24.3" cy="7.9" r="1"/><circle cx="5.9" cy="0.2" r="1"/><circle cx="10" cy="-2.2" r="1"/><circle cx="19" cy="-0.3" r="1"/><circle cx="-9.4" cy="4.4" r="1"/><circle cx="30.8" cy="6.8" r="1"/><circle cx="-11.4" cy="-11.8" r="1"/><circle cx="25.6" cy="11.9" r="1"/><circle cx="-29.7" cy="1.8" r="1"/><circle cx="-34.2" cy="2.2" r="1"/></g></g><g transform="translate(1466.7,1643.2) rotate(-103.7) scale(0.9)"><path d="M-50,-1C-51.2,-1.2 -54.9,-2.5 -57.3,-2.5C-59.8,-2.5 -62.2,-2.1 -64.7,-1.2C-67.1,-0.3 -69.6,3 -72,2.9C-74.5,2.9 -76.9,0.1 -79.3,-1.3C-81.8,-2.8 -84.2,-5.6 -86.6,-5.6C-89.1,-5.6 -91.5,-2.9 -94,-1.5C-96.5,-0.1 -98.9,2.6 -101.4,2.6C-103.8,2.6 -106.2,-0.2 -108.7,-1.7C-111.1,-3.1 -113.5,-5.9 -116,-5.9C-118.4,-6 -120.9,-3.2 -123.3,-1.8C-125.8,-0.5 -128.3,2.3 -130.7,2.3C-133.2,2.3 -136.8,-1.3 -138,-2 M-50,2C-51.4,1.9 -55.5,1.1 -58.1,1.5C-60.8,2 -63.3,3.8 -65.9,4.8C-68.5,5.9 -70.9,8.2 -73.7,7.9C-76.4,7.6 -79.4,4 -82.2,3C-85,2 -87.7,1.2 -90.3,2.1C-92.9,3 -95.3,7 -97.8,8.5C-100.4,10 -102.9,11.3 -105.7,10.9C-108.4,10.5 -111.4,7 -114.2,6C-117,5 -119.7,4.2 -122.3,5.1C-124.9,6 -127.3,10 -129.8,11.5C-132.4,13 -134.9,14.3 -137.7,13.9C-140.4,13.5 -144.8,9.8 -146.2,9 M-49,5C-50.2,5.2 -54.1,5.1 -56.4,6.1C-58.8,7.1 -60.6,9.9 -62.9,11C-65.2,12.1 -67.5,13 -70.2,12.7C-72.9,12.4 -76.3,9 -78.9,8.9C-81.5,8.8 -83.7,10.2 -85.8,12C-87.9,13.7 -89.4,18.1 -91.6,19.4C-93.9,20.8 -96.5,20.6 -99.2,20C-101.9,19.5 -105.3,16.4 -107.9,16.2C-110.5,16.1 -112.7,17.5 -114.8,19.3C-116.9,21.1 -118.4,25.4 -120.6,26.8C-122.9,28.1 -125.5,27.9 -128.2,27.4C-130.9,26.8 -135.4,24.2 -136.9,23.6 M-5,18.2 C-25,28.2 -40,22.2 -55,30.2 S-80,28.2 -100,40.2 M-25,-18.2 C-40,-27.2 -50,-21.2 -62,-28.2 S-80,-27.2 -92,-34.2" fill="none" stroke="#a57e77" stroke-width="1" stroke-linecap="round" opacity=".9"/><path d="M-19.8,-18.2 q0.4,-2.4 0.8,-4.8 M-34.4,-18.2 q-0.1,-3.8 0.3,-7.5 M-23.7,18.2 q0.2,2.9 -0.6,5.7 M33.2,-18.2 q1.5,-3.1 0.1,-6.2 M23,-18.2 q1.8,-1.9 -2.7,-3.8 M26.3,18.2 q0.9,2.7 2.3,5.4 M20.7,18.2 q1.2,2.5 -0.3,5 M39.5,18.2 q-1.5,1.7 -1.7,3.5 M42.1,18.2 q1.4,3.4 -0.5,6.9 M30.8,18.2 q-0.4,2.8 -1.6,5.7 M-11.4,-18.2 q2,-3.6 1,-7.3 M-26.1,18.2 q1.6,3.9 0.4,7.8 M20.7,-18.2 q2,-3.1 -1.4,-6.2 M-29.4,18.2 q2,3.6 -2.5,7.3" fill="none" stroke="#a57e77" stroke-width="0.8" stroke-linecap="round" opacity=".7"/><rect x="-50" y="-18.2" width="100" height="36.4" rx="18.2" fill="#7b97e6" stroke="#7b4a40" stroke-width="1.8"/><rect x="-46.3" y="-14.5" width="92.6" height="29" rx="14.5" fill="#cfd9f7"/><path d="M-30,0C-30,0.4 -29.8,1.7 -29.8,2.5C-29.9,3.3 -30,4.1 -30.3,4.8C-30.5,5.5 -30.8,6.2 -31.2,6.7C-31.5,7.2 -32,7.7 -32.4,7.9C-32.9,8.2 -33.4,8.3 -33.8,8.3C-34.2,8.2 -34.7,8 -35.1,7.7C-35.5,7.3 -35.8,6.8 -36.1,6.2C-36.4,5.6 -36.6,4.8 -36.7,4C-36.7,3.1 -36.7,2.2 -36.6,1.2C-36.5,0.3 -36.3,-0.7 -36,-1.7C-35.7,-2.6 -35.2,-3.6 -34.7,-4.4C-34.2,-5.2 -33.6,-6 -32.9,-6.6C-32.3,-7.2 -31.5,-7.7 -30.8,-8C-30,-8.3 -29.2,-8.5 -28.4,-8.4C-27.7,-8.4 -26.9,-8.1 -26.1,-7.7C-25.4,-7.3 -24.7,-6.7 -24.1,-6C-23.5,-5.3 -22.9,-4.5 -22.4,-3.5C-22,-2.6 -21.6,-1.5 -21.4,-0.5C-21.1,0.6 -21,1.7 -20.9,2.8C-20.9,3.8 -20.9,4.9 -21.1,5.8C-21.2,6.8 -21.5,7.6 -21.8,8.3C-22.1,9 -22.5,9.6 -22.9,10C-23.3,10.4 -23.8,10.6 -24.2,10.6C-24.7,10.6 -25.2,10.4 -25.6,10.1C-26,9.8 -26.4,9.2 -26.8,8.6C-27.1,8 -27.4,7.2 -27.5,6.3C-27.7,5.4 -27.8,4.4 -27.8,3.5C-27.8,2.5 -27.7,1.4 -27.4,0.4C-27.2,-0.5 -26.9,-1.5 -26.4,-2.4C-26,-3.2 -25.5,-4 -24.9,-4.7C-24.3,-5.3 -23.6,-5.9 -22.9,-6.2C-22.2,-6.6 -21.4,-6.8 -20.6,-6.8C-19.8,-6.9 -19,-6.7 -18.3,-6.5C-17.5,-6.2 -16.7,-5.7 -16.1,-5.2C-15.4,-4.7 -14.8,-4 -14.2,-3.3C-13.7,-2.5 -13.2,-1.7 -12.9,-0.9C-12.5,-0 -12.3,0.9 -12.1,1.7C-12,2.5 -11.9,3.4 -12,4.1C-12.1,4.8 -12.2,5.5 -12.5,6.1C-12.7,6.6 -13,7.1 -13.4,7.4C-13.8,7.8 -14.2,8 -14.7,8C-15.1,8.1 -15.6,8 -16.1,7.9C-16.5,7.7 -17,7.4 -17.3,7C-17.7,6.6 -18.1,6.1 -18.3,5.5C-18.6,5 -18.8,4.3 -18.8,3.7C-18.9,3.1 -18.9,2.4 -18.8,1.7C-18.6,1.1 -18.4,0.4 -18.1,-0.2C-17.7,-0.8 -17.3,-1.4 -16.7,-1.9C-16.2,-2.3 -15.6,-2.8 -14.9,-3.1C-14.3,-3.4 -13.5,-3.6 -12.8,-3.7C-12,-3.9 -11.2,-3.9 -10.4,-3.8C-9.6,-3.8 -8.8,-3.6 -8.1,-3.3C-7.4,-3.1 -6.7,-2.8 -6.1,-2.4C-5.5,-2 -4.9,-1.5 -4.5,-1C-4.1,-0.6 -3.7,-0 -3.5,0.5C-3.2,1 -3.1,1.6 -3.1,2.1C-3,2.6 -3.1,3.1 -3.3,3.5C-3.4,4 -3.7,4.4 -4,4.7C-4.3,5 -4.7,5.3 -5.1,5.4C-5.6,5.6 -6,5.7 -6.5,5.7C-7,5.7 -7.4,5.6 -7.9,5.4C-8.3,5.2 -8.7,4.9 -9,4.6C-9.3,4.2 -9.6,3.8 -9.7,3.3C-9.9,2.8 -10,2.3 -9.9,1.7C-9.9,1.2 -9.8,0.6 -9.5,-0C-9.3,-0.6 -8.9,-1.2 -8.5,-1.8C-8.1,-2.3 -7.5,-2.9 -6.9,-3.4C-6.3,-3.8 -5.6,-4.2 -4.9,-4.5C-4.2,-4.8 -3.4,-5.1 -2.6,-5.2C-1.8,-5.3 -1,-5.3 -0.2,-5.2C0.5,-5.1 1.3,-4.9 1.9,-4.6C2.6,-4.3 3.2,-3.9 3.7,-3.4C4.3,-2.9 4.7,-2.3 5.1,-1.6C5.4,-1 5.6,-0.3 5.8,0.4C5.9,1.1 5.9,1.9 5.8,2.6C5.8,3.3 5.6,3.9 5.3,4.5C5.1,5.1 4.7,5.7 4.3,6.1C4,6.5 3.5,6.8 3.1,7C2.6,7.1 2.1,7.2 1.7,7.1C1.2,6.9 0.8,6.7 0.4,6.3C0,5.9 -0.3,5.3 -0.5,4.7C-0.8,4.1 -0.9,3.3 -1,2.4C-1.1,1.6 -1,0.7 -0.9,-0.3C-0.7,-1.2 -0.5,-2.2 -0.1,-3.1C0.2,-4 0.7,-4.9 1.2,-5.7C1.8,-6.5 2.4,-7.3 3.1,-7.9C3.7,-8.4 4.5,-8.9 5.3,-9.2C6,-9.5 6.8,-9.6 7.6,-9.6C8.4,-9.6 9.2,-9.3 9.9,-8.9C10.6,-8.6 11.3,-8 11.9,-7.3C12.5,-6.6 13,-5.8 13.4,-4.9C13.9,-4 14.2,-2.9 14.4,-1.9C14.7,-0.9 14.8,0.2 14.8,1.2C14.8,2.2 14.7,3.2 14.5,4.1C14.4,4.9 14.1,5.8 13.8,6.4C13.4,7 13,7.6 12.6,7.9C12.2,8.2 11.7,8.3 11.2,8.3C10.8,8.2 10.3,8 9.9,7.6C9.5,7.2 9.1,6.6 8.8,5.9C8.5,5.2 8.2,4.3 8.1,3.4C7.9,2.5 7.9,1.4 7.9,0.4C8,-0.6 8.1,-1.8 8.4,-2.8C8.6,-3.8 9,-4.9 9.4,-5.7C9.9,-6.6 10.5,-7.5 11.1,-8.1C11.7,-8.8 12.4,-9.3 13.1,-9.7C13.9,-10 14.7,-10.2 15.4,-10.3C16.2,-10.3 17,-10.1 17.8,-9.8C18.5,-9.5 19.3,-9 19.9,-8.4C20.6,-7.8 21.2,-7 21.7,-6.2C22.2,-5.4 22.7,-4.5 23,-3.6C23.3,-2.7 23.5,-1.7 23.6,-0.9C23.7,0 23.7,0.9 23.7,1.7C23.6,2.5 23.4,3.2 23.1,3.8C22.8,4.4 22.5,4.9 22.1,5.2C21.7,5.5 21.2,5.7 20.8,5.8C20.4,5.8 19.9,5.7 19.4,5.5C19,5.3 18.5,4.9 18.2,4.4C17.8,4 17.5,3.4 17.3,2.8C17,2.2 16.9,1.4 16.8,0.7C16.8,0 17,-1.1 17,-1.4 M-36,-4 L-29,0 M28,-2 L40,-7" fill="none" stroke="#6a8fd8" stroke-width="1.4" stroke-linecap="round"/><g fill="#7a6a7a" opacity=".7"><circle cx="24.4" cy="-2.2" r="1"/><circle cx="-26.2" cy="-5" r="1"/><circle cx="22" cy="9.1" r="1"/><circle cx="-34.6" cy="2.8" r="1"/><circle cx="-34.5" cy="5.3" r="1"/><circle cx="-12.2" cy="9.3" r="1"/><circle cx="38.5" cy="0.1" r="1"/><circle cx="39.9" cy="-4.6" r="1"/><circle cx="-32" cy="2.4" r="1"/><circle cx="-35.6" cy="-7.4" r="1"/></g></g><g transform="translate(937.3,1836.6) rotate(-19.4) scale(0.9)"><path d="M-50,-1C-51.2,-1.2 -54.9,-2.5 -57.3,-2.5C-59.8,-2.5 -62.2,-2.1 -64.7,-1.2C-67.1,-0.3 -69.6,3 -72,2.9C-74.5,2.9 -76.9,0.1 -79.3,-1.3C-81.8,-2.8 -84.2,-5.6 -86.6,-5.6C-89.1,-5.6 -91.5,-2.9 -94,-1.5C-96.5,-0.1 -98.9,2.6 -101.4,2.6C-103.8,2.6 -106.2,-0.2 -108.7,-1.7C-111.1,-3.1 -113.5,-5.9 -116,-5.9C-118.4,-6 -120.9,-3.2 -123.3,-1.8C-125.8,-0.5 -128.3,2.3 -130.7,2.3C-133.2,2.3 -136.8,-1.3 -138,-2 M-50,2C-51.4,1.9 -55.5,1.1 -58.1,1.5C-60.8,2 -63.3,3.8 -65.9,4.8C-68.5,5.9 -70.9,8.2 -73.7,7.9C-76.4,7.6 -79.4,4 -82.2,3C-85,2 -87.7,1.2 -90.3,2.1C-92.9,3 -95.3,7 -97.8,8.5C-100.4,10 -102.9,11.3 -105.7,10.9C-108.4,10.5 -111.4,7 -114.2,6C-117,5 -119.7,4.2 -122.3,5.1C-124.9,6 -127.3,10 -129.8,11.5C-132.4,13 -134.9,14.3 -137.7,13.9C-140.4,13.5 -144.8,9.8 -146.2,9 M-49,5C-50.2,5.2 -54.1,5.1 -56.4,6.1C-58.8,7.1 -60.6,9.9 -62.9,11C-65.2,12.1 -67.5,13 -70.2,12.7C-72.9,12.4 -76.3,9 -78.9,8.9C-81.5,8.8 -83.7,10.2 -85.8,12C-87.9,13.7 -89.4,18.1 -91.6,19.4C-93.9,20.8 -96.5,20.6 -99.2,20C-101.9,19.5 -105.3,16.4 -107.9,16.2C-110.5,16.1 -112.7,17.5 -114.8,19.3C-116.9,21.1 -118.4,25.4 -120.6,26.8C-122.9,28.1 -125.5,27.9 -128.2,27.4C-130.9,26.8 -135.4,24.2 -136.9,23.6 M-5,18.1 C-25,28.1 -40,22.1 -55,30.1 S-80,28.1 -100,40.1 M-25,-18.1 C-40,-27.1 -50,-21.1 -62,-28.1 S-80,-27.1 -92,-34.1" fill="none" stroke="#5b4691" stroke-width="1" stroke-linecap="round" opacity=".9"/><path d="M-19.9,-18.1 q-0.1,-3.3 -2.5,-6.6 M-38.3,18.1 q1.1,3.5 -1.7,7 M5.6,18.1 q1.3,3.4 -1.4,6.9 M40.2,-18.1 q1.2,-3.6 1.8,-7.1 M-23.6,18.1 q1.5,2.2 2.8,4.4 M32.1,18.1 q0.4,1.7 1,3.4 M3,-18.1 q-0.9,-2.1 2.7,-4.2 M29.5,18.1 q-0.8,1.5 1.2,3 M-13.5,-18.1 q0.4,-2.5 -0.4,-5.1 M-26.3,18.1 q1.2,2.1 -2.5,4.3 M-0.7,18.1 q0.6,2.8 1.2,5.6 M-27.7,-18.1 q1.7,-1.7 0.8,-3.3 M-2.5,-18.1 q1,-2.4 -1.1,-4.8 M7.5,18.1 q-1.8,1.8 -1.6,3.5" fill="none" stroke="#5b4691" stroke-width="0.8" stroke-linecap="round" opacity=".7"/><rect x="-50" y="-18.1" width="100" height="36.3" rx="18.1" fill="#bfa7d6" stroke="#5b4691" stroke-width="1.8"/><rect x="-46.5" y="-14.6" width="93" height="29.2" rx="14.6" fill="#dccde8"/><path d="M-30,0C-30,0.4 -29.8,1.7 -29.8,2.5C-29.9,3.3 -30,4.1 -30.3,4.8C-30.5,5.5 -30.8,6.2 -31.2,6.7C-31.5,7.2 -32,7.6 -32.4,7.9C-32.9,8.2 -33.4,8.3 -33.8,8.2C-34.2,8.2 -34.7,8 -35.1,7.7C-35.5,7.3 -35.8,6.8 -36.1,6.2C-36.4,5.6 -36.6,4.8 -36.7,3.9C-36.7,3.1 -36.7,2.2 -36.6,1.2C-36.5,0.3 -36.3,-0.7 -36,-1.7C-35.7,-2.6 -35.2,-3.6 -34.7,-4.4C-34.2,-5.2 -33.6,-6 -32.9,-6.6C-32.3,-7.2 -31.5,-7.7 -30.8,-8C-30,-8.3 -29.2,-8.4 -28.4,-8.4C-27.7,-8.3 -26.9,-8.1 -26.1,-7.7C-25.4,-7.3 -24.7,-6.7 -24.1,-6C-23.5,-5.3 -22.9,-4.4 -22.4,-3.5C-22,-2.6 -21.6,-1.5 -21.4,-0.5C-21.1,0.6 -21,1.7 -20.9,2.8C-20.9,3.8 -20.9,4.9 -21.1,5.8C-21.2,6.7 -21.5,7.6 -21.8,8.3C-22.1,9 -22.5,9.6 -22.9,9.9C-23.3,10.3 -23.8,10.5 -24.2,10.6C-24.7,10.6 -25.2,10.4 -25.6,10.1C-26,9.7 -26.4,9.2 -26.8,8.6C-27.1,7.9 -27.4,7.1 -27.5,6.3C-27.7,5.4 -27.8,4.4 -27.8,3.5C-27.8,2.5 -27.7,1.4 -27.4,0.5C-27.2,-0.5 -26.9,-1.5 -26.4,-2.4C-26,-3.2 -25.5,-4 -24.9,-4.7C-24.3,-5.3 -23.6,-5.8 -22.9,-6.2C-22.2,-6.5 -21.4,-6.7 -20.6,-6.8C-19.8,-6.8 -19,-6.7 -18.3,-6.4C-17.5,-6.2 -16.7,-5.7 -16.1,-5.2C-15.4,-4.7 -14.8,-4 -14.2,-3.2C-13.7,-2.5 -13.2,-1.7 -12.9,-0.8C-12.5,-0 -12.3,0.9 -12.1,1.7C-12,2.5 -11.9,3.4 -12,4.1C-12.1,4.8 -12.2,5.5 -12.5,6.1C-12.7,6.6 -13,7.1 -13.4,7.4C-13.8,7.7 -14.2,7.9 -14.7,8C-15.1,8.1 -15.6,8 -16.1,7.8C-16.5,7.7 -17,7.4 -17.3,7C-17.7,6.6 -18.1,6.1 -18.3,5.5C-18.6,5 -18.8,4.3 -18.8,3.7C-18.9,3.1 -18.9,2.4 -18.8,1.7C-18.6,1.1 -18.4,0.4 -18.1,-0.2C-17.7,-0.8 -17.3,-1.4 -16.7,-1.8C-16.2,-2.3 -15.6,-2.7 -14.9,-3.1C-14.3,-3.4 -13.5,-3.6 -12.8,-3.7C-12,-3.8 -11.2,-3.9 -10.4,-3.8C-9.6,-3.7 -8.8,-3.6 -8.1,-3.3C-7.4,-3.1 -6.7,-2.7 -6.1,-2.4C-5.5,-2 -4.9,-1.5 -4.5,-1C-4.1,-0.6 -3.7,-0 -3.5,0.5C-3.2,1 -3.1,1.6 -3.1,2.1C-3,2.6 -3.1,3.1 -3.3,3.5C-3.4,3.9 -3.7,4.3 -4,4.7C-4.3,5 -4.7,5.2 -5.1,5.4C-5.6,5.6 -6,5.6 -6.5,5.6C-7,5.6 -7.4,5.5 -7.9,5.4C-8.3,5.2 -8.7,4.9 -9,4.6C-9.3,4.2 -9.6,3.8 -9.7,3.3C-9.9,2.8 -10,2.3 -9.9,1.7C-9.9,1.2 -9.8,0.6 -9.5,-0C-9.3,-0.6 -8.9,-1.2 -8.5,-1.8C-8.1,-2.3 -7.5,-2.9 -6.9,-3.3C-6.3,-3.8 -5.6,-4.2 -4.9,-4.5C-4.2,-4.8 -3.4,-5.1 -2.6,-5.2C-1.8,-5.3 -1,-5.3 -0.2,-5.2C0.5,-5.1 1.3,-4.9 1.9,-4.6C2.6,-4.3 3.2,-3.8 3.7,-3.4C4.3,-2.9 4.7,-2.3 5.1,-1.6C5.4,-1 5.6,-0.3 5.8,0.4C5.9,1.1 5.9,1.9 5.8,2.6C5.8,3.2 5.6,3.9 5.3,4.5C5.1,5.1 4.7,5.6 4.3,6C4,6.4 3.5,6.8 3.1,6.9C2.6,7.1 2.1,7.1 1.7,7C1.2,6.9 0.8,6.7 0.4,6.3C0,5.9 -0.3,5.3 -0.5,4.7C-0.8,4 -0.9,3.3 -1,2.4C-1.1,1.6 -1,0.7 -0.9,-0.3C-0.7,-1.2 -0.5,-2.2 -0.1,-3.1C0.2,-4 0.7,-4.9 1.2,-5.7C1.8,-6.5 2.4,-7.3 3.1,-7.8C3.7,-8.4 4.5,-8.9 5.3,-9.2C6,-9.5 6.8,-9.6 7.6,-9.6C8.4,-9.5 9.2,-9.3 9.9,-8.9C10.6,-8.5 11.3,-8 11.9,-7.3C12.5,-6.6 13,-5.8 13.4,-4.9C13.9,-4 14.2,-2.9 14.4,-1.9C14.7,-0.9 14.8,0.2 14.8,1.2C14.8,2.2 14.7,3.2 14.5,4.1C14.4,4.9 14.1,5.7 13.8,6.4C13.4,7 13,7.5 12.6,7.8C12.2,8.1 11.7,8.3 11.2,8.2C10.8,8.2 10.3,8 9.9,7.6C9.5,7.2 9.1,6.6 8.8,5.9C8.5,5.2 8.2,4.3 8.1,3.4C7.9,2.5 7.9,1.4 7.9,0.4C8,-0.6 8.1,-1.8 8.4,-2.8C8.6,-3.8 9,-4.8 9.4,-5.7C9.9,-6.6 10.5,-7.5 11.1,-8.1C11.7,-8.8 12.4,-9.3 13.1,-9.7C13.9,-10 14.7,-10.2 15.4,-10.2C16.2,-10.2 17,-10.1 17.8,-9.8C18.5,-9.4 19.3,-8.9 19.9,-8.4C20.6,-7.8 21.2,-7 21.7,-6.2C22.2,-5.4 22.7,-4.5 23,-3.6C23.3,-2.7 23.5,-1.7 23.6,-0.9C23.7,0 23.7,0.9 23.7,1.7C23.6,2.5 23.4,3.2 23.1,3.8C22.8,4.4 22.5,4.8 22.1,5.2C21.7,5.5 21.2,5.7 20.8,5.7C20.4,5.8 19.9,5.7 19.4,5.5C19,5.2 18.5,4.9 18.2,4.4C17.8,4 17.5,3.4 17.3,2.8C17,2.1 16.9,1.4 16.8,0.7C16.8,0 17,-1.1 17,-1.4 M-36,-4 L-29,0 M28,-2 L40,-7" fill="none" stroke="#cdbade" stroke-width="1.3" stroke-linecap="round"/><g fill="#7a6a7a" opacity=".7"><circle cx="21.7" cy="2.8" r="1"/><circle cx="-19.5" cy="-4.1" r="1"/><circle cx="-24.2" cy="-1" r="1"/><circle cx="-34.7" cy="4.8" r="1"/><circle cx="31.9" cy="11" r="1"/><circle cx="19.3" cy="11.2" r="1"/><circle cx="-36.6" cy="-5.1" r="1"/><circle cx="37.3" cy="6.7" r="1"/><circle cx="-6" cy="10.8" r="1"/><circle cx="10.4" cy="7.7" r="1"/></g></g>
<path d="M1737,484.3 C1775,486 1801,530 1801,601 L1801,1127 C1801,1160 1815,1172 1833,1178 L1861.4,1191.3 L1833,1204.6 C1815,1210.6 1801,1222.6 1801,1255.6 L1801,1781.6 C1801,1852.6 1775,1896.6 1737,1898.3 L1737,1885 C1770,1882 1793.4,1843 1793.4,1781.6 L1793.4,1255.6 C1793.4,1222 1803,1204 1827.4,1191.3 C1803,1178.6 1793.4,1160.6 1793.4,1127 L1793.4,601 C1793.4,540 1770,500.6 1737,497.6 Z" fill="#3d3d3f"/>
<g fill="#efcfcf" stroke="#d58d8e" stroke-width="1.3"><path d="M2072.8,433.1Q2061.8,433.1 2063.3,423.1C2067.5,409.9 2088.9,401.8 2122.1,401.8C2153.7,401.8 2175.1,409.9 2179.3,423.1Q2180.8,433.1 2169.8,433.1Z M2191.4,433.1Q2180.4,433.1 2181.9,423.1C2186.2,409.9 2207.5,401.8 2240.7,401.8C2272.4,401.8 2293.7,409.9 2297.9,423.1Q2299.4,433.1 2288.4,433.1Z M2310.1,433.1Q2299.1,433.1 2300.6,423.1C2304.8,409.9 2326.1,401.8 2359.4,401.8C2391,401.8 2412.3,409.9 2416.6,423.1Q2418.1,433.1 2407.1,433.1Z M2428.7,433.1Q2417.7,433.1 2419.2,423.1C2423.4,409.9 2444.8,401.8 2478,401.8C2509.6,401.8 2531,409.9 2535.2,423.1Q2536.7,433.1 2525.7,433.1Z M2547.3,433.1Q2536.3,433.1 2537.8,423.1C2542,409.9 2563.4,401.8 2596.6,401.8C2628.2,401.8 2649.6,409.9 2653.8,423.1Q2655.3,433.1 2644.3,433.1Z M2665.9,433.1Q2654.9,433.1 2656.4,423.1C2660.7,409.9 2682,401.8 2715.2,401.8C2746.9,401.8 2768.2,409.9 2772.4,423.1Q2773.9,433.1 2762.9,433.1Z M2784.6,433.1Q2773.6,433.1 2775.1,423.1C2779.3,409.9 2800.6,401.8 2833.9,401.8C2865.5,401.8 2886.8,409.9 2891.1,423.1Q2892.6,433.1 2881.6,433.1Z M2903.2,433.1Q2892.2,433.1 2893.7,423.1C2897.9,409.9 2919.3,401.8 2952.5,401.8C2984.1,401.8 3005.5,409.9 3009.7,423.1Q3011.2,433.1 3000.2,433.1Z M2071.1,455.5Q2060.3,455.5 2061.8,445.7C2066.7,440.1 2074.9,434.7 2096.6,434.7L2161.9,434.7C2182,434.7 2190.2,440.1 2195.1,445.7Q2196.6,455.5 2185.8,455.5Z M2207,455.5Q2196.2,455.5 2197.7,445.7C2202.7,440.1 2210.8,434.7 2232.6,434.7L2297.8,434.7C2318,434.7 2326.1,440.1 2331.1,445.7Q2332.6,455.5 2321.7,455.5Z M2343,455.5Q2332.2,455.5 2333.7,445.7C2338.6,440.1 2346.8,434.7 2368.5,434.7L2433.7,434.7C2453.9,434.7 2462,440.1 2467,445.7Q2468.5,455.5 2457.7,455.5Z M2478.9,455.5Q2468.1,455.5 2469.6,445.7C2474.5,440.1 2482.7,434.7 2504.4,434.7L2569.7,434.7C2589.8,434.7 2598,440.1 2602.9,445.7Q2604.4,455.5 2593.6,455.5Z M2614.8,455.5Q2604,455.5 2605.5,445.7C2610.5,440.1 2618.6,434.7 2640.4,434.7L2705.6,434.7C2725.8,434.7 2733.9,440.1 2738.8,445.7Q2740.3,455.5 2729.5,455.5Z M2750.8,455.5Q2739.9,455.5 2741.4,445.7C2746.4,440.1 2754.5,434.7 2776.3,434.7L2841.5,434.7C2861.7,434.7 2869.8,440.1 2874.8,445.7Q2876.3,455.5 2865.5,455.5Z M2886.7,455.5Q2875.9,455.5 2877.4,445.7C2882.3,440.1 2890.5,434.7 2912.2,434.7L2977.5,434.7C2997.6,434.7 3005.8,440.1 3010.7,445.7Q3012.2,455.5 3001.4,455.5Z M2068.8,457.3Q2106.7,455.9 2144.5,457.3C2149.5,457.3 2154,461.9 2154,466.8Q2155.2,476.1 2154,485.4C2154,490.3 2149.5,494.8 2144.5,494.8Q2106.7,496.2 2068.8,494.8C2063.9,494.8 2059.5,490.3 2059.5,485.4Q2058.3,476.1 2059.5,466.8C2059.5,461.9 2063.9,457.3 2068.8,457.3Z M2164.2,457.8Q2202,456.4 2239.9,457.8C2244.8,457.8 2248.8,461.9 2248.8,466.8Q2250,476.1 2248.8,485.4C2248.8,490.3 2244.8,494.6 2239.9,494.6Q2202,496 2164.2,494.6C2159.2,494.6 2155.6,490.3 2155.6,485.4Q2154.4,476.1 2155.6,466.8C2155.6,461.9 2159.2,457.8 2164.2,457.8Z M2259.5,457.2Q2297.4,455.8 2335.2,457.2C2340.2,457.2 2343.6,461.9 2343.6,466.8Q2344.8,476.1 2343.6,485.4C2343.6,490.3 2340.2,494.9 2335.2,494.9Q2297.4,496.3 2259.5,494.9C2254.6,494.9 2250.4,490.3 2250.4,485.4Q2249.2,476.1 2250.4,466.8C2250.4,461.9 2254.6,457.2 2259.5,457.2Z M2354.9,458.2Q2392.7,456.8 2430.6,458.2C2435.5,458.2 2438.9,461.9 2438.9,466.8Q2440.1,476.1 2438.9,485.4C2438.9,490.3 2435.5,494.3 2430.6,494.3Q2392.7,495.7 2354.9,494.3C2349.9,494.3 2346.2,490.3 2346.2,485.4Q2345,476.1 2346.2,466.8C2346.2,461.9 2349.9,458.2 2354.9,458.2Z M2450.2,457.4Q2488.1,456 2525.9,457.4C2530.9,457.4 2535.6,461.9 2535.6,466.8Q2536.8,476.1 2535.6,485.4C2535.6,490.3 2530.9,495 2525.9,495Q2488.1,496.4 2450.2,495C2445.3,495 2440.5,490.3 2440.5,485.4Q2439.3,476.1 2440.5,466.8C2440.5,461.9 2445.3,457.4 2450.2,457.4Z M2545.6,457.1Q2583.4,455.7 2621.3,457.1C2626.2,457.1 2630.4,461.9 2630.4,466.8Q2631.6,476.1 2630.4,485.4C2630.4,490.3 2626.2,495 2621.3,495Q2583.4,496.4 2545.6,495C2540.6,495 2536.4,490.3 2536.4,485.4Q2535.2,476.1 2536.4,466.8C2536.4,461.9 2540.6,457.1 2545.6,457.1Z M2640.9,457.4Q2678.8,456 2716.6,457.4C2721.6,457.4 2725.5,461.9 2725.5,466.8Q2726.7,476.1 2725.5,485.4C2725.5,490.3 2721.6,493.7 2716.6,493.7Q2678.8,495.1 2640.9,493.7C2636,493.7 2631.5,490.3 2631.5,485.4Q2630.3,476.1 2631.5,466.8C2631.5,461.9 2636,457.4 2640.9,457.4Z M2736.2,457.7Q2774.1,456.3 2812,457.7C2816.9,457.7 2821,461.9 2821,466.8Q2822.2,476.1 2821,485.4C2821,490.3 2816.9,494 2812,494Q2774.1,495.4 2736.2,494C2731.3,494 2726.9,490.3 2726.9,485.4Q2725.7,476.1 2726.9,466.8C2726.9,461.9 2731.3,457.7 2736.2,457.7Z M2831.6,457.4Q2869.5,456 2907.3,457.4C2912.3,457.4 2916.3,461.9 2916.3,466.8Q2917.5,476.1 2916.3,485.4C2916.3,490.3 2912.3,494.1 2907.3,494.1Q2869.5,495.5 2831.6,494.1C2826.7,494.1 2821.9,490.3 2821.9,485.4Q2820.7,476.1 2821.9,466.8C2821.9,461.9 2826.7,457.4 2831.6,457.4Z M2927,458.3Q2964.8,456.9 3002.7,458.3C3007.6,458.3 3011.8,461.9 3011.8,466.8Q3013,476.1 3011.8,485.4C3011.8,490.3 3007.6,494.6 3002.7,494.6Q2964.8,496 2927,494.6C2922,494.6 2917.5,490.3 2917.5,485.4Q2916.3,476.1 2917.5,466.8C2917.5,461.9 2922,458.3 2927,458.3Z M2069.8,496.8Q2107.7,495.4 2145.5,496.8C2150.4,496.8 2155,500.2 2155,505.1Q2156.2,521.1 2155,537.2C2155,542.1 2150.4,545.7 2145.5,545.7Q2107.7,547.1 2069.8,545.7C2064.9,545.7 2060.6,542.1 2060.6,537.2Q2059.4,521.1 2060.6,505.1C2060.6,500.2 2064.9,496.8 2069.8,496.8Z M2165.1,496.4Q2203,495 2240.8,496.4C2245.8,496.4 2250.1,500.2 2250.1,505.1Q2251.3,521.1 2250.1,537.2C2250.1,542.1 2245.8,546.8 2240.8,546.8Q2203,548.2 2165.1,546.8C2160.2,546.8 2156,542.1 2156,537.2Q2154.8,521.1 2156,505.1C2156,500.2 2160.2,496.4 2165.1,496.4Z M2260.4,496.6Q2298.2,495.2 2336.1,496.6C2341,496.6 2345.3,500.2 2345.3,505.1Q2346.5,521.1 2345.3,537.2C2345.3,542.1 2341,545.9 2336.1,545.9Q2298.2,547.3 2260.4,545.9C2255.5,545.9 2251.5,542.1 2251.5,537.2Q2250.3,521.1 2251.5,505.1C2251.5,500.2 2255.5,496.6 2260.4,496.6Z M2355.7,496.6Q2393.6,495.2 2431.4,496.6C2436.3,496.6 2440.9,500.2 2440.9,505.1Q2442.1,521.1 2440.9,537.2C2440.9,542.1 2436.3,546.2 2431.4,546.2Q2393.6,547.6 2355.7,546.2C2350.8,546.2 2346.8,542.1 2346.8,537.2Q2345.6,521.1 2346.8,505.1C2346.8,500.2 2350.8,496.6 2355.7,496.6Z M2451,495.4Q2488.8,494 2526.7,495.4C2531.6,495.4 2535.3,500.2 2535.3,505.1Q2536.5,521.1 2535.3,537.2C2535.3,542.1 2531.6,546.6 2526.7,546.6Q2488.8,548 2451,546.6C2446.1,546.6 2441.9,542.1 2441.9,537.2Q2440.7,521.1 2441.9,505.1C2441.9,500.2 2446.1,495.4 2451,495.4Z M2546.3,495.6Q2584.2,494.2 2622,495.6C2626.9,495.6 2631.1,500.2 2631.1,505.1Q2632.3,521.1 2631.1,537.2C2631.1,542.1 2626.9,546.5 2622,546.5Q2584.2,547.9 2546.3,546.5C2541.4,546.5 2537.5,542.1 2537.5,537.2Q2536.3,521.1 2537.5,505.1C2537.5,500.2 2541.4,495.6 2546.3,495.6Z M2641.6,495.9Q2679.5,494.5 2717.3,495.9C2722.2,495.9 2726.2,500.2 2726.2,505.1Q2727.4,521.1 2726.2,537.2C2726.2,542.1 2722.2,546.2 2717.3,546.2Q2679.5,547.6 2641.6,546.2C2636.7,546.2 2633,542.1 2633,537.2Q2631.8,521.1 2633,505.1C2633,500.2 2636.7,495.9 2641.6,495.9Z M2736.9,496.1Q2774.8,494.7 2812.6,496.1C2817.5,496.1 2821.5,500.2 2821.5,505.1Q2822.7,521.1 2821.5,537.2C2821.5,542.1 2817.5,546.2 2812.6,546.2Q2774.8,547.6 2736.9,546.2C2732,546.2 2727.2,542.1 2727.2,537.2Q2726,521.1 2727.2,505.1C2727.2,500.2 2732,496.1 2736.9,496.1Z M2832.2,495.5Q2870.1,494.1 2907.9,495.5C2912.8,495.5 2917.2,500.2 2917.2,505.1Q2918.4,521.1 2917.2,537.2C2917.2,542.1 2912.8,546.9 2907.9,546.9Q2870.1,548.3 2832.2,546.9C2827.3,546.9 2823.3,542.1 2823.3,537.2Q2822.1,521.1 2823.3,505.1C2823.3,500.2 2827.3,495.5 2832.2,495.5Z M2927.5,496Q2965.3,494.6 3003.2,496C3008.1,496 3011.7,500.2 3011.7,505.1Q3012.9,521.1 3011.7,537.2C3011.7,542.1 3008.1,546.2 3003.2,546.2Q2965.3,547.6 2927.5,546.2C2922.6,546.2 2919.2,542.1 2919.2,537.2Q2918,521.1 2919.2,505.1C2919.2,500.2 2922.6,496 2927.5,496Z M2074.8,547Q2104.5,545.6 2134.1,547C2139.1,547 2143.2,550.6 2143.2,555.6Q2144.4,567.8 2143.2,580C2143.2,585 2139.1,589.5 2134.1,589.5Q2104.5,590.9 2074.8,589.5C2069.9,589.5 2065.4,585 2065.4,580Q2064.2,567.8 2065.4,555.6C2065.4,550.6 2069.9,547 2074.8,547Z M2153.7,546.6Q2183.4,545.2 2213,546.6C2218,546.6 2222.7,550.6 2222.7,555.6Q2223.9,567.8 2222.7,580C2222.7,585 2218,589.1 2213,589.1Q2183.4,590.5 2153.7,589.1C2148.8,589.1 2144.7,585 2144.7,580Q2143.5,567.8 2144.7,555.6C2144.7,550.6 2148.8,546.6 2153.7,546.6Z M2232.6,546.3Q2262.3,544.9 2291.9,546.3C2296.9,546.3 2301,550.6 2301,555.6Q2302.2,567.8 2301,580C2301,585 2296.9,589.6 2291.9,589.6Q2262.3,591 2232.6,589.6C2227.7,589.6 2222.9,585 2222.9,580Q2221.7,567.8 2222.9,555.6C2222.9,550.6 2227.7,546.3 2232.6,546.3Z M2311.6,547Q2341.2,545.6 2370.9,547C2375.8,547 2380.3,550.6 2380.3,555.6Q2381.5,567.8 2380.3,580C2380.3,585 2375.8,589.5 2370.9,589.5Q2341.2,590.9 2311.6,589.5C2306.6,589.5 2302.9,585 2302.9,580Q2301.7,567.8 2302.9,555.6C2302.9,550.6 2306.6,547 2311.6,547Z M2390.5,547Q2420.1,545.6 2449.8,547C2454.7,547 2458.8,550.6 2458.8,555.6Q2460,567.8 2458.8,580C2458.8,585 2454.7,589.1 2449.8,589.1Q2420.1,590.5 2390.5,589.1C2385.5,589.1 2381.4,585 2381.4,580Q2380.2,567.8 2381.4,555.6C2381.4,550.6 2385.5,547 2390.5,547Z M2469.4,546Q2499,544.6 2528.7,546C2533.6,546 2538.2,550.6 2538.2,555.6Q2539.4,567.8 2538.2,580C2538.2,585 2533.6,589.1 2528.7,589.1Q2499,590.5 2469.4,589.1C2464.4,589.1 2460,585 2460,580Q2458.8,567.8 2460,555.6C2460,550.6 2464.4,546 2469.4,546Z M2548.3,546.6Q2578,545.2 2607.6,546.6C2612.6,546.6 2616.6,550.6 2616.6,555.6Q2617.8,567.8 2616.6,580C2616.6,585 2612.6,588.8 2607.6,588.8Q2578,590.2 2548.3,588.8C2543.4,588.8 2539.1,585 2539.1,580Q2537.9,567.8 2539.1,555.6C2539.1,550.6 2543.4,546.6 2548.3,546.6Z M2627.2,546.7Q2656.9,545.3 2686.5,546.7C2691.5,546.7 2695.7,550.6 2695.7,555.6Q2696.9,567.8 2695.7,580C2695.7,585 2691.5,589.2 2686.5,589.2Q2656.9,590.6 2627.2,589.2C2622.3,589.2 2618.2,585 2618.2,580Q2617,567.8 2618.2,555.6C2618.2,550.6 2622.3,546.7 2627.2,546.7Z M2706.1,545.9Q2735.8,544.5 2765.4,545.9C2770.4,545.9 2774.1,550.6 2774.1,555.6Q2775.3,567.8 2774.1,580C2774.1,585 2770.4,588.5 2765.4,588.5Q2735.8,589.9 2706.1,588.5C2701.2,588.5 2697.3,585 2697.3,580Q2696.1,567.8 2697.3,555.6C2697.3,550.6 2701.2,545.9 2706.1,545.9Z M2785.1,547.1Q2814.7,545.7 2844.4,547.1C2849.3,547.1 2853.8,550.6 2853.8,555.6Q2855,567.8 2853.8,580C2853.8,585 2849.3,589.4 2844.4,589.4Q2814.7,590.8 2785.1,589.4C2780.1,589.4 2776.5,585 2776.5,580Q2775.3,567.8 2776.5,555.6C2776.5,550.6 2780.1,547.1 2785.1,547.1Z M2864,546.3Q2893.6,544.9 2923.3,546.3C2928.2,546.3 2932.8,550.6 2932.8,555.6Q2934,567.8 2932.8,580C2932.8,585 2928.2,589.2 2923.3,589.2Q2893.6,590.6 2864,589.2C2859,589.2 2854.4,585 2854.4,580Q2853.2,567.8 2854.4,555.6C2854.4,550.6 2859,546.3 2864,546.3Z M2942.9,545.9Q2972.5,544.5 3002.2,545.9C3007.1,545.9 3010.5,550.6 3010.5,555.6Q3011.7,567.8 3010.5,580C3010.5,585 3007.1,589.4 3002.2,589.4Q2972.5,590.8 2942.9,589.4C2937.9,589.4 2933.5,585 2933.5,580Q2932.3,567.8 2933.5,555.6C2933.5,550.6 2937.9,545.9 2942.9,545.9Z"/></g><g fill="#d39a98"><ellipse cx="2122.3" cy="424" rx="20" ry="7.5"/><ellipse cx="2240.9" cy="424" rx="20" ry="7.5"/><ellipse cx="2359.6" cy="424" rx="20" ry="7.5"/><ellipse cx="2478.2" cy="424" rx="20" ry="7.5"/><ellipse cx="2596.8" cy="424" rx="20" ry="7.5"/><ellipse cx="2715.4" cy="424" rx="20" ry="7.5"/><ellipse cx="2834.1" cy="424" rx="20" ry="7.5"/><ellipse cx="2952.7" cy="424" rx="20" ry="7.5"/><ellipse cx="2128.5" cy="444.5" rx="20" ry="6.3"/><ellipse cx="2264.4" cy="444.5" rx="20" ry="6.3"/><ellipse cx="2400.3" cy="444.5" rx="20" ry="6.3"/><ellipse cx="2536.2" cy="444.5" rx="20" ry="6.3"/><ellipse cx="2672.2" cy="444.5" rx="20" ry="6.3"/><ellipse cx="2808.1" cy="444.5" rx="20" ry="6.3"/><ellipse cx="2944" cy="444.5" rx="20" ry="6.3"/><ellipse cx="2106.7" cy="475.8" rx="20" ry="8"/><ellipse cx="2202" cy="475.8" rx="20" ry="8"/><ellipse cx="2297.4" cy="475.8" rx="20" ry="8"/><ellipse cx="2392.7" cy="475.8" rx="20" ry="8"/><ellipse cx="2488.1" cy="475.8" rx="20" ry="8"/><ellipse cx="2583.4" cy="475.8" rx="20" ry="8"/><ellipse cx="2678.8" cy="475.8" rx="20" ry="8"/><ellipse cx="2774.1" cy="475.8" rx="20" ry="8"/><ellipse cx="2869.5" cy="475.8" rx="20" ry="8"/><ellipse cx="2964.8" cy="475.8" rx="20" ry="8"/><ellipse cx="2107.7" cy="521.4" rx="20" ry="10.5"/><ellipse cx="2203" cy="521.4" rx="20" ry="10.5"/><ellipse cx="2298.2" cy="521.4" rx="20" ry="10.5"/><ellipse cx="2393.6" cy="521.4" rx="20" ry="10.5"/><ellipse cx="2488.8" cy="521.4" rx="20" ry="10.5"/><ellipse cx="2584.2" cy="521.4" rx="20" ry="10.5"/><ellipse cx="2679.5" cy="521.4" rx="20" ry="10.5"/><ellipse cx="2774.8" cy="521.4" rx="20" ry="10.5"/><ellipse cx="2870.1" cy="521.4" rx="20" ry="10.5"/><ellipse cx="2965.3" cy="521.4" rx="20" ry="10.5"/><ellipse cx="2104.5" cy="579.3" rx="19" ry="5"/><ellipse cx="2183.4" cy="579.3" rx="19" ry="5"/><ellipse cx="2262.3" cy="579.3" rx="19" ry="5"/><ellipse cx="2341.2" cy="579.3" rx="19" ry="5"/><ellipse cx="2420.1" cy="579.3" rx="19" ry="5"/><ellipse cx="2499" cy="579.3" rx="19" ry="5"/><ellipse cx="2578" cy="579.3" rx="19" ry="5"/><ellipse cx="2656.9" cy="579.3" rx="19" ry="5"/><ellipse cx="2735.8" cy="579.3" rx="19" ry="5"/><ellipse cx="2814.7" cy="579.3" rx="19" ry="5"/><ellipse cx="2893.6" cy="579.3" rx="19" ry="5"/><ellipse cx="2972.5" cy="579.3" rx="19" ry="5"/></g>
<path d="M2410.3,173.7C2417,174.2 2421.4,177.8 2424.3,182.8C2427.2,187.8 2425.5,195.9 2427.8,203.8C2430.2,211.7 2434.8,221 2438.3,230.1C2441.8,239.1 2448,249.3 2448.9,258.1C2449.7,266.9 2444.2,275.6 2443.6,282.6C2443,289.6 2442.1,292.9 2445.3,300.2C2448.6,307.5 2456.2,317.1 2462.9,326.4C2469.6,335.8 2481,346 2485.6,356.2C2490.3,366.4 2491.8,379.6 2490.9,387.8C2490,395.9 2490.9,401.9 2480.4,405.3C2469.9,408.6 2457,407.3 2427.8,407.9C2398.6,408.5 2343.2,408.6 2305.2,408.8C2267.2,408.9 2223.4,409.4 2200.1,408.8C2176.7,408.2 2173.1,408.8 2165,405.3C2157,401.8 2153.7,394.2 2151.9,387.8C2150.1,381.3 2150.9,374 2154.5,366.7C2158.2,359.4 2163.3,352.1 2173.8,344C2184.3,335.8 2202.1,327 2217.6,317.7C2233.1,308.3 2255,295.5 2266.7,287.9C2278.3,280.3 2280.1,276.5 2287.7,272.1C2295.3,267.7 2306.1,266.6 2312.2,261.6C2318.3,256.6 2319.8,250.5 2324.5,242.3C2329.1,234.2 2335.3,220.7 2340.2,212.6C2345.2,204.4 2346.9,198.8 2354.2,193.3C2361.5,187.7 2374.7,182.5 2384,179.3C2393.4,176 2403.6,173.1 2410.3,173.7Z" fill="#e4eed9" stroke="#9fd08d" stroke-width="1.6"/><g transform="translate(2389.3,197.7) rotate(-30)"><rect x="-29" y="-9.7" width="58" height="19.3" rx="9.7" fill="#a9cfa4" stroke="#9cc598" stroke-width="1"/><rect x="-21" y="-6.2" width="36" height="2" rx="1" fill="#fff" opacity="0.18"/></g><g transform="translate(2356,276.5) rotate(3)"><rect x="-29" y="-9.7" width="58" height="19.3" rx="9.7" fill="#a9cfa4" stroke="#9cc598" stroke-width="1"/><rect x="-21" y="-6.2" width="36" height="2" rx="1" fill="#fff" opacity="0.18"/></g><g transform="translate(2403.3,306.3) rotate(15)"><rect x="-29" y="-9.7" width="58" height="19.3" rx="9.7" fill="#a9cfa4" stroke="#9cc598" stroke-width="1"/><rect x="-21" y="-6.2" width="36" height="2" rx="1" fill="#fff" opacity="0.18"/></g><g transform="translate(2224.6,333.4) rotate(0)"><rect x="-29" y="-9.7" width="58" height="19.3" rx="9.7" fill="#a9cfa4" stroke="#9cc598" stroke-width="1"/><rect x="-21" y="-6.2" width="36" height="2" rx="1" fill="#fff" opacity="0.18"/></g><g transform="translate(2271.9,372) rotate(3)"><rect x="-29" y="-9.7" width="58" height="19.3" rx="9.7" fill="#a9cfa4" stroke="#9cc598" stroke-width="1"/><rect x="-21" y="-6.2" width="36" height="2" rx="1" fill="#fff" opacity="0.18"/></g><g transform="translate(2387.5,370.2) rotate(0)"><rect x="-29" y="-9.7" width="58" height="19.3" rx="9.7" fill="#a9cfa4" stroke="#9cc598" stroke-width="1"/><rect x="-21" y="-6.2" width="36" height="2" rx="1" fill="#fff" opacity="0.18"/></g><g transform="translate(2452.4,372.9) rotate(10)"><rect x="-29" y="-9.7" width="58" height="19.3" rx="9.7" fill="#a9cfa4" stroke="#9cc598" stroke-width="1"/><rect x="-21" y="-6.2" width="36" height="2" rx="1" fill="#fff" opacity="0.18"/></g><g transform="translate(2410.3,393.9) rotate(0)"><rect x="-29" y="-9.7" width="58" height="19.3" rx="9.7" fill="#a9cfa4" stroke="#9cc598" stroke-width="1"/><rect x="-21" y="-6.2" width="36" height="2" rx="1" fill="#fff" opacity="0.18"/></g><g transform="translate(2315.7,352.7) rotate(0)"><rect x="-29" y="-9.7" width="58" height="19.3" rx="9.7" fill="#a9cfa4" stroke="#9cc598" stroke-width="1"/><rect x="-21" y="-6.2" width="36" height="2" rx="1" fill="#fff" opacity="0.18"/></g><g transform="translate(2353.4,251.5) rotate(-6)"><rect x="-29" y="-9.7" width="58" height="19.3" rx="9.7" fill="#04535f" stroke="#033f49" stroke-width="1"/><rect x="-21" y="-6.2" width="36" height="2" rx="1" fill="#fff" opacity="0.18"/></g><g transform="translate(2412.9,258.1) rotate(42)"><rect x="-29" y="-9.7" width="58" height="19.3" rx="9.7" fill="#04535f" stroke="#033f49" stroke-width="1"/><rect x="-21" y="-6.2" width="36" height="2" rx="1" fill="#fff" opacity="0.18"/></g><circle cx="2366.5" cy="256.7" r="13.1" fill="#e0607f" stroke="#c94a6b" stroke-width="1"/><circle cx="2363" cy="252.2" r="2" fill="#fff" opacity=".25"/><circle cx="2389.8" cy="259.5" r="13.1" fill="#e0607f" stroke="#c94a6b" stroke-width="1"/><circle cx="2386.3" cy="255" r="2" fill="#fff" opacity=".25"/><g transform="translate(2375.6,231) rotate(33)"><rect x="-29" y="-9.7" width="58" height="19.3" rx="9.7" fill="#6aab6e" stroke="#559a5c" stroke-width="1"/><rect x="-21" y="-6.2" width="36" height="2" rx="1" fill="#fff" opacity="0.18"/></g><g transform="translate(2400.7,222.7) rotate(33)"><rect x="-29" y="-9.7" width="58" height="19.3" rx="9.7" fill="#1e9bb0" stroke="#14869b" stroke-width="1"/><rect x="-21" y="-6.2" width="36" height="2" rx="1" fill="#fff" opacity="0.18"/></g><g transform="translate(2309.6,293.1) rotate(5)"><rect x="-29" y="-9.7" width="58" height="19.3" rx="9.7" fill="#1e9bb0" stroke="#14869b" stroke-width="1"/><rect x="-21" y="-6.2" width="36" height="2" rx="1" fill="#fff" opacity="0.18"/></g><g transform="translate(2370,290.5) rotate(-8)"><rect x="-29" y="-9.7" width="58" height="19.3" rx="9.7" fill="#1e9bb0" stroke="#14869b" stroke-width="1"/><rect x="-21" y="-6.2" width="36" height="2" rx="1" fill="#fff" opacity="0.18"/></g><g transform="translate(2270.2,329.4) rotate(5)"><rect x="-29" y="-9.7" width="58" height="19.3" rx="9.7" fill="#1e9bb0" stroke="#14869b" stroke-width="1"/><rect x="-21" y="-6.2" width="36" height="2" rx="1" fill="#fff" opacity="0.18"/></g><g transform="translate(2315.7,333.8) rotate(-5)"><rect x="-29" y="-9.7" width="58" height="19.3" rx="9.7" fill="#04535f" stroke="#033f49" stroke-width="1"/><rect x="-21" y="-6.2" width="36" height="2" rx="1" fill="#fff" opacity="0.18"/></g><circle cx="2346.4" cy="332.6" r="13.1" fill="#e0607f" stroke="#c94a6b" stroke-width="1"/><circle cx="2342.9" cy="328.1" r="2" fill="#fff" opacity=".25"/><g transform="translate(2386.7,332.6) rotate(8)"><rect x="-29" y="-9.7" width="58" height="19.3" rx="9.7" fill="#6aab6e" stroke="#559a5c" stroke-width="1"/><rect x="-21" y="-6.2" width="36" height="2" rx="1" fill="#fff" opacity="0.18"/></g><g transform="translate(2287.1,312.8) rotate(-5)"><rect x="-29" y="-9.7" width="58" height="19.3" rx="9.7" fill="#04535f" stroke="#033f49" stroke-width="1"/><rect x="-21" y="-6.2" width="36" height="2" rx="1" fill="#fff" opacity="0.18"/></g><g transform="translate(2341.1,314.5) rotate(5)"><rect x="-29" y="-9.7" width="58" height="19.3" rx="9.7" fill="#04535f" stroke="#033f49" stroke-width="1"/><rect x="-21" y="-6.2" width="36" height="2" rx="1" fill="#fff" opacity="0.18"/></g><g transform="translate(2398,320.3) rotate(25)"><rect x="-29" y="-9.7" width="58" height="19.3" rx="9.7" fill="#1e9bb0" stroke="#14869b" stroke-width="1"/><rect x="-21" y="-6.2" width="36" height="2" rx="1" fill="#fff" opacity="0.18"/></g><g transform="translate(2203.6,354.8) rotate(3)"><rect x="-29" y="-9.7" width="58" height="19.3" rx="9.7" fill="#6aab6e" stroke="#559a5c" stroke-width="1"/><rect x="-21" y="-6.2" width="36" height="2" rx="1" fill="#fff" opacity="0.18"/></g><circle cx="2245.6" cy="355.3" r="12.3" fill="#e0607f" stroke="#c94a6b" stroke-width="1"/><circle cx="2242.1" cy="350.8" r="2" fill="#fff" opacity=".25"/><g transform="translate(2224.1,344) rotate(-7)"><rect x="-29" y="-9.7" width="58" height="19.3" rx="9.7" fill="#04535f" stroke="#033f49" stroke-width="1"/><rect x="-21" y="-6.2" width="36" height="2" rx="1" fill="#fff" opacity="0.18"/></g><g transform="translate(2281.5,352.7) rotate(12)"><rect x="-29" y="-9.7" width="58" height="19.3" rx="9.7" fill="#04535f" stroke="#033f49" stroke-width="1"/><rect x="-21" y="-6.2" width="36" height="2" rx="1" fill="#fff" opacity="0.18"/></g><g transform="translate(2339.7,351.8) rotate(0)"><rect x="-29" y="-9.7" width="58" height="19.3" rx="9.7" fill="#1e9bb0" stroke="#14869b" stroke-width="1"/><rect x="-21" y="-6.2" width="36" height="2" rx="1" fill="#fff" opacity="0.18"/></g><g transform="translate(2399.8,353.6) rotate(12)"><rect x="-29" y="-9.7" width="58" height="19.3" rx="9.7" fill="#6aab6e" stroke="#559a5c" stroke-width="1"/><rect x="-21" y="-6.2" width="36" height="2" rx="1" fill="#fff" opacity="0.18"/></g><g transform="translate(2441.8,348.9) rotate(12)"><rect x="-29" y="-9.7" width="58" height="19.3" rx="9.7" fill="#6aab6e" stroke="#559a5c" stroke-width="1"/><rect x="-21" y="-6.2" width="36" height="2" rx="1" fill="#fff" opacity="0.18"/></g><circle cx="2174.1" cy="369.4" r="13.7" fill="#e0607f" stroke="#c94a6b" stroke-width="1"/><circle cx="2170.6" cy="364.9" r="2" fill="#fff" opacity=".25"/><g transform="translate(2215.8,374.1) rotate(0)"><rect x="-29" y="-9.7" width="58" height="19.3" rx="9.7" fill="#04535f" stroke="#033f49" stroke-width="1"/><rect x="-21" y="-6.2" width="36" height="2" rx="1" fill="#fff" opacity="0.18"/></g><g transform="translate(2330.6,371.5) rotate(2)"><rect x="-29" y="-9.7" width="58" height="19.3" rx="9.7" fill="#04535f" stroke="#033f49" stroke-width="1"/><rect x="-21" y="-6.2" width="36" height="2" rx="1" fill="#fff" opacity="0.18"/></g><g transform="translate(2190.1,392.7) rotate(0)"><rect x="-29" y="-9.7" width="58" height="19.3" rx="9.7" fill="#6aab6e" stroke="#559a5c" stroke-width="1"/><rect x="-21" y="-6.2" width="36" height="2" rx="1" fill="#fff" opacity="0.18"/></g><g transform="translate(2249.1,392.5) rotate(0)"><rect x="-29" y="-9.7" width="58" height="19.3" rx="9.7" fill="#1e9bb0" stroke="#14869b" stroke-width="1"/><rect x="-21" y="-6.2" width="36" height="2" rx="1" fill="#fff" opacity="0.18"/></g><g transform="translate(2307.3,391.3) rotate(0)"><rect x="-29" y="-9.7" width="58" height="19.3" rx="9.7" fill="#6aab6e" stroke="#559a5c" stroke-width="1"/><rect x="-21" y="-6.2" width="36" height="2" rx="1" fill="#fff" opacity="0.18"/></g><g transform="translate(2365.6,391.6) rotate(0)"><rect x="-29" y="-9.7" width="58" height="19.3" rx="9.7" fill="#04535f" stroke="#033f49" stroke-width="1"/><rect x="-21" y="-6.2" width="36" height="2" rx="1" fill="#fff" opacity="0.18"/></g><g transform="translate(2394.9,379.9) rotate(-10)"><rect x="-29" y="-9.7" width="58" height="19.3" rx="9.7" fill="#04535f" stroke="#033f49" stroke-width="1"/><rect x="-21" y="-6.2" width="36" height="2" rx="1" fill="#fff" opacity="0.18"/></g><g transform="translate(2447.1,390.4) rotate(8)"><rect x="-29" y="-9.7" width="58" height="19.3" rx="9.7" fill="#1e9bb0" stroke="#14869b" stroke-width="1"/><rect x="-21" y="-6.2" width="36" height="2" rx="1" fill="#fff" opacity="0.18"/></g>
<path d="M2738.9,188C2746.2,188.5 2757.9,189.2 2765.2,193.3C2772.5,197.4 2778,204.1 2782.7,212.6C2787.4,221 2790.7,232.4 2793.2,244.1C2795.7,255.8 2797.3,270.4 2797.6,282.6C2797.9,294.9 2797.2,306 2795,317.7C2792.8,329.4 2785,343.4 2784.5,352.7C2783.9,362.1 2789.4,367.6 2791.5,373.7C2793.5,379.9 2797,385 2796.7,389.5C2796.4,394 2797.9,398.6 2789.7,400.9C2781.5,403.2 2763.4,403.2 2747.7,403.5C2731.9,403.8 2709.1,403.1 2695.1,402.6C2681.1,402.2 2670.3,403.1 2663.6,400.9C2656.9,398.7 2654.8,392.9 2654.8,389.5C2654.8,386.1 2658.6,384.2 2663.6,380.7C2668.5,377.2 2679.9,373.2 2684.6,368.5C2689.3,363.8 2691,358.8 2691.6,352.7C2692.2,346.6 2690.4,338.7 2688.1,331.7C2685.8,324.7 2681.7,318.8 2677.6,310.7C2673.5,302.5 2666.4,290.5 2663.6,282.6C2660.8,274.8 2660.1,268.9 2661,263.4C2661.8,257.8 2664.9,252.4 2668.8,249.3C2672.8,246.3 2679.6,244.8 2684.6,245C2689.6,245.1 2694.8,246.9 2698.6,250.2C2702.4,253.6 2704.5,260.6 2707.4,265.1C2710.3,269.6 2712.6,274.9 2716.1,277.4C2719.6,279.9 2724.3,281.2 2728.4,280C2732.5,278.8 2738,274.9 2740.7,270.4C2743.3,265.8 2745.3,258.4 2744.2,252.9C2743,247.3 2738.3,241.2 2733.7,237.1C2729,233 2720.5,232.1 2716.1,228.3C2711.8,224.5 2708.5,219 2707.4,214.3C2706.2,209.6 2706.8,204.2 2709.1,200.3C2711.5,196.4 2716.4,192.7 2721.4,190.7C2726.4,188.6 2731.6,187.6 2738.9,188Z M2627.7,186.3C2630.9,185.7 2633.7,188 2637.3,191.5C2641,195 2646.2,202.3 2649.6,207.3C2652.9,212.3 2657.2,217.8 2657.4,221.3C2657.7,224.8 2655,227.6 2651.3,228.3C2647.7,229.1 2640.4,228.3 2635.6,225.7C2630.7,223.1 2625.3,217.7 2622.4,212.6C2619.5,207.4 2617.2,199.4 2618,195C2618.9,190.7 2624.5,186.9 2627.7,186.3Z" fill="#e4eed9" stroke="#9fd08d" stroke-width="1.6"/><circle cx="2671.8" cy="190.3" r="9.3" fill="#1e9bb0" stroke="#14869b" stroke-width="0.8"/><circle cx="2684.1" cy="224.3" r="9.3" fill="#1e9bb0" stroke="#14869b" stroke-width="0.8"/><circle cx="2720.5" cy="251.5" r="9.3" fill="#6aab6e" stroke="#559a5c" stroke-width="0.8"/><circle cx="2629.4" cy="201.2" r="9.3" fill="#a9cfa4" stroke="#9cc598" stroke-width="0.8"/><circle cx="2640.3" cy="215.2" r="9.3" fill="#6aab6e" stroke="#559a5c" stroke-width="0.8"/><circle cx="2749.1" cy="226.6" r="9.3" fill="#a9cfa4" stroke="#9cc598" stroke-width="0.8"/><circle cx="2730.7" cy="207" r="9.3" fill="#6aab6e" stroke="#559a5c" stroke-width="0.8"/><circle cx="2763.4" cy="217.8" r="9.3" fill="#04535f" stroke="#033f49" stroke-width="0.8"/><circle cx="2767.8" cy="246.2" r="9.3" fill="#e0607f" stroke="#c94a6b" stroke-width="0.8"/><circle cx="2749.4" cy="260.7" r="9.3" fill="#6aab6e" stroke="#559a5c" stroke-width="0.8"/><circle cx="2775.2" cy="269" r="9.3" fill="#72bfc6" stroke="#62b0b8" stroke-width="0.8"/><circle cx="2681.5" cy="264.6" r="9.3" fill="#72bfc6" stroke="#62b0b8" stroke-width="0.8"/><circle cx="2684.1" cy="289.3" r="9.3" fill="#6aab6e" stroke="#559a5c" stroke-width="0.8"/><circle cx="2693.4" cy="277" r="9.3" fill="#1e9bb0" stroke="#14869b" stroke-width="0.8"/><circle cx="2714" cy="313.3" r="9.3" fill="#a9cfa4" stroke="#9cc598" stroke-width="0.8"/><circle cx="2752.9" cy="310.7" r="9.3" fill="#a9cfa4" stroke="#9cc598" stroke-width="0.8"/><circle cx="2735.8" cy="281.4" r="9.3" fill="#04535f" stroke="#033f49" stroke-width="0.8"/><circle cx="2757.3" cy="284.7" r="9.3" fill="#1e9bb0" stroke="#14869b" stroke-width="0.8"/><circle cx="2749.1" cy="297.5" r="9.3" fill="#6aab6e" stroke="#559a5c" stroke-width="0.8"/><circle cx="2722.3" cy="292.6" r="9.3" fill="#e0607f" stroke="#c94a6b" stroke-width="0.8"/><circle cx="2730.7" cy="308" r="9.3" fill="#e0607f" stroke="#c94a6b" stroke-width="0.8"/><circle cx="2779.2" cy="292.8" r="9.3" fill="#04535f" stroke="#033f49" stroke-width="0.8"/><circle cx="2776.1" cy="308.4" r="9.3" fill="#04535f" stroke="#033f49" stroke-width="0.8"/><circle cx="2699.8" cy="304.9" r="9.3" fill="#6aab6e" stroke="#559a5c" stroke-width="0.8"/><circle cx="2767.8" cy="320.3" r="9.3" fill="#6aab6e" stroke="#559a5c" stroke-width="0.8"/><circle cx="2743.6" cy="323.8" r="9.3" fill="#6aab6e" stroke="#559a5c" stroke-width="0.8"/><circle cx="2710" cy="327.3" r="9.3" fill="#04535f" stroke="#033f49" stroke-width="0.8"/><circle cx="2735.4" cy="336.1" r="9.3" fill="#72bfc6" stroke="#62b0b8" stroke-width="0.8"/><circle cx="2718.4" cy="338.7" r="9.3" fill="#1e9bb0" stroke="#14869b" stroke-width="0.8"/><circle cx="2752.9" cy="339.6" r="9.3" fill="#04535f" stroke="#033f49" stroke-width="0.8"/><circle cx="2769.9" cy="339" r="9.3" fill="#1e9bb0" stroke="#14869b" stroke-width="0.8"/><circle cx="2706.5" cy="348.7" r="9.3" fill="#1e9bb0" stroke="#14869b" stroke-width="0.8"/><circle cx="2721.4" cy="354.5" r="9.3" fill="#a9cfa4" stroke="#9cc598" stroke-width="0.8"/><circle cx="2754.7" cy="365.9" r="9.3" fill="#a9cfa4" stroke="#9cc598" stroke-width="0.8"/><circle cx="2762.6" cy="355" r="9.3" fill="#e0607f" stroke="#c94a6b" stroke-width="0.8"/><circle cx="2742.1" cy="356.2" r="9.3" fill="#6aab6e" stroke="#559a5c" stroke-width="0.8"/><circle cx="2744.2" cy="374.6" r="9.3" fill="#04535f" stroke="#033f49" stroke-width="0.8"/><circle cx="2733.7" cy="366.7" r="9.3" fill="#1e9bb0" stroke="#14869b" stroke-width="0.8"/><circle cx="2700" cy="371.1" r="9.3" fill="#a9cfa4" stroke="#9cc598" stroke-width="0.8"/><circle cx="2712.6" cy="371.1" r="9.3" fill="#04535f" stroke="#033f49" stroke-width="0.8"/><circle cx="2775.7" cy="374.6" r="9.3" fill="#a9cfa4" stroke="#9cc598" stroke-width="0.8"/><circle cx="2693.4" cy="384.2" r="9.3" fill="#6aab6e" stroke="#559a5c" stroke-width="0.8"/><circle cx="2676.7" cy="388.6" r="9.3" fill="#04535f" stroke="#033f49" stroke-width="0.8"/><circle cx="2715.3" cy="387.8" r="9.3" fill="#6aab6e" stroke="#559a5c" stroke-width="0.8"/><circle cx="2730.7" cy="387.8" r="9.3" fill="#04535f" stroke="#033f49" stroke-width="0.8"/><circle cx="2755.6" cy="384.2" r="9.3" fill="#04535f" stroke="#033f49" stroke-width="0.8"/><circle cx="2778.3" cy="387.8" r="9.3" fill="#1e9bb0" stroke="#14869b" stroke-width="0.8"/>
<g fill="#efcfcf" stroke="#d58d8e" stroke-width="1.3"><path d="M2071.8,1032.1Q2060.8,1032.1 2062.3,1022.1C2066.5,1012.2 2087.7,1005.3 2120.7,1005.3C2152,1005.3 2173.2,1012.2 2177.4,1022.1Q2178.9,1032.1 2167.9,1032.1Z M2189.6,1032.1Q2178.6,1032.1 2180.1,1022.1C2184.3,1012.2 2205.5,1005.3 2238.4,1005.3C2269.8,1005.3 2291,1012.2 2295.2,1022.1Q2296.7,1032.1 2285.7,1032.1Z M2307.3,1032.1Q2296.3,1032.1 2297.8,1022.1C2302,1012.2 2323.2,1005.3 2356.2,1005.3C2387.5,1005.3 2408.7,1012.2 2412.9,1022.1Q2414.4,1032.1 2403.4,1032.1Z M2425.1,1032.1Q2414.1,1032.1 2415.6,1022.1C2419.8,1012.2 2441,1005.3 2473.9,1005.3C2505.3,1005.3 2526.5,1012.2 2530.7,1022.1Q2532.2,1032.1 2521.2,1032.1Z M2542.8,1032.1Q2531.8,1032.1 2533.3,1022.1C2537.5,1012.2 2558.7,1005.3 2591.7,1005.3C2623,1005.3 2644.2,1012.2 2648.4,1022.1Q2649.9,1032.1 2638.9,1032.1Z M2660.6,1032.1Q2649.6,1032.1 2651.1,1022.1C2655.3,1012.2 2676.5,1005.3 2709.4,1005.3C2740.8,1005.3 2762,1012.2 2766.2,1022.1Q2767.7,1032.1 2756.7,1032.1Z M2778.3,1032.1Q2767.3,1032.1 2768.8,1022.1C2773,1012.2 2794.2,1005.3 2827.2,1005.3C2858.5,1005.3 2879.7,1012.2 2883.9,1022.1Q2885.4,1032.1 2874.4,1032.1Z M2896.1,1032.1Q2885.1,1032.1 2886.6,1022.1C2890.8,1012.2 2912,1005.3 2944.9,1005.3C2976.3,1005.3 2997.5,1012.2 3001.7,1022.1Q3003.2,1032.1 2992.2,1032.1Z M2069.6,1052.1Q2059.8,1052.1 2061.3,1043.3C2066.2,1038.4 2074.3,1033.5 2095.9,1033.5L2160.6,1033.5C2180.6,1033.5 2188.7,1038.4 2193.6,1043.3Q2195.1,1052.1 2185.2,1052.1Z M2204.5,1052.1Q2194.7,1052.1 2196.2,1043.3C2201.1,1038.4 2209.1,1033.5 2230.7,1033.5L2295.5,1033.5C2315.4,1033.5 2323.5,1038.4 2328.4,1043.3Q2329.9,1052.1 2320.1,1052.1Z M2339.3,1052.1Q2329.5,1052.1 2331,1043.3C2335.9,1038.4 2344,1033.5 2365.6,1033.5L2430.3,1033.5C2450.3,1033.5 2458.4,1038.4 2463.3,1043.3Q2464.8,1052.1 2455,1052.1Z M2474.2,1052.1Q2464.4,1052.1 2465.9,1043.3C2470.8,1038.4 2478.9,1033.5 2500.4,1033.5L2565.2,1033.5C2585.1,1033.5 2593.2,1038.4 2598.1,1043.3Q2599.6,1052.1 2589.8,1052.1Z M2609,1052.1Q2599.2,1052.1 2600.7,1043.3C2605.6,1038.4 2613.7,1033.5 2635.3,1033.5L2700,1033.5C2720,1033.5 2728.1,1038.4 2733,1043.3Q2734.5,1052.1 2724.7,1052.1Z M2743.9,1052.1Q2734.1,1052.1 2735.6,1043.3C2740.5,1038.4 2748.6,1033.5 2770.1,1033.5L2834.9,1033.5C2854.9,1033.5 2862.9,1038.4 2867.8,1043.3Q2869.3,1052.1 2859.5,1052.1Z M2878.8,1052.1Q2868.9,1052.1 2870.4,1043.3C2875.3,1038.4 2883.4,1033.5 2905,1033.5L2969.7,1033.5C2989.7,1033.5 2997.8,1038.4 3002.7,1043.3Q3004.2,1052.1 2994.4,1052.1Z M2068.8,1054.4Q2106.3,1053 2143.8,1054.4C2148.7,1054.4 2153.4,1057.8 2153.4,1062.8Q2154.6,1069.4 2153.4,1076C2153.4,1081 2148.7,1084.4 2143.8,1084.4Q2106.3,1085.8 2068.8,1084.4C2063.9,1084.4 2059.2,1081 2059.2,1076Q2058,1069.4 2059.2,1062.8C2059.2,1057.8 2063.9,1054.4 2068.8,1054.4Z M2163.4,1054.3Q2200.8,1052.9 2238.3,1054.3C2243.2,1054.3 2247.6,1057.8 2247.6,1062.8Q2248.8,1069.4 2247.6,1076C2247.6,1081 2243.2,1085.2 2238.3,1085.2Q2200.8,1086.6 2163.4,1085.2C2158.4,1085.2 2154.1,1081 2154.1,1076Q2152.9,1069.4 2154.1,1062.8C2154.1,1057.8 2158.4,1054.3 2163.4,1054.3Z M2257.9,1053.9Q2295.4,1052.5 2332.8,1053.9C2337.8,1053.9 2342,1057.8 2342,1062.8Q2343.2,1069.4 2342,1076C2342,1081 2337.8,1085.1 2332.8,1085.1Q2295.4,1086.5 2257.9,1085.1C2253,1085.1 2248.4,1081 2248.4,1076Q2247.2,1069.4 2248.4,1062.8C2248.4,1057.8 2253,1053.9 2257.9,1053.9Z M2352.5,1053.7Q2389.9,1052.3 2427.4,1053.7C2432.3,1053.7 2436.3,1057.8 2436.3,1062.8Q2437.5,1069.4 2436.3,1076C2436.3,1081 2432.3,1085.3 2427.4,1085.3Q2389.9,1086.7 2352.5,1085.3C2347.5,1085.3 2344.1,1081 2344.1,1076Q2342.9,1069.4 2344.1,1062.8C2344.1,1057.8 2347.5,1053.7 2352.5,1053.7Z M2447,1054.4Q2484.5,1053 2521.9,1054.4C2526.9,1054.4 2531,1057.8 2531,1062.8Q2532.2,1069.4 2531,1076C2531,1081 2526.9,1084.9 2521.9,1084.9Q2484.5,1086.3 2447,1084.9C2442.1,1084.9 2437.7,1081 2437.7,1076Q2436.5,1069.4 2437.7,1062.8C2437.7,1057.8 2442.1,1054.4 2447,1054.4Z M2541.6,1053.2Q2579,1051.8 2616.5,1053.2C2621.4,1053.2 2624.8,1057.8 2624.8,1062.8Q2626,1069.4 2624.8,1076C2624.8,1081 2621.4,1085 2616.5,1085Q2579,1086.4 2541.6,1085C2536.6,1085 2532.3,1081 2532.3,1076Q2531.1,1069.4 2532.3,1062.8C2532.3,1057.8 2536.6,1053.2 2541.6,1053.2Z M2636.1,1053.6Q2673.6,1052.2 2711.1,1053.6C2716,1053.6 2720.6,1057.8 2720.6,1062.8Q2721.8,1069.4 2720.6,1076C2720.6,1081 2716,1085 2711.1,1085Q2673.6,1086.4 2636.1,1085C2631.2,1085 2627.2,1081 2627.2,1076Q2626,1069.4 2627.2,1062.8C2627.2,1057.8 2631.2,1053.6 2636.1,1053.6Z M2730.7,1053.4Q2768.1,1052 2805.6,1053.4C2810.5,1053.4 2813.9,1057.8 2813.9,1062.8Q2815.1,1069.4 2813.9,1076C2813.9,1081 2810.5,1084.8 2805.6,1084.8Q2768.1,1086.2 2730.7,1084.8C2725.7,1084.8 2721.1,1081 2721.1,1076Q2719.9,1069.4 2721.1,1062.8C2721.1,1057.8 2725.7,1053.4 2730.7,1053.4Z M2825.2,1053.8Q2862.7,1052.4 2900.2,1053.8C2905.1,1053.8 2909.8,1057.8 2909.8,1062.8Q2911,1069.4 2909.8,1076C2909.8,1081 2905.1,1085.2 2900.2,1085.2Q2862.7,1086.6 2825.2,1085.2C2820.3,1085.2 2815.8,1081 2815.8,1076Q2814.6,1069.4 2815.8,1062.8C2815.8,1057.8 2820.3,1053.8 2825.2,1053.8Z M2919.8,1054.4Q2957.2,1053 2994.7,1054.4C2999.6,1054.4 3004.1,1057.8 3004.1,1062.8Q3005.3,1069.4 3004.1,1076C3004.1,1081 2999.6,1085.3 2994.7,1085.3Q2957.2,1086.7 2919.8,1085.3C2914.8,1085.3 2911.3,1081 2911.3,1076Q2910.1,1069.4 2911.3,1062.8C2911.3,1057.8 2914.8,1054.4 2919.8,1054.4Z M2069.8,1087Q2107.2,1085.6 2144.7,1087C2149.6,1087 2154.1,1090.6 2154.1,1095.6Q2155.3,1107.3 2154.1,1119C2154.1,1124 2149.6,1127.8 2144.7,1127.8Q2107.2,1129.2 2069.8,1127.8C2064.9,1127.8 2061.5,1124 2061.5,1119Q2060.3,1107.3 2061.5,1095.6C2061.5,1090.6 2064.9,1087 2069.8,1087Z M2164.3,1087.2Q2201.8,1085.8 2239.2,1087.2C2244.1,1087.2 2247.7,1090.6 2247.7,1095.6Q2248.9,1107.3 2247.7,1119C2247.7,1124 2244.1,1128.4 2239.2,1128.4Q2201.8,1129.8 2164.3,1128.4C2159.4,1128.4 2155.6,1124 2155.6,1119Q2154.4,1107.3 2155.6,1095.6C2155.6,1090.6 2159.4,1087.2 2164.3,1087.2Z M2258.8,1086.5Q2296.2,1085.1 2333.7,1086.5C2338.6,1086.5 2342.7,1090.6 2342.7,1095.6Q2343.9,1107.3 2342.7,1119C2342.7,1124 2338.6,1128 2333.7,1128Q2296.2,1129.4 2258.8,1128C2253.9,1128 2250.4,1124 2250.4,1119Q2249.2,1107.3 2250.4,1095.6C2250.4,1090.6 2253.9,1086.5 2258.8,1086.5Z M2353.3,1086.6Q2390.8,1085.2 2428.2,1086.6C2433.1,1086.6 2437.7,1090.6 2437.7,1095.6Q2438.9,1107.3 2437.7,1119C2437.7,1124 2433.1,1127.8 2428.2,1127.8Q2390.8,1129.2 2353.3,1127.8C2348.4,1127.8 2344.8,1124 2344.8,1119Q2343.6,1107.3 2344.8,1095.6C2344.8,1090.6 2348.4,1086.6 2353.3,1086.6Z M2447.8,1087.2Q2485.2,1085.8 2522.7,1087.2C2527.6,1087.2 2531.6,1090.6 2531.6,1095.6Q2532.8,1107.3 2531.6,1119C2531.6,1124 2527.6,1128.1 2522.7,1128.1Q2485.2,1129.5 2447.8,1128.1C2442.9,1128.1 2439.4,1124 2439.4,1119Q2438.2,1107.3 2439.4,1095.6C2439.4,1090.6 2442.9,1087.2 2447.8,1087.2Z M2542.3,1086.9Q2579.8,1085.5 2617.2,1086.9C2622.1,1086.9 2626.2,1090.6 2626.2,1095.6Q2627.4,1107.3 2626.2,1119C2626.2,1124 2622.1,1127.6 2617.2,1127.6Q2579.8,1129 2542.3,1127.6C2537.4,1127.6 2533.1,1124 2533.1,1119Q2531.9,1107.3 2533.1,1095.6C2533.1,1090.6 2537.4,1086.9 2542.3,1086.9Z M2636.8,1086.9Q2674.2,1085.5 2711.7,1086.9C2716.6,1086.9 2720.2,1090.6 2720.2,1095.6Q2721.4,1107.3 2720.2,1119C2720.2,1124 2716.6,1128.6 2711.7,1128.6Q2674.2,1130 2636.8,1128.6C2631.9,1128.6 2627.5,1124 2627.5,1119Q2626.3,1107.3 2627.5,1095.6C2627.5,1090.6 2631.9,1086.9 2636.8,1086.9Z M2731.3,1087.2Q2768.8,1085.8 2806.2,1087.2C2811.1,1087.2 2814.9,1090.6 2814.9,1095.6Q2816.1,1107.3 2814.9,1119C2814.9,1124 2811.1,1128.6 2806.2,1128.6Q2768.8,1130 2731.3,1128.6C2726.4,1128.6 2722.6,1124 2722.6,1119Q2721.4,1107.3 2722.6,1095.6C2722.6,1090.6 2726.4,1087.2 2731.3,1087.2Z M2825.8,1086.6Q2863.2,1085.2 2900.7,1086.6C2905.6,1086.6 2909.7,1090.6 2909.7,1095.6Q2910.9,1107.3 2909.7,1119C2909.7,1124 2905.6,1128.2 2900.7,1128.2Q2863.2,1129.6 2825.8,1128.2C2820.9,1128.2 2816.9,1124 2816.9,1119Q2815.7,1107.3 2816.9,1095.6C2816.9,1090.6 2820.9,1086.6 2825.8,1086.6Z M2920.3,1086.3Q2957.8,1084.9 2995.2,1086.3C3000.1,1086.3 3003.8,1090.6 3003.8,1095.6Q3005,1107.3 3003.8,1119C3003.8,1124 3000.1,1128 2995.2,1128Q2957.8,1129.4 2920.3,1128C2915.4,1128 2911.9,1124 2911.9,1119Q2910.7,1107.3 2911.9,1095.6C2911.9,1090.6 2915.4,1086.3 2920.3,1086.3Z M2073.8,1129.4Q2103.2,1128 2132.5,1129.4C2137.5,1129.4 2140.9,1133.2 2140.9,1138.2Q2142.1,1147.1 2140.9,1156C2140.9,1161 2137.5,1165.4 2132.5,1165.4Q2103.2,1166.8 2073.8,1165.4C2068.9,1165.4 2065.1,1161 2065.1,1156Q2063.9,1147.1 2065.1,1138.2C2065.1,1133.2 2068.9,1129.4 2073.8,1129.4Z M2152.1,1129.8Q2181.5,1128.4 2210.9,1129.8C2215.8,1129.8 2219.4,1133.2 2219.4,1138.2Q2220.6,1147.1 2219.4,1156C2219.4,1161 2215.8,1165.3 2210.9,1165.3Q2181.5,1166.7 2152.1,1165.3C2147.2,1165.3 2142.5,1161 2142.5,1156Q2141.3,1147.1 2142.5,1138.2C2142.5,1133.2 2147.2,1129.8 2152.1,1129.8Z M2230.5,1129.4Q2259.8,1128 2289.2,1129.4C2294.1,1129.4 2297.9,1133.2 2297.9,1138.2Q2299.1,1147.1 2297.9,1156C2297.9,1161 2294.1,1164.6 2289.2,1164.6Q2259.8,1166 2230.5,1164.6C2225.5,1164.6 2222,1161 2222,1156Q2220.8,1147.1 2222,1138.2C2222,1133.2 2225.5,1129.4 2230.5,1129.4Z M2308.8,1128.6Q2338.2,1127.2 2367.5,1128.6C2372.5,1128.6 2376.6,1133.2 2376.6,1138.2Q2377.8,1147.1 2376.6,1156C2376.6,1161 2372.5,1165.5 2367.5,1165.5Q2338.2,1166.9 2308.8,1165.5C2303.9,1165.5 2299.4,1161 2299.4,1156Q2298.2,1147.1 2299.4,1138.2C2299.4,1133.2 2303.9,1128.6 2308.8,1128.6Z M2387.1,1128.8Q2416.5,1127.4 2445.9,1128.8C2450.8,1128.8 2455.4,1133.2 2455.4,1138.2Q2456.6,1147.1 2455.4,1156C2455.4,1161 2450.8,1164.9 2445.9,1164.9Q2416.5,1166.3 2387.1,1164.9C2382.2,1164.9 2378.4,1161 2378.4,1156Q2377.2,1147.1 2378.4,1138.2C2378.4,1133.2 2382.2,1128.8 2387.1,1128.8Z M2465.5,1128.5Q2494.8,1127.1 2524.2,1128.5C2529.1,1128.5 2533,1133.2 2533,1138.2Q2534.2,1147.1 2533,1156C2533,1161 2529.1,1164.5 2524.2,1164.5Q2494.8,1165.9 2465.5,1164.5C2460.5,1164.5 2456.7,1161 2456.7,1156Q2455.5,1147.1 2456.7,1138.2C2456.7,1133.2 2460.5,1128.5 2465.5,1128.5Z M2543.8,1128.6Q2573.2,1127.2 2602.5,1128.6C2607.5,1128.6 2612.2,1133.2 2612.2,1138.2Q2613.4,1147.1 2612.2,1156C2612.2,1161 2607.5,1164.3 2602.5,1164.3Q2573.2,1165.7 2543.8,1164.3C2538.9,1164.3 2535.1,1161 2535.1,1156Q2533.9,1147.1 2535.1,1138.2C2535.1,1133.2 2538.9,1128.6 2543.8,1128.6Z M2622.1,1128.5Q2651.5,1127.1 2680.9,1128.5C2685.8,1128.5 2689.5,1133.2 2689.5,1138.2Q2690.7,1147.1 2689.5,1156C2689.5,1161 2685.8,1165.4 2680.9,1165.4Q2651.5,1166.8 2622.1,1165.4C2617.2,1165.4 2612.7,1161 2612.7,1156Q2611.5,1147.1 2612.7,1138.2C2612.7,1133.2 2617.2,1128.5 2622.1,1128.5Z M2700.5,1128.8Q2729.8,1127.4 2759.2,1128.8C2764.1,1128.8 2768.5,1133.2 2768.5,1138.2Q2769.7,1147.1 2768.5,1156C2768.5,1161 2764.1,1164.8 2759.2,1164.8Q2729.8,1166.2 2700.5,1164.8C2695.5,1164.8 2690.8,1161 2690.8,1156Q2689.6,1147.1 2690.8,1138.2C2690.8,1133.2 2695.5,1128.8 2700.5,1128.8Z M2778.8,1129.9Q2808.2,1128.5 2837.5,1129.9C2842.5,1129.9 2846,1133.2 2846,1138.2Q2847.2,1147.1 2846,1156C2846,1161 2842.5,1164.4 2837.5,1164.4Q2808.2,1165.8 2778.8,1164.4C2773.9,1164.4 2769.6,1161 2769.6,1156Q2768.4,1147.1 2769.6,1138.2C2769.6,1133.2 2773.9,1129.9 2778.8,1129.9Z M2857.1,1129.4Q2886.5,1128 2915.9,1129.4C2920.8,1129.4 2925.2,1133.2 2925.2,1138.2Q2926.4,1147.1 2925.2,1156C2925.2,1161 2920.8,1164.5 2915.9,1164.5Q2886.5,1165.9 2857.1,1164.5C2852.2,1164.5 2847.9,1161 2847.9,1156Q2846.7,1147.1 2847.9,1138.2C2847.9,1133.2 2852.2,1129.4 2857.1,1129.4Z M2935.5,1128.5Q2964.8,1127.1 2994.2,1128.5C2999.1,1128.5 3003.1,1133.2 3003.1,1138.2Q3004.3,1147.1 3003.1,1156C3003.1,1161 2999.1,1165.4 2994.2,1165.4Q2964.8,1166.8 2935.5,1165.4C2930.5,1165.4 2926.8,1161 2926.8,1156Q2925.6,1147.1 2926.8,1138.2C2926.8,1133.2 2930.5,1128.5 2935.5,1128.5Z"/></g><g fill="#d39a98"><ellipse cx="2120.9" cy="1023.5" rx="18" ry="6"/><ellipse cx="2238.6" cy="1023.5" rx="18" ry="6"/><ellipse cx="2356.4" cy="1023.5" rx="18" ry="6"/><ellipse cx="2474.1" cy="1023.5" rx="18" ry="6"/><ellipse cx="2591.9" cy="1023.5" rx="18" ry="6"/><ellipse cx="2709.6" cy="1023.5" rx="18" ry="6"/><ellipse cx="2827.4" cy="1023.5" rx="18" ry="6"/><ellipse cx="2945.1" cy="1023.5" rx="18" ry="6"/><ellipse cx="2127.4" cy="1042" rx="18" ry="4.8"/><ellipse cx="2262.3" cy="1042" rx="18" ry="4.8"/><ellipse cx="2397.1" cy="1042" rx="18" ry="4.8"/><ellipse cx="2532" cy="1042" rx="18" ry="4.8"/><ellipse cx="2666.9" cy="1042" rx="18" ry="4.8"/><ellipse cx="2801.7" cy="1042" rx="18" ry="4.8"/><ellipse cx="2936.6" cy="1042" rx="18" ry="4.8"/><ellipse cx="2106.3" cy="1069" rx="18.5" ry="7"/><ellipse cx="2200.8" cy="1069" rx="18.5" ry="7"/><ellipse cx="2295.4" cy="1069" rx="18.5" ry="7"/><ellipse cx="2389.9" cy="1069" rx="18.5" ry="7"/><ellipse cx="2484.5" cy="1069" rx="18.5" ry="7"/><ellipse cx="2579" cy="1069" rx="18.5" ry="7"/><ellipse cx="2673.6" cy="1069" rx="18.5" ry="7"/><ellipse cx="2768.1" cy="1069" rx="18.5" ry="7"/><ellipse cx="2862.7" cy="1069" rx="18.5" ry="7"/><ellipse cx="2957.2" cy="1069" rx="18.5" ry="7"/><ellipse cx="2107.2" cy="1107.5" rx="18.5" ry="9.5"/><ellipse cx="2201.8" cy="1107.5" rx="18.5" ry="9.5"/><ellipse cx="2296.2" cy="1107.5" rx="18.5" ry="9.5"/><ellipse cx="2390.8" cy="1107.5" rx="18.5" ry="9.5"/><ellipse cx="2485.2" cy="1107.5" rx="18.5" ry="9.5"/><ellipse cx="2579.8" cy="1107.5" rx="18.5" ry="9.5"/><ellipse cx="2674.2" cy="1107.5" rx="18.5" ry="9.5"/><ellipse cx="2768.8" cy="1107.5" rx="18.5" ry="9.5"/><ellipse cx="2863.2" cy="1107.5" rx="18.5" ry="9.5"/><ellipse cx="2957.8" cy="1107.5" rx="18.5" ry="9.5"/><ellipse cx="2103.2" cy="1157" rx="17.5" ry="4.2"/><ellipse cx="2181.5" cy="1157" rx="17.5" ry="4.2"/><ellipse cx="2259.8" cy="1157" rx="17.5" ry="4.2"/><ellipse cx="2338.2" cy="1157" rx="17.5" ry="4.2"/><ellipse cx="2416.5" cy="1157" rx="17.5" ry="4.2"/><ellipse cx="2494.8" cy="1157" rx="17.5" ry="4.2"/><ellipse cx="2573.2" cy="1157" rx="17.5" ry="4.2"/><ellipse cx="2651.5" cy="1157" rx="17.5" ry="4.2"/><ellipse cx="2729.8" cy="1157" rx="17.5" ry="4.2"/><ellipse cx="2808.2" cy="1157" rx="17.5" ry="4.2"/><ellipse cx="2886.5" cy="1157" rx="17.5" ry="4.2"/><ellipse cx="2964.8" cy="1157" rx="17.5" ry="4.2"/></g>
<ellipse cx="2345.3" cy="902.9" rx="113.8" ry="100.8" fill="none" stroke="#8396b6" stroke-width="18.5"/><ellipse cx="2345.3" cy="902.9" rx="113.8" ry="100.8" fill="none" stroke="#c4d4ec" stroke-width="13.1"/><ellipse cx="2827.8" cy="879.5" rx="109.6" ry="100.9" fill="none" stroke="#8d5f93" stroke-width="18.7"/><ellipse cx="2827.8" cy="879.5" rx="109.6" ry="100.9" fill="none" stroke="#cfa1cc" stroke-width="13.3"/>
<ellipse cx="2425.9" cy="1441.4" rx="55.2" ry="56.5" fill="none" stroke="#8396b6" stroke-width="9.5"/><ellipse cx="2425.9" cy="1441.4" rx="55.2" ry="56.5" fill="none" stroke="#c4d4ec" stroke-width="5"/><ellipse cx="2538.5" cy="1571.5" rx="62.1" ry="62.1" fill="none" stroke="#8396b6" stroke-width="9.7"/><ellipse cx="2538.5" cy="1571.5" rx="62.1" ry="62.1" fill="none" stroke="#c4d4ec" stroke-width="5.2"/><path d="M2433.7,1420.2C2433.9,1421.5 2435.2,1423 2435.2,1424.4C2435.1,1425.7 2434.3,1427.2 2433.5,1428.2C2432.6,1429.3 2431,1429.8 2430,1430.7C2429.1,1431.6 2428.6,1433 2427.6,1433.8C2426.6,1434.6 2425.2,1435 2424,1435.5C2422.8,1436 2421.6,1436.7 2420.2,1437C2418.9,1437.3 2417.4,1437.8 2416.1,1437.4C2414.9,1437 2413.8,1435.3 2412.8,1434.6C2411.7,1433.8 2410.8,1433.2 2409.6,1432.7C2408.3,1432.2 2406.1,1432.6 2405.1,1431.8C2404.2,1430.9 2404.4,1429 2403.8,1427.8C2403.1,1426.5 2401.6,1425.6 2401.5,1424.3C2401.4,1423.1 2403,1421.5 2403.1,1420.2C2403.2,1418.9 2402.3,1417.6 2402.3,1416.3C2402.3,1415 2402.4,1413.3 2403,1412.2C2403.7,1411.2 2405.6,1410.9 2406.4,1409.8C2407.3,1408.7 2407.2,1406.6 2408.1,1405.6C2409,1404.6 2410.6,1403.8 2411.9,1403.7C2413.3,1403.6 2415,1404.9 2416.4,1405.1C2417.7,1405.4 2418.7,1405.2 2420,1405.1C2421.3,1405.1 2422.7,1404.6 2424.1,1404.7C2425.5,1404.7 2427.2,1404.8 2428.3,1405.6C2429.3,1406.4 2429.7,1408.3 2430.3,1409.5C2430.9,1410.7 2431.5,1411.8 2432.1,1412.9C2432.7,1414 2433.7,1415.1 2434,1416.3C2434.3,1417.5 2433.5,1418.9 2433.7,1420.2Z M2469,1447.9C2469.1,1449.3 2469.2,1450.9 2468.5,1452C2467.8,1453.2 2465.8,1453.8 2464.9,1454.8C2464,1455.7 2463.5,1456.6 2462.9,1457.8C2462.3,1458.9 2462.3,1460.9 2461.4,1461.8C2460.5,1462.8 2459,1463.1 2457.7,1463.5C2456.4,1463.9 2455.1,1464.3 2453.8,1464.2C2452.5,1464.2 2451.2,1463.5 2449.9,1463.3C2448.6,1463.1 2447.3,1463.5 2446,1463.1C2444.8,1462.8 2443.6,1462.1 2442.5,1461.3C2441.5,1460.6 2440.3,1459.7 2439.7,1458.7C2439,1457.6 2439,1456.1 2438.5,1454.9C2437.9,1453.7 2436.8,1452.9 2436.4,1451.7C2436.1,1450.5 2436.2,1449.2 2436.1,1447.9C2436,1446.6 2435.6,1445.3 2435.7,1443.9C2435.7,1442.6 2435.9,1441.1 2436.4,1439.8C2437,1438.6 2437.9,1437.3 2438.9,1436.5C2439.9,1435.6 2441.4,1435.2 2442.6,1434.6C2443.9,1434.1 2445,1433.4 2446.2,1433.1C2447.4,1432.7 2448.7,1432.6 2449.9,1432.6C2451.2,1432.7 2452.4,1433 2453.6,1433.3C2454.8,1433.5 2455.8,1433.9 2457,1434.1C2458.2,1434.4 2459.8,1434.2 2460.8,1434.8C2461.9,1435.4 2462.6,1436.6 2463.4,1437.6C2464.2,1438.6 2464.9,1439.6 2465.7,1440.6C2466.5,1441.6 2467.8,1442.6 2468.4,1443.8C2468.9,1445 2469,1446.5 2469,1447.9Z M2417,1461.1C2418,1461.8 2420.2,1462.7 2421.5,1464C2422.8,1465.3 2424.6,1467.6 2424.9,1469.1C2425.1,1470.5 2423.9,1471.8 2423,1472.9C2422.2,1474 2421.1,1475.3 2419.9,1475.8C2418.6,1476.4 2416.8,1476.1 2415.4,1476.3C2414.1,1476.5 2413,1476.5 2411.6,1477C2410.3,1477.6 2408.8,1479.5 2407.5,1479.5C2406.2,1479.4 2405,1477.6 2403.7,1476.8C2402.5,1476 2401.6,1475.4 2400.2,1474.9C2398.8,1474.3 2396.5,1474.6 2395.5,1473.7C2394.5,1472.7 2394.9,1470.6 2394.3,1469.2C2393.7,1467.8 2392.1,1466.9 2391.7,1465.5C2391.4,1464.2 2392.2,1462.6 2392.3,1461.1C2392.4,1459.6 2391.8,1458.1 2392.3,1456.8C2392.8,1455.5 2394.5,1454.7 2395.1,1453.5C2395.8,1452.2 2395.6,1450.5 2396.3,1449.2C2397,1448 2397.9,1446.6 2399.1,1445.8C2400.3,1445 2402.1,1445.1 2403.5,1444.7C2404.9,1444.2 2406.1,1443.3 2407.5,1443C2408.9,1442.8 2410.5,1442.7 2411.9,1443.2C2413.2,1443.7 2414.1,1445.5 2415.4,1445.9C2416.8,1446.4 2419.1,1445.3 2420.1,1446.1C2421.1,1446.9 2421.6,1449 2421.5,1450.7C2421.3,1452.4 2420.1,1454.7 2419.1,1456.1C2418.2,1457.6 2415.9,1458.8 2415.6,1459.6C2415.2,1460.5 2416,1460.4 2417,1461.1Z M2557.9,1543.9C2557.9,1545.1 2557.8,1546.6 2557,1547.6C2556.3,1548.5 2554.6,1549.4 2553.2,1549.7C2551.7,1550 2549.5,1549.6 2548.1,1549.2C2546.7,1548.9 2545.2,1547.1 2544.7,1547.6C2544.2,1548.1 2545.4,1550.5 2545.3,1552.3C2545.1,1554 2544.7,1556.5 2543.8,1558C2542.9,1559.5 2541.3,1560.8 2540,1561.1C2538.7,1561.4 2537.1,1560.7 2536,1560C2534.8,1559.3 2534.2,1557.7 2533.2,1556.8C2532.1,1556 2530.5,1555.8 2529.7,1554.9C2528.8,1554 2528.5,1552.5 2528,1551.3C2527.6,1550.1 2527.2,1548.9 2527,1547.6C2526.7,1546.4 2526.7,1545.1 2526.7,1543.9C2526.7,1542.7 2526.9,1541.5 2526.9,1540.1C2526.8,1538.8 2526.1,1537 2526.4,1535.7C2526.8,1534.4 2528.1,1533.4 2529.1,1532.3C2530,1531.3 2531.1,1530.4 2532.2,1529.6C2533.4,1528.8 2534.6,1527.9 2536,1527.7C2537.3,1527.5 2538.9,1528.3 2540.2,1528.4C2541.6,1528.4 2542.7,1528.1 2544,1528C2545.3,1528 2546.8,1527.8 2548.1,1528.1C2549.4,1528.4 2550.7,1529.1 2551.8,1529.8C2553,1530.5 2554.2,1531.3 2555.2,1532.3C2556.2,1533.3 2557.4,1534.4 2557.7,1535.7C2558,1537.1 2557,1538.9 2557,1540.2C2557,1541.6 2557.9,1542.7 2557.9,1543.9Z M2578.7,1570.2C2579,1571.4 2578.8,1572.7 2578.6,1573.9C2578.3,1575.2 2577.9,1576.4 2577.3,1577.5C2576.8,1578.7 2576.3,1580 2575.5,1580.9C2574.6,1581.8 2573.3,1582.3 2572.3,1583C2571.2,1583.8 2570.3,1585.1 2569.1,1585.2C2567.9,1585.4 2566.3,1583.9 2565.1,1583.9C2563.8,1583.9 2562.8,1584.8 2561.6,1585C2560.4,1585.2 2558.8,1585.6 2557.7,1585.3C2556.5,1584.9 2555.7,1583.6 2554.7,1582.9C2553.6,1582.1 2552,1581.8 2551.4,1580.8C2550.8,1579.8 2551.4,1577.9 2551,1576.7C2550.6,1575.5 2549.2,1574.9 2548.9,1573.8C2548.6,1572.7 2549.1,1571.4 2549,1570.2C2549,1569 2548.6,1567.8 2548.7,1566.6C2548.9,1565.4 2549.2,1564.1 2550,1563.1C2550.7,1562.2 2552.2,1561.9 2553.1,1561.1C2554,1560.3 2554.4,1559.2 2555.3,1558.4C2556.2,1557.7 2557.3,1557.4 2558.3,1556.7C2559.3,1556 2560.3,1554.6 2561.5,1554.3C2562.6,1553.9 2564.1,1554.2 2565.3,1554.6C2566.4,1555.1 2567.2,1556.6 2568.4,1557C2569.6,1557.4 2571.4,1556.6 2572.4,1557.2C2573.3,1557.9 2573.2,1559.9 2573.9,1560.9C2574.7,1561.8 2576.4,1562.1 2576.9,1563.1C2577.5,1564.1 2576.7,1565.7 2577,1566.8C2577.3,1568 2578.5,1569 2578.7,1570.2Z" fill="#9967b1" stroke="#8a57a3" stroke-width="1.2"/><path d="M2520.9,1529.8L2520.3,1531.3L2519.4,1533.3L2518.4,1535.7L2517.3,1538.4L2516.1,1541.2L2515,1544.2L2514.1,1547.2L2513.4,1550L2513.1,1552.9L2513,1555.9L2513,1559L2513.1,1562.1L2513.2,1565.3L2513.2,1568.4L2512.9,1571.4L2512.2,1574.3L2511.1,1577.1L2509.6,1580.1L2507.8,1583L2505.9,1585.9L2504,1588.6L2502.2,1590.9L2500.7,1593L2499.7,1594.5M2520.3,1531.3 l-2.9,-1.2M2519.4,1533.3 l-2.9,-1.3M2518.4,1535.7 l-2.9,-1.3M2517.3,1538.4 l-3,-1.2M2516.1,1541.2 l-3,-1.1M2515,1544.2 l-3,-1M2514.1,1547.2 l-3.1,-0.9M2513.4,1550 l-3.1,-0.6M2513.1,1552.9 l-3.2,-0.3M2513,1555.9 l-3.2,-0M2513,1559 l-3.2,0.1M2513.1,1562.1 l-3.2,0.1M2513.2,1565.3 l-3.2,0M2513.2,1568.4 l-3.2,-0.2M2512.9,1571.4 l-3.2,-0.5M2512.2,1574.3 l-3.1,-0.9M2511.1,1577.1 l-2.9,-1.3M2509.6,1580.1 l-2.8,-1.6M2507.8,1583 l-2.7,-1.7M2505.9,1585.9 l-2.6,-1.8M2504,1588.6 l-2.6,-1.9M2502.2,1590.9 l-2.6,-1.9M2500.7,1593 l-2.6,-1.9M2518.9,1607 L2532,1604.6 C2534.1,1595.5 2544.2,1595.5 2546.2,1601.6 L2558.3,1599.5M2520.9,1607 v5.5M2524.5,1606.4 v5.5M2528.1,1605.8 v5.5M2531.7,1605.2 v5.5M2547.7,1601.6 v5.5M2551,1601.1 v5.5M2554.3,1600.6 v5.5M2557.6,1600.1 v5.5" fill="none" stroke="#c254c4" stroke-width="1.1"/>
<g fill="none" stroke="#151515" stroke-width="5.2" stroke-linecap="butt"><path d="M2187.7,1396 C2215,1318 2262,1296 2296,1318 C2322,1336 2340,1362 2350,1382"/><path d="M2315,1616.2 C2338,1652 2366,1666 2392,1660 C2420,1652 2434,1622 2438,1596"/><path d="M2546.3,1433.3 C2615,1398 2700,1396 2771.8,1431.6"/><path d="M2778.6,1418.2 L2765.4,1444.6" stroke-width="5.4"/></g><path d="M2361.2,1398.4 L2341.2,1384.3 L2360.4,1373.2Z" fill="#151515"/><path d="M2442.7,1573.5 L2427.7,1596 L2451.8,1598.6Z" fill="#151515"/>
<path d="M2966.6,1287.4C2970.1,1287.8 2978.7,1292.7 2985.8,1294.3C2992.8,1295.9 3002.4,1293.7 3008.8,1296.9C3015.2,1300.1 3019.5,1308.8 3024.2,1313.5C3028.9,1318.2 3032.9,1322.1 3037,1325C3041,1328 3046.4,1327.8 3048.5,1331.4C3050.6,1335.1 3050.2,1341.3 3049.8,1346.8C3049.4,1352.4 3045.3,1359.6 3045.9,1364.7C3046.6,1369.8 3052.8,1372.4 3053.6,1377.5C3054.5,1382.6 3052.8,1389.7 3051.1,1395.4C3049.4,1401.2 3044.2,1406.5 3043.4,1412.1C3042.5,1417.6 3047,1423 3045.9,1428.7C3044.9,1434.5 3040.6,1442.4 3037,1446.7C3033.4,1450.9 3028,1450.9 3024.2,1454.3C3020.3,1457.7 3018.2,1464.1 3013.9,1467.1C3009.7,1470.1 3003.3,1470.1 2998.6,1472.3C2993.9,1474.4 2990.5,1479.5 2985.8,1479.9C2981.1,1480.4 2974.7,1475.2 2970.4,1474.8C2966.1,1474.4 2964.4,1475 2960.2,1477.4C2955.9,1479.7 2949.9,1487.6 2944.8,1488.9C2939.7,1490.2 2934.1,1487.8 2929.5,1485.1C2924.8,1482.3 2920.9,1474 2916.7,1472.3C2912.4,1470.5 2907.7,1475.7 2903.9,1474.8C2900,1474 2895.7,1471.4 2893.6,1467.1C2891.5,1462.9 2893.6,1453.9 2891,1449.2C2888.5,1444.5 2882.3,1442.4 2878.2,1439C2874.2,1435.6 2868.9,1433 2866.7,1428.7C2864.6,1424.5 2867.8,1417.2 2865.4,1413.4C2863.1,1409.5 2855.6,1409.5 2852.6,1405.7C2849.7,1401.8 2847.5,1395.9 2847.5,1390.3C2847.5,1384.8 2851.2,1378.4 2852.6,1372.4C2854.1,1366.4 2855.1,1359.3 2856.5,1354.5C2857.9,1349.7 2859.3,1345.4 2860.8,1343.7C2862.4,1342.1 2863.9,1342.5 2866,1344.8C2868,1347 2869.4,1353.3 2873.1,1357C2876.9,1360.8 2881.7,1365.2 2888.5,1367.3C2895.3,1369.4 2905.6,1370.7 2914.1,1369.8C2922.6,1369 2932.4,1366 2939.7,1362.2C2946.9,1358.3 2952.5,1353.6 2957.6,1346.8C2962.7,1340 2968.5,1328.5 2970.4,1321.2C2972.3,1313.9 2970.1,1308.2 2969.1,1303.3C2968.2,1298.4 2965.2,1294.4 2964.8,1291.8C2964.4,1289.1 2963.1,1287 2966.6,1287.4Z" fill="#fdf0c7" stroke="#c98f3c" stroke-width="2.2" stroke-linejoin="round"/><path d="M2970.4,1362.7C2977.7,1362 2986.8,1362.7 2993.5,1366C3000.1,1369.3 3006.8,1376 3010.1,1382.6C3013.4,1389.3 3014.5,1398 3013.4,1405.7C3012.4,1413.4 3008.7,1422.5 3003.7,1428.7C2998.7,1434.9 2990.9,1440.3 2983.2,1442.8C2975.5,1445.4 2965.3,1446 2957.6,1444.1C2949.9,1442.2 2942.2,1437.1 2937.1,1431.3C2932.1,1425.5 2927.8,1417.2 2927.4,1409.5C2927,1401.8 2930.8,1391.8 2934.6,1385.2C2938.3,1378.6 2944,1373.6 2949.9,1369.8C2955.9,1366.1 2963.2,1363.3 2970.4,1362.7Z" fill="#e6c089" stroke="#c99a5c" stroke-width="1.5"/><circle cx="3006.3" cy="1339.1" r="7.7" fill="#fef8e2" stroke="#fbe8bd" stroke-width="1"/><circle cx="2879.5" cy="1399.3" r="7.7" fill="#fef8e2" stroke="#fbe8bd" stroke-width="1"/><circle cx="3022.9" cy="1390.3" r="5.6" fill="#fef8e2" stroke="#fbe8bd" stroke-width="1"/><circle cx="2981.9" cy="1454.3" r="6.4" fill="#fef8e2" stroke="#fbe8bd" stroke-width="1"/><circle cx="2978.9" cy="1351.4" r="3.1" fill="#fef8e2" stroke="#fbe8bd" stroke-width="1"/><circle cx="2920" cy="1381.4" r="3.1" fill="#fef8e2" stroke="#fbe8bd" stroke-width="1"/><circle cx="3016.5" cy="1359.6" r="2.6" fill="#f8d9ae"/><circle cx="3017.8" cy="1419.8" r="2" fill="#f8d9ae"/><circle cx="2917.9" cy="1446.1" r="2.3" fill="#f8d9ae"/><circle cx="2964" cy="1466.6" r="2.3" fill="#f8d9ae"/><circle cx="2999.3" cy="1458.7" r="2" fill="#f8d9ae"/><circle cx="2870.6" cy="1382.1" r="1.8" fill="#f8d9ae"/><circle cx="3035.7" cy="1379.6" r="1.8" fill="#f8d9ae"/><circle cx="2944" cy="1442.8" r="1.8" fill="#f8d9ae"/><circle cx="3018.5" cy="1324.3" r="1.3" fill="#f8d9ae"/><circle cx="2980.7" cy="1327.6" r="1" fill="#f8d9ae"/><circle cx="2985" cy="1306.4" r="1" fill="#f8d9ae"/><circle cx="2911" cy="1409" r="1" fill="#f8d9ae"/>
<ellipse cx="2833.2" cy="1557" rx="72.2" ry="76" fill="#edb3d5" stroke="#a55a8c" stroke-width="1.8"/><path d="M2795,1515.8C2796.1,1512.4 2795.3,1505.7 2798.9,1503C2802.5,1500.2 2811.9,1497.9 2816.8,1499.1C2821.7,1500.4 2826.2,1506.6 2828.3,1510.7C2830.5,1514.7 2831.1,1520 2829.6,1523.5C2828.1,1526.9 2823.2,1530.1 2819.4,1531.1C2815.5,1532.2 2810.2,1529.6 2806.6,1529.9C2802.9,1530.1 2799.5,1530.5 2797.6,1532.4C2795.7,1534.3 2794,1538.6 2795,1541.4C2796.1,1544.2 2800.4,1546.9 2804,1549.1C2807.6,1551.2 2813.6,1551.6 2816.8,1554.2C2820,1556.7 2822.4,1559.3 2823.2,1564.4C2824.1,1569.5 2821.5,1579.8 2821.9,1584.9C2822.4,1590 2823.8,1593.2 2825.8,1595.1C2827.7,1597.1 2831.3,1597.3 2833.4,1596.4C2835.6,1595.6 2837.3,1592.6 2838.6,1590C2839.8,1587.5 2838.8,1583.6 2841.1,1581.1C2843.5,1578.5 2848.6,1574.9 2852.6,1574.7C2856.7,1574.4 2862.5,1576.8 2865.4,1579.8C2868.3,1582.8 2870.9,1588.5 2870.1,1592.6C2869.2,1596.6 2864.9,1601.8 2860.3,1604.1C2855.7,1606.4 2848,1607.3 2842.4,1606.7C2836.9,1606 2832.6,1602 2827,1600.3C2821.5,1598.6 2814.7,1598.1 2809.1,1596.4C2803.6,1594.7 2797.7,1593.6 2793.8,1590C2789.8,1586.4 2786.4,1580.6 2785.6,1574.7C2784.7,1568.7 2787.5,1560.6 2788.6,1554.2C2789.8,1547.8 2791.8,1541.4 2792.5,1536.3C2793.1,1531.1 2792.1,1526.9 2792.5,1523.5C2792.9,1520 2794,1519.2 2795,1515.8Z" fill="#cb7eb0" stroke="#b4669b" stroke-width="1.3"/><circle cx="2815.5" cy="1494.8" r="1.5" fill="#c96bab"/><circle cx="2840.6" cy="1505.5" r="1.3" fill="#c96bab"/><circle cx="2857.8" cy="1519.6" r="1.3" fill="#c96bab"/><circle cx="2779.7" cy="1526.8" r="1.8" fill="#c96bab"/><circle cx="2848" cy="1533.7" r="2" fill="#c96bab"/><circle cx="2863.4" cy="1536.8" r="2.6" fill="#c96bab"/><circle cx="2878.2" cy="1535" r="1.3" fill="#c96bab"/><circle cx="2832.7" cy="1543.4" r="2" fill="#c96bab"/><circle cx="2821.9" cy="1550.3" r="2" fill="#c96bab"/><circle cx="2870.6" cy="1554.2" r="2" fill="#c96bab"/><circle cx="2781" cy="1552.9" r="1.3" fill="#c96bab"/><circle cx="2852.1" cy="1567.7" r="2.6" fill="#c96bab"/><circle cx="2883.4" cy="1564.4" r="1.3" fill="#c96bab"/><circle cx="2777.9" cy="1575.2" r="1.8" fill="#c96bab"/><circle cx="2832.7" cy="1582.3" r="1.3" fill="#c96bab"/><circle cx="2874.4" cy="1579" r="1.3" fill="#c96bab"/><circle cx="2886.7" cy="1589.5" r="1.3" fill="#c96bab"/><circle cx="2808.6" cy="1604.9" r="1.3" fill="#c96bab"/><circle cx="2828.8" cy="1619.5" r="1.3" fill="#c96bab"/><circle cx="2855.7" cy="1617.4" r="1.3" fill="#c96bab"/><circle cx="2831.7" cy="1533.2" r="1.3" fill="#c96bab"/>
<g transform="translate(0,0)"><path d="M2098,1495C2100.9,1495.5 2109.4,1498.4 2115.5,1497.7C2121.6,1497 2128.2,1493.8 2134.3,1490.9C2140.4,1488 2146.3,1484 2151.9,1480.2C2157.5,1476.4 2163.5,1471.3 2168,1468C2172.5,1464.7 2177,1461.8 2178.8,1460.6 M2143.8,1396.6C2143,1399.8 2140.6,1409.2 2139.1,1415.5C2137.6,1421.8 2136.7,1428.2 2135,1434.3C2133.3,1440.4 2131.5,1446.3 2128.9,1451.9C2126.3,1457.5 2123.5,1462.8 2119.5,1468C2115.5,1473.2 2109.6,1478 2104.7,1482.9C2099.8,1487.9 2095.1,1493 2089.9,1497.7C2084.7,1502.4 2079.4,1507.3 2073.7,1511.2C2068,1515.1 2058.5,1519.4 2055.5,1521" fill="none" stroke="#a68869" stroke-width="10.8" stroke-linecap="round" stroke-linejoin="round"/><path d="M2098,1495C2100.9,1495.5 2109.4,1498.4 2115.5,1497.7C2121.6,1497 2128.2,1493.8 2134.3,1490.9C2140.4,1488 2146.3,1484 2151.9,1480.2C2157.5,1476.4 2163.5,1471.3 2168,1468C2172.5,1464.7 2177,1461.8 2178.8,1460.6 M2143.8,1396.6C2143,1399.8 2140.6,1409.2 2139.1,1415.5C2137.6,1421.8 2136.7,1428.2 2135,1434.3C2133.3,1440.4 2131.5,1446.3 2128.9,1451.9C2126.3,1457.5 2123.5,1462.8 2119.5,1468C2115.5,1473.2 2109.6,1478 2104.7,1482.9C2099.8,1487.9 2095.1,1493 2089.9,1497.7C2084.7,1502.4 2079.4,1507.3 2073.7,1511.2C2068,1515.1 2058.5,1519.4 2055.5,1521" fill="none" stroke="#b99a7b" stroke-width="9.2" stroke-linecap="round" stroke-linejoin="round"/><circle cx="2181.5" cy="1459.3" r="6" fill="#b99a7b" stroke="#a68869" stroke-width=".9"/><ellipse cx="2180.3" cy="1457.6" rx="2.6" ry="1.8" fill="#cbb191"/><circle cx="2080.4" cy="1497.7" r="4.7" fill="#b99a7b" stroke="#a68869" stroke-width=".9"/><path d="M2135.9,1409.2 L2144.8,1411.4 M2132.6,1424.1 L2141.6,1425.9 M2129.3,1437.5 L2138.1,1440.1 M2124.7,1450 L2133.1,1453.8 M2117.6,1462.8 L2125.2,1468 M2109.3,1472.2 L2115.6,1478.9 M2097.7,1483.4 L2104.3,1489.8 M2088,1493.2 L2094.3,1499.9 M2077.7,1502.4 L2083.6,1509.4 M2066.6,1510.1 L2071.1,1518.2 M2112.1,1502.4 L2112.5,1493.2 M2129.9,1498 L2126.2,1489.6 M2144.2,1490.7 L2139.4,1482.9 M2157.4,1481.9 L2152,1474.5 M2168.4,1473.4 L2162.8,1466.1 " stroke="#a68869" stroke-width="1" fill="none" opacity=".8"/><g fill="#6f5540"><circle cx="2142.1" cy="1403.1" r="1.35"/><circle cx="2138.7" cy="1417.1" r="1.35"/><circle cx="2135.8" cy="1431.2" r="1.35"/><circle cx="2131.3" cy="1446.2" r="1.35"/><circle cx="2125.5" cy="1458.8" r="1.35"/><circle cx="2117.3" cy="1470.6" r="1.35"/><circle cx="2107.2" cy="1480.4" r="1.35"/><circle cx="2096.2" cy="1491.6" r="1.35"/><circle cx="2086" cy="1501.3" r="1.35"/><circle cx="2075.1" cy="1510.2" r="1.35"/><circle cx="2061.9" cy="1517.8" r="1.35"/><circle cx="2105.6" cy="1496.8" r="1.35"/><circle cx="2120.1" cy="1496.8" r="1.35"/><circle cx="2134.3" cy="1490.9" r="1.35"/><circle cx="2147.6" cy="1483.1" r="1.35"/><circle cx="2160.4" cy="1473.9" r="1.35"/><circle cx="2172.4" cy="1464.9" r="1.35"/></g><ellipse cx="2147.1" cy="1379.1" rx="18.8" ry="21.4" fill="#b99a7b" stroke="#a68869" stroke-width="1.2"/><ellipse cx="2141.8" cy="1371.5" rx="5.6" ry="8" fill="#cdb495" transform="rotate(22 2141.8 1371.5)"/><path d="M2143.9,1396.6 L2142.2,1403" stroke="#b99a7b" stroke-width="9.2" stroke-linecap="round"/><path d="M2139.6,1396.2 Q2144,1391.5 2148.4,1397" fill="none" stroke="#a68869" stroke-width=".9"/></g>
<g transform="translate(252.1,518)"><path d="M2098,1495C2100.9,1495.5 2109.4,1498.4 2115.5,1497.7C2121.6,1497 2128.2,1493.8 2134.3,1490.9C2140.4,1488 2146.3,1484 2151.9,1480.2C2157.5,1476.4 2163.5,1471.3 2168,1468C2172.5,1464.7 2177,1461.8 2178.8,1460.6 M2143.8,1396.6C2143,1399.8 2140.6,1409.2 2139.1,1415.5C2137.6,1421.8 2136.7,1428.2 2135,1434.3C2133.3,1440.4 2131.5,1446.3 2128.9,1451.9C2126.3,1457.5 2123.5,1462.8 2119.5,1468C2115.5,1473.2 2109.6,1478 2104.7,1482.9C2099.8,1487.9 2095.1,1493 2089.9,1497.7C2084.7,1502.4 2079.4,1507.3 2073.7,1511.2C2068,1515.1 2058.5,1519.4 2055.5,1521" fill="none" stroke="#a68869" stroke-width="10.8" stroke-linecap="round" stroke-linejoin="round"/><path d="M2098,1495C2100.9,1495.5 2109.4,1498.4 2115.5,1497.7C2121.6,1497 2128.2,1493.8 2134.3,1490.9C2140.4,1488 2146.3,1484 2151.9,1480.2C2157.5,1476.4 2163.5,1471.3 2168,1468C2172.5,1464.7 2177,1461.8 2178.8,1460.6 M2143.8,1396.6C2143,1399.8 2140.6,1409.2 2139.1,1415.5C2137.6,1421.8 2136.7,1428.2 2135,1434.3C2133.3,1440.4 2131.5,1446.3 2128.9,1451.9C2126.3,1457.5 2123.5,1462.8 2119.5,1468C2115.5,1473.2 2109.6,1478 2104.7,1482.9C2099.8,1487.9 2095.1,1493 2089.9,1497.7C2084.7,1502.4 2079.4,1507.3 2073.7,1511.2C2068,1515.1 2058.5,1519.4 2055.5,1521" fill="none" stroke="#b99a7b" stroke-width="9.2" stroke-linecap="round" stroke-linejoin="round"/><circle cx="2181.5" cy="1459.3" r="6" fill="#b99a7b" stroke="#a68869" stroke-width=".9"/><ellipse cx="2180.3" cy="1457.6" rx="2.6" ry="1.8" fill="#cbb191"/><circle cx="2080.4" cy="1497.7" r="4.7" fill="#b99a7b" stroke="#a68869" stroke-width=".9"/><path d="M2135.9,1409.2 L2144.8,1411.4 M2132.6,1424.1 L2141.6,1425.9 M2129.3,1437.5 L2138.1,1440.1 M2124.7,1450 L2133.1,1453.8 M2117.6,1462.8 L2125.2,1468 M2109.3,1472.2 L2115.6,1478.9 M2097.7,1483.4 L2104.3,1489.8 M2088,1493.2 L2094.3,1499.9 M2077.7,1502.4 L2083.6,1509.4 M2066.6,1510.1 L2071.1,1518.2 M2112.1,1502.4 L2112.5,1493.2 M2129.9,1498 L2126.2,1489.6 M2144.2,1490.7 L2139.4,1482.9 M2157.4,1481.9 L2152,1474.5 M2168.4,1473.4 L2162.8,1466.1 " stroke="#a68869" stroke-width="1" fill="none" opacity=".8"/><g fill="#6f5540"><circle cx="2142.1" cy="1403.1" r="1.35"/><circle cx="2138.7" cy="1417.1" r="1.35"/><circle cx="2135.8" cy="1431.2" r="1.35"/><circle cx="2131.3" cy="1446.2" r="1.35"/><circle cx="2125.5" cy="1458.8" r="1.35"/><circle cx="2117.3" cy="1470.6" r="1.35"/><circle cx="2107.2" cy="1480.4" r="1.35"/><circle cx="2096.2" cy="1491.6" r="1.35"/><circle cx="2086" cy="1501.3" r="1.35"/><circle cx="2075.1" cy="1510.2" r="1.35"/><circle cx="2061.9" cy="1517.8" r="1.35"/><circle cx="2105.6" cy="1496.8" r="1.35"/><circle cx="2120.1" cy="1496.8" r="1.35"/><circle cx="2134.3" cy="1490.9" r="1.35"/><circle cx="2147.6" cy="1483.1" r="1.35"/><circle cx="2160.4" cy="1473.9" r="1.35"/><circle cx="2172.4" cy="1464.9" r="1.35"/></g><ellipse cx="2147.1" cy="1379.1" rx="18.8" ry="21.4" fill="#b99a7b" stroke="#a68869" stroke-width="1.2"/><ellipse cx="2141.8" cy="1371.5" rx="5.6" ry="8" fill="#cdb495" transform="rotate(22 2141.8 1371.5)"/><path d="M2143.9,1396.6 L2142.2,1403" stroke="#b99a7b" stroke-width="9.2" stroke-linecap="round"/><path d="M2139.6,1396.2 Q2144,1391.5 2148.4,1397" fill="none" stroke="#a68869" stroke-width=".9"/></g>
<g transform="translate(2245.5,1577.4) rotate(-28) scale(1.1)"><path d="M-50,-1C-51.2,-1.2 -54.9,-2.5 -57.3,-2.5C-59.8,-2.5 -62.2,-2.1 -64.7,-1.2C-67.1,-0.3 -69.6,3 -72,2.9C-74.5,2.9 -76.9,0.1 -79.3,-1.3C-81.8,-2.8 -84.2,-5.6 -86.6,-5.6C-89.1,-5.6 -91.5,-2.9 -94,-1.5C-96.5,-0.1 -98.9,2.6 -101.4,2.6C-103.8,2.6 -106.2,-0.2 -108.7,-1.7C-111.1,-3.1 -113.5,-5.9 -116,-5.9C-118.4,-6 -120.9,-3.2 -123.3,-1.8C-125.8,-0.5 -128.3,2.3 -130.7,2.3C-133.2,2.3 -136.8,-1.3 -138,-2 M-50,2C-51.4,1.9 -55.5,1.1 -58.1,1.5C-60.8,2 -63.3,3.8 -65.9,4.8C-68.5,5.9 -70.9,8.2 -73.7,7.9C-76.4,7.6 -79.4,4 -82.2,3C-85,2 -87.7,1.2 -90.3,2.1C-92.9,3 -95.3,7 -97.8,8.5C-100.4,10 -102.9,11.3 -105.7,10.9C-108.4,10.5 -111.4,7 -114.2,6C-117,5 -119.7,4.2 -122.3,5.1C-124.9,6 -127.3,10 -129.8,11.5C-132.4,13 -134.9,14.3 -137.7,13.9C-140.4,13.5 -144.8,9.8 -146.2,9 M-49,5C-50.2,5.2 -54.1,5.1 -56.4,6.1C-58.8,7.1 -60.6,9.9 -62.9,11C-65.2,12.1 -67.5,13 -70.2,12.7C-72.9,12.4 -76.3,9 -78.9,8.9C-81.5,8.8 -83.7,10.2 -85.8,12C-87.9,13.7 -89.4,18.1 -91.6,19.4C-93.9,20.8 -96.5,20.6 -99.2,20C-101.9,19.5 -105.3,16.4 -107.9,16.2C-110.5,16.1 -112.7,17.5 -114.8,19.3C-116.9,21.1 -118.4,25.4 -120.6,26.8C-122.9,28.1 -125.5,27.9 -128.2,27.4C-130.9,26.8 -135.4,24.2 -136.9,23.6 M-5,19.2 C-25,29.2 -40,23.2 -55,31.2 S-80,29.2 -100,41.2 M-25,-19.2 C-40,-28.2 -50,-22.2 -62,-29.2 S-80,-28.2 -92,-35.2" fill="none" stroke="#a57e77" stroke-width="0.8" stroke-linecap="round" opacity=".9"/><path d="M12.9,19.2 q1.8,3.5 1.4,7 M38.4,-19.2 q1.1,-3.6 -1.5,-7.2 M-35.6,-19.2 q-0.1,-1.8 -1.5,-3.6 M6.2,-19.2 q-1.1,-1.5 -1.3,-3.1 M37.9,19.2 q1.2,1.9 -2.2,3.8 M12.5,-19.2 q1.9,-1.8 -3,-3.7 M25.8,-19.2 q-0.8,-3.7 2.8,-7.4 M5.8,-19.2 q1.9,-2 -1.8,-3.9 M42,19.2 q-0.6,2.2 -2,4.5 M-27.6,-19.2 q1.3,-2.3 0.5,-4.7 M10.7,19.2 q-0.6,1.7 -1.2,3.3 M19.2,-19.2 q0.8,-2.7 -2.7,-5.4 M42.9,-19.2 q-0.6,-3.9 -0.6,-7.7 M6.7,19.2 q0.3,2.4 -2.9,4.8" fill="none" stroke="#a57e77" stroke-width="0.7" stroke-linecap="round" opacity=".7"/><rect x="-50" y="-19.2" width="100" height="38.3" rx="19.2" fill="#e8c84f" stroke="#7b4a40" stroke-width="1.5"/><rect x="-47" y="-16.2" width="94" height="32.3" rx="16.2" fill="#fdeeb5"/><path d="M-30,0C-30,0.4 -29.8,1.8 -29.8,2.6C-29.9,3.5 -30,4.3 -30.3,5.1C-30.5,5.8 -30.8,6.5 -31.2,7.1C-31.5,7.6 -32,8.1 -32.4,8.3C-32.9,8.6 -33.4,8.7 -33.8,8.7C-34.2,8.6 -34.7,8.4 -35.1,8.1C-35.5,7.7 -35.8,7.2 -36.1,6.5C-36.4,5.8 -36.6,5 -36.7,4.1C-36.7,3.3 -36.7,2.3 -36.6,1.3C-36.5,0.3 -36.3,-0.8 -36,-1.8C-35.7,-2.8 -35.2,-3.8 -34.7,-4.7C-34.2,-5.5 -33.6,-6.4 -32.9,-7C-32.3,-7.6 -31.5,-8.2 -30.8,-8.5C-30,-8.8 -29.2,-8.9 -28.4,-8.9C-27.7,-8.8 -26.9,-8.6 -26.1,-8.2C-25.4,-7.8 -24.7,-7.1 -24.1,-6.4C-23.5,-5.7 -22.9,-4.7 -22.4,-3.8C-22,-2.8 -21.6,-1.6 -21.4,-0.5C-21.1,0.6 -21,1.8 -20.9,2.9C-20.9,4 -20.9,5.1 -21.1,6.1C-21.2,7.1 -21.5,8 -21.8,8.7C-22.1,9.4 -22.5,10 -22.9,10.4C-23.3,10.8 -23.8,11.1 -24.2,11.1C-24.7,11.1 -25.2,10.9 -25.6,10.6C-26,10.2 -26.4,9.7 -26.8,9C-27.1,8.3 -27.4,7.5 -27.5,6.6C-27.7,5.7 -27.8,4.6 -27.8,3.6C-27.8,2.5 -27.7,1.4 -27.4,0.4C-27.2,-0.6 -26.9,-1.7 -26.4,-2.6C-26,-3.5 -25.5,-4.3 -24.9,-5C-24.3,-5.7 -23.6,-6.2 -22.9,-6.6C-22.2,-7 -21.4,-7.2 -20.6,-7.3C-19.8,-7.3 -19,-7.2 -18.3,-6.9C-17.5,-6.6 -16.7,-6.1 -16.1,-5.6C-15.4,-5 -14.8,-4.3 -14.2,-3.5C-13.7,-2.7 -13.2,-1.8 -12.9,-1C-12.5,-0.1 -12.3,0.8 -12.1,1.7C-12,2.6 -11.9,3.5 -12,4.2C-12.1,5 -12.2,5.7 -12.5,6.3C-12.7,6.9 -13,7.4 -13.4,7.7C-13.8,8.1 -14.2,8.3 -14.7,8.4C-15.1,8.5 -15.6,8.4 -16.1,8.2C-16.5,8 -17,7.7 -17.3,7.3C-17.7,6.9 -18.1,6.3 -18.3,5.8C-18.6,5.2 -18.8,4.5 -18.8,3.8C-18.9,3.2 -18.9,2.4 -18.8,1.7C-18.6,1 -18.4,0.3 -18.1,-0.3C-17.7,-0.9 -17.3,-1.5 -16.7,-2C-16.2,-2.5 -15.6,-3 -14.9,-3.3C-14.3,-3.6 -13.5,-3.9 -12.8,-4C-12,-4.1 -11.2,-4.2 -10.4,-4.1C-9.6,-4 -8.8,-3.8 -8.1,-3.6C-7.4,-3.3 -6.7,-3 -6.1,-2.6C-5.5,-2.2 -4.9,-1.7 -4.5,-1.2C-4.1,-0.7 -3.7,-0.1 -3.5,0.5C-3.2,1 -3.1,1.6 -3.1,2.1C-3,2.7 -3.1,3.2 -3.3,3.6C-3.4,4.1 -3.7,4.5 -4,4.9C-4.3,5.2 -4.7,5.5 -5.1,5.6C-5.6,5.8 -6,5.9 -6.5,5.9C-7,5.9 -7.4,5.8 -7.9,5.6C-8.3,5.4 -8.7,5.1 -9,4.8C-9.3,4.4 -9.6,3.9 -9.7,3.4C-9.9,2.9 -10,2.4 -9.9,1.8C-9.9,1.2 -9.8,0.5 -9.5,-0.1C-9.3,-0.7 -8.9,-1.3 -8.5,-1.9C-8.1,-2.5 -7.5,-3.1 -6.9,-3.6C-6.3,-4 -5.6,-4.5 -4.9,-4.8C-4.2,-5.1 -3.4,-5.4 -2.6,-5.5C-1.8,-5.6 -1,-5.6 -0.2,-5.5C0.5,-5.4 1.3,-5.2 1.9,-4.9C2.6,-4.5 3.2,-4.1 3.7,-3.6C4.3,-3 4.7,-2.4 5.1,-1.7C5.4,-1.1 5.6,-0.3 5.8,0.4C5.9,1.2 5.9,2 5.8,2.7C5.8,3.4 5.6,4.2 5.3,4.8C5.1,5.4 4.7,6 4.3,6.4C4,6.8 3.5,7.2 3.1,7.3C2.6,7.5 2.1,7.6 1.7,7.4C1.2,7.3 0.8,7 0.4,6.6C0,6.2 -0.3,5.6 -0.5,5C-0.8,4.3 -0.9,3.5 -1,2.6C-1.1,1.7 -1,0.7 -0.9,-0.2C-0.7,-1.2 -0.5,-2.3 -0.1,-3.2C0.2,-4.2 0.7,-5.2 1.2,-6C1.8,-6.8 2.4,-7.6 3.1,-8.2C3.7,-8.9 4.5,-9.4 5.3,-9.7C6,-10 6.8,-10.1 7.6,-10.1C8.4,-10 9.2,-9.8 9.9,-9.4C10.6,-9 11.3,-8.4 11.9,-7.6C12.5,-6.9 13,-6 13.4,-5.1C13.9,-4.1 14.2,-3 14.4,-2C14.7,-0.9 14.8,0.2 14.8,1.3C14.8,2.3 14.7,3.4 14.5,4.3C14.4,5.3 14.1,6.1 13.8,6.8C13.4,7.5 13,8 12.6,8.3C12.2,8.7 11.7,8.8 11.2,8.8C10.8,8.7 10.3,8.5 9.9,8.1C9.5,7.7 9.1,7 8.8,6.3C8.5,5.6 8.2,4.6 8.1,3.7C7.9,2.7 7.9,1.6 7.9,0.5C8,-0.6 8.1,-1.8 8.4,-2.9C8.6,-3.9 9,-5 9.4,-6C9.9,-6.9 10.5,-7.8 11.1,-8.5C11.7,-9.2 12.4,-9.8 13.1,-10.1C13.9,-10.5 14.7,-10.7 15.4,-10.7C16.2,-10.7 17,-10.6 17.8,-10.2C18.5,-9.9 19.3,-9.4 19.9,-8.7C20.6,-8.1 21.2,-7.3 21.7,-6.5C22.2,-5.6 22.7,-4.7 23,-3.7C23.3,-2.8 23.5,-1.8 23.6,-0.8C23.7,0.1 23.7,1.1 23.7,1.9C23.6,2.7 23.4,3.5 23.1,4.1C22.8,4.7 22.5,5.2 22.1,5.5C21.7,5.9 21.2,6.1 20.8,6.1C20.4,6.2 19.9,6.1 19.4,5.8C19,5.6 18.5,5.2 18.2,4.7C17.8,4.3 17.5,3.6 17.3,3C17,2.3 16.9,1.6 16.8,0.8C16.8,0.1 17,-1.1 17,-1.4 M-36,-4 L-29,0 M28,-2 L40,-7" fill="none" stroke="#e3c23e" stroke-width="1.1" stroke-linecap="round"/><g fill="#7a6a7a" opacity=".7"><circle cx="-34.4" cy="-8.4" r="0.8"/><circle cx="36.5" cy="-8" r="0.8"/><circle cx="20.9" cy="11.3" r="0.8"/><circle cx="35.5" cy="-4.1" r="0.8"/><circle cx="-10.3" cy="0.7" r="0.8"/><circle cx="22.5" cy="-10.3" r="0.8"/><circle cx="20.4" cy="7.8" r="0.8"/><circle cx="29.1" cy="-12.2" r="0.8"/><circle cx="35.8" cy="-10.8" r="0.8"/><circle cx="-11.4" cy="2.9" r="0.8"/></g></g><g transform="translate(2210.2,1949.4) rotate(-42.5) scale(1.2)"><path d="M-50,-1C-51.2,-1.2 -54.9,-2.5 -57.3,-2.5C-59.8,-2.5 -62.2,-2.1 -64.7,-1.2C-67.1,-0.3 -69.6,3 -72,2.9C-74.5,2.9 -76.9,0.1 -79.3,-1.3C-81.8,-2.8 -84.2,-5.6 -86.6,-5.6C-89.1,-5.6 -91.5,-2.9 -94,-1.5C-96.5,-0.1 -98.9,2.6 -101.4,2.6C-103.8,2.6 -106.2,-0.2 -108.7,-1.7C-111.1,-3.1 -113.5,-5.9 -116,-5.9C-118.4,-6 -120.9,-3.2 -123.3,-1.8C-125.8,-0.5 -128.3,2.3 -130.7,2.3C-133.2,2.3 -136.8,-1.3 -138,-2 M-50,2C-51.4,1.9 -55.5,1.1 -58.1,1.5C-60.8,2 -63.3,3.8 -65.9,4.8C-68.5,5.9 -70.9,8.2 -73.7,7.9C-76.4,7.6 -79.4,4 -82.2,3C-85,2 -87.7,1.2 -90.3,2.1C-92.9,3 -95.3,7 -97.8,8.5C-100.4,10 -102.9,11.3 -105.7,10.9C-108.4,10.5 -111.4,7 -114.2,6C-117,5 -119.7,4.2 -122.3,5.1C-124.9,6 -127.3,10 -129.8,11.5C-132.4,13 -134.9,14.3 -137.7,13.9C-140.4,13.5 -144.8,9.8 -146.2,9 M-49,5C-50.2,5.2 -54.1,5.1 -56.4,6.1C-58.8,7.1 -60.6,9.9 -62.9,11C-65.2,12.1 -67.5,13 -70.2,12.7C-72.9,12.4 -76.3,9 -78.9,8.9C-81.5,8.8 -83.7,10.2 -85.8,12C-87.9,13.7 -89.4,18.1 -91.6,19.4C-93.9,20.8 -96.5,20.6 -99.2,20C-101.9,19.5 -105.3,16.4 -107.9,16.2C-110.5,16.1 -112.7,17.5 -114.8,19.3C-116.9,21.1 -118.4,25.4 -120.6,26.8C-122.9,28.1 -125.5,27.9 -128.2,27.4C-130.9,26.8 -135.4,24.2 -136.9,23.6 M-5,18.6 C-25,28.6 -40,22.6 -55,30.6 S-80,28.6 -100,40.6 M-25,-18.6 C-40,-27.6 -50,-21.6 -62,-28.6 S-80,-27.6 -92,-34.6" fill="none" stroke="#a57e77" stroke-width="0.7" stroke-linecap="round" opacity=".9"/><path d="M27.4,-18.6 q-1,-2.7 -3,-5.4 M16.3,18.6 q0.9,3.9 -1.1,7.8 M-38.1,18.6 q0.9,3.5 -0.5,7 M5.8,-18.6 q0.2,-2 1.8,-4 M-17.4,-18.6 q-0.7,-3.6 -2.4,-7.2 M28,18.6 q-1.6,2.6 -1.8,5.2 M14,18.6 q-1.8,1.7 2.4,3.5 M30.4,18.6 q1.3,2.7 -1.8,5.4 M9,-18.6 q-1,-3.1 -0.4,-6.2 M-9.6,-18.6 q1.5,-1.7 0.2,-3.4 M-30.1,18.6 q-1.2,2.3 -0.1,4.6 M-28.3,-18.6 q1.5,-3.6 0.1,-7.2 M-24,-18.6 q-0.7,-1.5 2.4,-3.1 M12.7,18.6 q0.1,2.4 -1.3,4.9" fill="none" stroke="#a57e77" stroke-width="0.6" stroke-linecap="round" opacity=".7"/><rect x="-50" y="-18.6" width="100" height="37.3" rx="18.6" fill="#e8c84f" stroke="#7b4a40" stroke-width="1.3"/><rect x="-47.4" y="-16" width="94.8" height="32.1" rx="16" fill="#fdeeb5"/><path d="M-30,0C-30,0.4 -29.8,1.7 -29.8,2.6C-29.9,3.4 -30,4.2 -30.3,4.9C-30.5,5.7 -30.8,6.4 -31.2,6.9C-31.5,7.4 -32,7.9 -32.4,8.1C-32.9,8.4 -33.4,8.5 -33.8,8.5C-34.2,8.4 -34.7,8.2 -35.1,7.9C-35.5,7.5 -35.8,7 -36.1,6.3C-36.4,5.7 -36.6,4.9 -36.7,4C-36.7,3.2 -36.7,2.2 -36.6,1.2C-36.5,0.3 -36.3,-0.8 -36,-1.7C-35.7,-2.7 -35.2,-3.7 -34.7,-4.5C-34.2,-5.4 -33.6,-6.2 -32.9,-6.8C-32.3,-7.4 -31.5,-7.9 -30.8,-8.2C-30,-8.5 -29.2,-8.7 -28.4,-8.6C-27.7,-8.6 -26.9,-8.3 -26.1,-7.9C-25.4,-7.5 -24.7,-6.9 -24.1,-6.2C-23.5,-5.5 -22.9,-4.6 -22.4,-3.6C-22,-2.7 -21.6,-1.6 -21.4,-0.5C-21.1,0.6 -21,1.8 -20.9,2.8C-20.9,3.9 -20.9,5 -21.1,6C-21.2,6.9 -21.5,7.8 -21.8,8.5C-22.1,9.2 -22.5,9.8 -22.9,10.2C-23.3,10.6 -23.8,10.8 -24.2,10.8C-24.7,10.8 -25.2,10.7 -25.6,10.3C-26,10 -26.4,9.4 -26.8,8.8C-27.1,8.1 -27.4,7.3 -27.5,6.4C-27.7,5.5 -27.8,4.5 -27.8,3.5C-27.8,2.5 -27.7,1.4 -27.4,0.4C-27.2,-0.6 -26.9,-1.6 -26.4,-2.5C-26,-3.3 -25.5,-4.2 -24.9,-4.8C-24.3,-5.5 -23.6,-6 -22.9,-6.4C-22.2,-6.8 -21.4,-7 -20.6,-7C-19.8,-7.1 -19,-6.9 -18.3,-6.6C-17.5,-6.4 -16.7,-5.9 -16.1,-5.4C-15.4,-4.8 -14.8,-4.1 -14.2,-3.4C-13.7,-2.6 -13.2,-1.8 -12.9,-0.9C-12.5,-0.1 -12.3,0.9 -12.1,1.7C-12,2.5 -11.9,3.4 -12,4.2C-12.1,4.9 -12.2,5.6 -12.5,6.2C-12.7,6.8 -13,7.2 -13.4,7.6C-13.8,7.9 -14.2,8.1 -14.7,8.2C-15.1,8.3 -15.6,8.2 -16.1,8C-16.5,7.8 -17,7.5 -17.3,7.1C-17.7,6.7 -18.1,6.2 -18.3,5.6C-18.6,5.1 -18.8,4.4 -18.8,3.8C-18.9,3.1 -18.9,2.4 -18.8,1.7C-18.6,1.1 -18.4,0.4 -18.1,-0.2C-17.7,-0.9 -17.3,-1.4 -16.7,-1.9C-16.2,-2.4 -15.6,-2.9 -14.9,-3.2C-14.3,-3.5 -13.5,-3.7 -12.8,-3.9C-12,-4 -11.2,-4 -10.4,-3.9C-9.6,-3.9 -8.8,-3.7 -8.1,-3.4C-7.4,-3.2 -6.7,-2.8 -6.1,-2.5C-5.5,-2.1 -4.9,-1.6 -4.5,-1.1C-4.1,-0.6 -3.7,-0 -3.5,0.5C-3.2,1 -3.1,1.6 -3.1,2.1C-3,2.6 -3.1,3.1 -3.3,3.6C-3.4,4 -3.7,4.4 -4,4.8C-4.3,5.1 -4.7,5.4 -5.1,5.5C-5.6,5.7 -6,5.8 -6.5,5.8C-7,5.8 -7.4,5.7 -7.9,5.5C-8.3,5.3 -8.7,5 -9,4.7C-9.3,4.3 -9.6,3.9 -9.7,3.4C-9.9,2.9 -10,2.3 -9.9,1.8C-9.9,1.2 -9.8,0.5 -9.5,-0.1C-9.3,-0.7 -8.9,-1.3 -8.5,-1.8C-8.1,-2.4 -7.5,-3 -6.9,-3.4C-6.3,-3.9 -5.6,-4.3 -4.9,-4.7C-4.2,-5 -3.4,-5.2 -2.6,-5.3C-1.8,-5.4 -1,-5.5 -0.2,-5.4C0.5,-5.3 1.3,-5 1.9,-4.7C2.6,-4.4 3.2,-4 3.7,-3.5C4.3,-2.9 4.7,-2.3 5.1,-1.7C5.4,-1 5.6,-0.3 5.8,0.4C5.9,1.1 5.9,1.9 5.8,2.6C5.8,3.3 5.6,4 5.3,4.6C5.1,5.2 4.7,5.8 4.3,6.2C4,6.6 3.5,7 3.1,7.1C2.6,7.3 2.1,7.3 1.7,7.2C1.2,7.1 0.8,6.8 0.4,6.4C0,6 -0.3,5.5 -0.5,4.8C-0.8,4.2 -0.9,3.4 -1,2.5C-1.1,1.7 -1,0.7 -0.9,-0.2C-0.7,-1.2 -0.5,-2.2 -0.1,-3.2C0.2,-4.1 0.7,-5 1.2,-5.9C1.8,-6.7 2.4,-7.4 3.1,-8C3.7,-8.6 4.5,-9.1 5.3,-9.4C6,-9.7 6.8,-9.9 7.6,-9.8C8.4,-9.8 9.2,-9.5 9.9,-9.1C10.6,-8.7 11.3,-8.2 11.9,-7.5C12.5,-6.8 13,-5.9 13.4,-5C13.9,-4 14.2,-3 14.4,-2C14.7,-0.9 14.8,0.2 14.8,1.2C14.8,2.3 14.7,3.3 14.5,4.2C14.4,5.1 14.1,5.9 13.8,6.6C13.4,7.2 13,7.8 12.6,8.1C12.2,8.4 11.7,8.6 11.2,8.5C10.8,8.5 10.3,8.2 9.9,7.8C9.5,7.4 9.1,6.8 8.8,6.1C8.5,5.4 8.2,4.5 8.1,3.5C7.9,2.6 7.9,1.5 7.9,0.4C8,-0.6 8.1,-1.8 8.4,-2.8C8.6,-3.9 9,-4.9 9.4,-5.8C9.9,-6.8 10.5,-7.6 11.1,-8.3C11.7,-9 12.4,-9.5 13.1,-9.9C13.9,-10.3 14.7,-10.4 15.4,-10.5C16.2,-10.5 17,-10.3 17.8,-10C18.5,-9.7 19.3,-9.2 19.9,-8.5C20.6,-7.9 21.2,-7.2 21.7,-6.3C22.2,-5.5 22.7,-4.6 23,-3.7C23.3,-2.8 23.5,-1.8 23.6,-0.8C23.7,0.1 23.7,1 23.7,1.8C23.6,2.6 23.4,3.3 23.1,3.9C22.8,4.5 22.5,5 22.1,5.3C21.7,5.7 21.2,5.9 20.8,5.9C20.4,6 19.9,5.9 19.4,5.6C19,5.4 18.5,5 18.2,4.6C17.8,4.1 17.5,3.5 17.3,2.9C17,2.2 16.9,1.5 16.8,0.8C16.8,0.1 17,-1.1 17,-1.4 M-36,-4 L-29,0 M28,-2 L40,-7" fill="none" stroke="#e3c23e" stroke-width="1" stroke-linecap="round"/><g fill="#7a6a7a" opacity=".7"><circle cx="14.9" cy="-0.3" r="0.7"/><circle cx="-23.5" cy="2.4" r="0.7"/><circle cx="39.9" cy="-10.2" r="0.7"/><circle cx="-3.6" cy="7.7" r="0.7"/><circle cx="-31.1" cy="2.6" r="0.7"/><circle cx="29.9" cy="-1.4" r="0.7"/><circle cx="23.1" cy="-3" r="0.7"/><circle cx="-32" cy="-1.9" r="0.7"/><circle cx="-14.3" cy="8" r="0.7"/><circle cx="35.4" cy="-7.8" r="0.7"/></g></g>
<rect x="2549" y="1968" width="216" height="6" fill="#222"/><path d="M2518.8,1971 L2550,1955.3 L2550,1986.8Z" fill="#222"/><g transform="translate(2657.3,1967.3)" fill="#fe1614"><rect x="-49.3" y="-11.6" width="98.6" height="23.2" rx="2" transform="rotate(45)"/><rect x="-49.3" y="-11.6" width="98.6" height="23.2" rx="2" transform="rotate(-45)"/></g>
<defs><linearGradient id="gb" x1="0" x2="1" y1="0" y2="0"><stop offset="0" stop-color="#ee8a1b"/><stop offset=".08" stop-color="#f7980f"/><stop offset=".22" stop-color="#ffb000"/><stop offset=".38" stop-color="#ffa800"/><stop offset=".58" stop-color="#fd9a00"/><stop offset=".62" stop-color="#fa9000"/><stop offset=".9" stop-color="#f68e05"/><stop offset="1" stop-color="#ee8a1b"/></linearGradient><linearGradient id="gc" x1="0" x2="1" y1="0" y2="0"><stop offset="0" stop-color="#bdbdbd"/><stop offset=".3" stop-color="#cfcfcf"/><stop offset="1" stop-color="#c2c2c2"/></linearGradient><linearGradient id="gl" x1="0" x2="1" y1="0" y2="0"><stop offset="0" stop-color="#eaeaea"/><stop offset=".45" stop-color="#eeeeee"/><stop offset=".5" stop-color="#dcdcdc"/><stop offset="1" stop-color="#d4d4d4"/></linearGradient></defs><path d="M2860.8,1874 L2964.2,1874 L2964.2,2062 C2964.2,2073.5 2860.8,2073.5 2860.8,2062Z" fill="url(#gb)"/><path d="M2860.8,2058 C2870,2066 2955,2066 2964.2,2058 L2964.2,2062 C2964.2,2073.5 2860.8,2073.5 2860.8,2062Z" fill="#e07f2e" opacity=".75"/><path d="M2882.3,1921 C2905,1922 2945,1920.5 2964.2,1917 L2964.2,2032 C2945,2036 2905,2037.5 2882.3,2036.5Z" fill="url(#gl)"/><g font-family="'Liberation Serif',serif" fill="#3a3a3a"><text x="2903" y="1954.5" font-size="22">R</text><text x="2911.5" y="1965.5" font-size="18">X</text></g><g stroke="#454545" fill="none" stroke-linecap="round"><path d="M2905,1973.3 Q2940,1973.6 2964,1970.5 M2905,1979.6 Q2940,1979.9 2964,1976.8" stroke-width="2"/><path d="M2905,1993.8 Q2930,1994.3 2949.5,1993.3 M2905,2001.7 Q2930,2002.2 2949.5,2001.2 M2905,2009.4 Q2930,2009.9 2949.5,2008.9" stroke-width="2.6"/></g><path d="M2857,1872 L2969,1872 L2969,1876 C2969,1881.5 2857,1881.5 2857,1876Z" fill="#dedede" stroke="#b5b5b5" stroke-width=".8"/><path d="M2852.8,1853 C2852.8,1845 2972.8,1845 2972.8,1853 L2972.8,1873 C2972.8,1880.5 2852.8,1880.5 2852.8,1873Z" fill="url(#gc)" stroke="#a8a8a8" stroke-width="1"/><path d="M2855.8,1853.5 v22M2858.8,1853.5 v22M2861.8,1853.5 v22M2864.8,1853.5 v22M2867.8,1853.5 v22M2870.8,1853.5 v22M2873.8,1853.5 v22M2876.8,1853.5 v22M2879.8,1853.5 v22M2882.8,1853.5 v22M2885.8,1853.5 v22M2888.8,1853.5 v22M2891.8,1853.5 v22M2894.8,1853.5 v22M2897.8,1853.5 v22M2900.8,1853.5 v22M2903.8,1853.5 v22M2906.8,1853.5 v22M2909.8,1853.5 v22M2912.8,1853.5 v22M2915.8,1853.5 v22M2918.8,1853.5 v22M2921.8,1853.5 v22M2924.8,1853.5 v22M2927.8,1853.5 v22M2930.8,1853.5 v22M2933.8,1853.5 v22M2936.8,1853.5 v22M2939.8,1853.5 v22M2942.8,1853.5 v22M2945.8,1853.5 v22M2948.8,1853.5 v22M2951.8,1853.5 v22M2954.8,1853.5 v22M2957.8,1853.5 v22M2960.8,1853.5 v22M2963.8,1853.5 v22M2966.8,1853.5 v22M2969.8,1853.5 v22" stroke="#b4b4b4" stroke-width=".7" opacity=".7"/><path d="M2853.5,1852.5 C2856,1847.5 2969.6,1847.5 2972.2,1852.5 C2969.6,1856 2856,1856 2853.5,1852.5Z" fill="#cdcdcd" opacity=".9"/>
<rect x="3055.3" y="2064" width="1.6" height="44" fill="#8b8b8b"/><rect x="3042.4" y="1903" width="28.6" height="139.4" fill="#eef0f1" stroke="#7c7c7c" stroke-width="1.2"/><path d="M3047.6,1818 L3064.6,1818 L3067.6,1836 L3067.6,1972 L3045.6,1972 L3045.6,1836Z" fill="#e3e4e5" stroke="#8a8a8a" stroke-width="1.1"/><path d="M3059.2,1820 V1972" stroke="#9a9a9a" stroke-width="1"/><rect x="3042.8" y="1903.5" width="27.8" height="68" fill="#f3f4f5" opacity=".55"/><rect x="3043.2" y="1976.5" width="27" height="65.5" fill="#abd5ea"/><rect x="3043.2" y="1971.5" width="27" height="5.5" fill="#4a4a4a"/><path d="M3046,1915 h9M3046,1924.6 h5M3046,1934.2 h9M3046,1943.8 h5M3046,1953.4 h9M3046,1963 h5M3046,1972.6 h9M3046,1982.2 h5M3046,1991.8 h9M3046,2001.4 h5M3046,2011 h9M3046,2020.6 h5M3046,2030.2 h9" stroke="#8899a5" stroke-width=".8"/><rect x="3042.4" y="1903" width="28.6" height="139.4" fill="none" stroke="#7c7c7c" stroke-width="1.2"/><path d="M3021,1899.5 C3030,1897.5 3036,1898.5 3041.5,1898.5 L3071.5,1898.5 C3078,1898.5 3084,1897.5 3091,1899.5 C3093.5,1902 3091,1905.5 3085,1905.5 L3027,1905.5 C3021,1905.5 3018.5,1902 3021,1899.5Z" fill="#fafafa" stroke="#6c6c6c" stroke-width="1.2"/><ellipse cx="3056.1" cy="1813.8" rx="20.4" ry="3.9" fill="#f7f7f7" stroke="#666" stroke-width="1.1"/><path d="M3046.4,2042.6 L3066.8,2042.6 L3066,2049 L3062.5,2064.5 L3050,2064.5 L3047.2,2049Z" fill="#43ae9d" stroke="#2e8e7f" stroke-width="1"/><path d="M3047.2,2049 H3066" stroke="#2e8e7f" stroke-width="1"/>
<g font-family="'Liberation Sans',Arial,sans-serif" fill="#000" stroke="#000" stroke-width=".25" opacity=".999"><g id="t0"><text x="403" y="125.2" font-size="48" textLength="984.4" lengthAdjust="spacingAndGlyphs" text-anchor="start" xml:space="preserve">EVs derived from microbes facilitate microbes</text></g>
<g id="t1"><text x="534.6" y="182.4" font-size="48" textLength="708" lengthAdjust="spacingAndGlyphs" text-anchor="start" xml:space="preserve">survival and infection during UTIs</text></g>
<g id="t2"><text x="2045.8" y="102.6" font-size="43.5" textLength="35.8" lengthAdjust="spacingAndGlyphs" text-anchor="start" xml:space="preserve">1.</text></g>
<g id="t3"><text x="2102.6" y="102.6" font-size="43.5" textLength="844.4" lengthAdjust="spacingAndGlyphs" text-anchor="start" xml:space="preserve">EVs derived from microbes facilitate biofilm</text></g>
<g id="t4"><text x="2104" y="154.5" font-size="43.5" textLength="820" lengthAdjust="spacingAndGlyphs" text-anchor="start" xml:space="preserve">formation and dispersion in the urothelium</text></g>
<g id="t5"><text x="2055.4" y="655.8" font-size="43.5" textLength="902.2" lengthAdjust="spacingAndGlyphs" text-anchor="start" xml:space="preserve">2. EVs derived from microbes, which consist of</text></g>
<g id="t6"><text x="2097.8" y="708" font-size="43.5" textLength="896.2" lengthAdjust="spacingAndGlyphs" text-anchor="start" xml:space="preserve">hemolysin (Bacteria) and Sap 2 &amp; Sap6 (fungi),</text></g>
<g id="t7"><text x="2098.8" y="759.7" font-size="43.5" textLength="605" lengthAdjust="spacingAndGlyphs" text-anchor="start" xml:space="preserve">cause rupture of the urothelium</text></g>
<g id="t8"><text x="2055.4" y="1235.8" font-size="43.5" textLength="915" lengthAdjust="spacingAndGlyphs" text-anchor="start" xml:space="preserve">3. EVs derived from microbes facilitate immune</text></g>
<g id="t9"><text x="2097.8" y="1288" font-size="43.5" textLength="462.8" lengthAdjust="spacingAndGlyphs" text-anchor="start" xml:space="preserve">modulation and evasion</text></g>
<g id="t10"><text x="2035.2" y="1758.2" font-size="43.5" textLength="1004" lengthAdjust="spacingAndGlyphs" text-anchor="start" xml:space="preserve">4. EVs derived from microbes decrease antimicrobial</text></g>
<g id="t11"><text x="2088.2" y="1806" font-size="43.5" textLength="367.2" lengthAdjust="spacingAndGlyphs" text-anchor="start" xml:space="preserve">agent susceptibility</text></g>
<g id="t12"><text x="2252.4" y="905.7" font-size="39" textLength="183.6" lengthAdjust="spacingAndGlyphs" text-anchor="start" xml:space="preserve">Hemolysin</text></g>
<g id="t13"><text x="2756.4" y="869.2" font-size="43" textLength="146.6" lengthAdjust="spacingAndGlyphs" text-anchor="start" xml:space="preserve">Sap 2 &amp;</text></g>
<g id="t14"><text x="2780.8" y="917.3" font-size="43" textLength="97.2" lengthAdjust="spacingAndGlyphs" text-anchor="start" xml:space="preserve">Sap6</text></g></g>
</svg></body></html>
